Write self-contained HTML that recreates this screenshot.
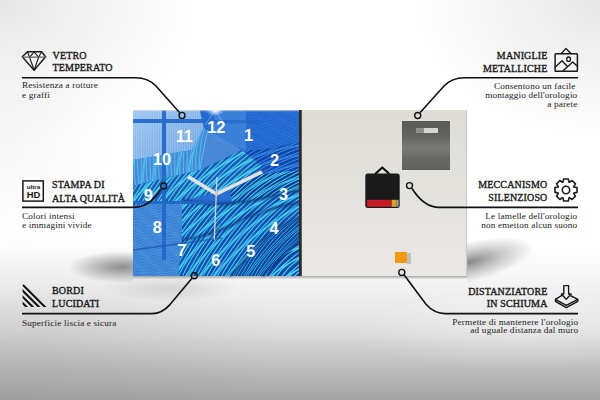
<!DOCTYPE html>
<html><head><meta charset="utf-8">
<style>
html,body{margin:0;padding:0;width:600px;height:400px;overflow:hidden;}
body{position:relative;background:#fff;font-family:"Liberation Serif",serif;}
#bg{position:absolute;left:0;top:0;width:600px;height:400px;
background:
 radial-gradient(ellipse 170px 45px at 520px 325px, rgba(255,255,255,0.35) 0%, rgba(255,255,255,0) 100%),
 radial-gradient(ellipse 260px 110px at 20px 340px, rgba(0,0,0,0.07) 0%, rgba(0,0,0,0) 100%),
 linear-gradient(180deg, rgba(0,0,0,0) 0px, rgba(0,0,0,0) 245px, rgba(0,0,0,0.04) 280px, rgba(0,0,0,0.13) 330px, rgba(0,0,0,0.27) 372px, rgba(0,0,0,0.36) 400px),
 radial-gradient(ellipse 200px 150px at 0px 0px, rgba(0,0,0,0.10) 0%, rgba(0,0,0,0.04) 55%, rgba(0,0,0,0) 100%),
 radial-gradient(ellipse 190px 140px at 600px 0px, rgba(0,0,0,0.10) 0%, rgba(0,0,0,0.04) 55%, rgba(0,0,0,0) 100%),
 radial-gradient(ellipse 120px 90px at 0px 150px, rgba(0,0,0,0.03) 0%, rgba(0,0,0,0) 100%),
 #ffffff;}
svg{position:absolute;left:0;top:0;}
</style></head><body>
<div id="bg"></div>
<svg width="600" height="400" viewBox="0 0 600 400">
<defs>
 <radialGradient id="shL" cx="0.5" cy="0.5" r="0.5">
  <stop offset="0" stop-color="#000" stop-opacity="0.42"/>
  <stop offset="0.5" stop-color="#000" stop-opacity="0.22"/>
  <stop offset="1" stop-color="#000" stop-opacity="0"/>
 </radialGradient>
 <radialGradient id="shR" cx="0.5" cy="0.5" r="0.5">
  <stop offset="0" stop-color="#000" stop-opacity="0.45"/>
  <stop offset="0.5" stop-color="#000" stop-opacity="0.2"/>
  <stop offset="1" stop-color="#000" stop-opacity="0"/>
 </radialGradient>
 <linearGradient id="shB" x1="0" y1="0" x2="0" y2="1">
  <stop offset="0" stop-color="#000" stop-opacity="0.32"/>
  <stop offset="1" stop-color="#000" stop-opacity="0"/>
 </linearGradient>
 <linearGradient id="panelG" x1="0" y1="0" x2="0" y2="1">
  <stop offset="0" stop-color="#dedcd5"/>
  <stop offset="0.5" stop-color="#e3e2dd"/>
  <stop offset="1" stop-color="#e9e8e4"/>
 </linearGradient>
 <linearGradient id="blueBase" x1="0" y1="0" x2="1" y2="1">
  <stop offset="0" stop-color="#7fb2e6"/>
  <stop offset="0.35" stop-color="#3f8ad8"/>
  <stop offset="0.7" stop-color="#1f6fd0"/>
  <stop offset="1" stop-color="#1555b8"/>
 </linearGradient>
 <linearGradient id="plate" x1="0" y1="0" x2="0" y2="1">
  <stop offset="0" stop-color="#5a5a58"/>
  <stop offset="0.3" stop-color="#626260"/>
  <stop offset="0.55" stop-color="#7a7a78"/>
  <stop offset="0.75" stop-color="#686866"/>
  <stop offset="1" stop-color="#60605e"/>
 </linearGradient>
</defs>
<!-- shadows -->
<clipPath id="clipSL"><rect x="0" y="200" width="133" height="120"/></clipPath>
<clipPath id="clipSR"><rect x="467" y="200" width="133" height="120"/></clipPath>
<g clip-path="url(#clipSL)"><ellipse cx="122" cy="267" rx="54" ry="16" fill="url(#shL)"/></g>
<g clip-path="url(#clipSR)"><ellipse cx="470" cy="262" rx="66" ry="20" fill="url(#shR)" transform="rotate(-14 470 262)"/></g>
<rect x="133" y="276" width="334" height="3.5" fill="url(#shB)"/>
<ellipse cx="170" cy="288" rx="70" ry="14" fill="url(#shL)" opacity="0.25"/>
<!-- blue panel -->
<rect x="133" y="110" width="166" height="166" fill="#2468d0"/>
<clipPath id="q1"><polygon points="133,110 300,110 300,276 133,276"/></clipPath>
<path clip-path="url(#q1)" d="M47.0 163.2 51.5 159.2 57.3 157.0 61.0 151.8 67.3 150.3 71.0 145.2 76.7 142.8 81.4 139.1 85.9 135.1 91.8 132.9 95.4 127.7 101.7 126.2 105.4 121.1 111.1 118.7 115.8 115.0 120.4 111.0 126.2 108.8 129.8 103.6 136.1 102.1 139.8 97.0 145.5 94.7 150.2 90.9 154.8 86.9 160.6 84.7 164.2 79.5 170.5 78.0 174.2 72.9 179.9 70.6 184.6 66.8 189.2 62.8 195.0 60.7 198.6 55.5 204.9 53.9 208.6 48.8 214.3 46.5 219.0 42.7 223.6 38.7 229.4 36.6 233.0 31.4 239.3 29.8 243.0 24.7M47.9 164.5 53.4 161.8 58.3 158.4 62.6 154.1 68.6 152.2 72.2 146.9 78.4 145.3 82.3 140.4 87.8 137.8 92.7 134.3 97.1 130.0 103.0 128.1 106.6 122.8 112.8 121.2 116.7 116.3 122.2 113.7 127.1 110.2 131.5 106.0 137.4 104.0 141.0 98.7 147.3 97.1 151.1 92.2 156.6 89.6 161.5 86.1 165.9 81.9 171.8 79.9 175.4 74.6 181.7 73.0 185.5 68.1 191.0 65.5 195.9 62.0 200.3 57.8 206.2 55.8 209.8 50.5 216.1 48.9 219.9 44.0 225.4 41.4 230.3 38.0 234.7 33.7 240.6 31.7 244.2 26.4M49.0 166.1 55.2 164.4 59.2 159.7 64.5 156.8 69.6 153.7 73.8 149.1 79.9 147.3 83.4 142.0 89.6 140.3 93.6 135.6 98.9 132.7 104.0 129.6 108.2 125.0 114.3 123.2 117.8 117.9 124.0 116.2 128.0 111.5 133.3 108.6 138.4 105.5 142.6 100.9 148.7 99.2 152.2 93.8 158.4 92.1 162.4 87.4 167.7 84.5 172.9 81.4 177.0 76.8 183.1 75.1 186.7 69.7 192.8 68.0 196.8 63.3 202.1 60.4 207.3 57.3 211.4 52.7 217.5 51.0 221.1 45.6 227.2 43.9 231.2 39.2 236.5 36.3 241.7 33.2 245.8 28.6M50.5 168.2 56.7 166.5 60.3 161.2 66.3 159.4 70.5 154.9 75.6 151.7 81.0 148.9 84.9 144.1 91.1 142.5 94.7 137.1 100.7 135.3 104.9 130.8 110.0 127.6 115.4 124.8 119.3 120.0 125.5 118.4 129.1 113.0 135.1 111.2 139.3 106.8 144.4 103.5 149.8 100.7 153.7 95.9 159.9 94.3 163.5 88.9 169.5 87.1 173.7 82.7 178.8 79.4 184.2 76.6 188.1 71.8 194.3 70.2 197.9 64.8 203.9 63.0 208.2 58.6 213.2 55.3 218.6 52.5 222.5 47.7 228.7 46.1 232.3 40.7 238.3 38.9 242.6 34.5 247.6 31.2M52.3 170.7 57.9 168.2 61.7 163.2 67.9 161.6 71.5 156.4 77.4 154.3 81.9 150.2 86.7 146.6 92.3 144.1 96.1 139.1 102.3 137.5 105.9 132.3 111.8 130.2 116.3 126.1 121.1 122.5 126.7 120.0 130.5 115.0 136.7 113.4 140.3 108.2 146.2 106.1 150.7 102.0 155.5 98.4 161.1 95.9 164.9 90.9 171.1 89.4 174.7 84.1 180.6 82.0 185.1 77.9 189.9 74.3 195.5 71.8 199.3 66.8 205.5 65.3 209.1 60.0 215.0 57.9 219.5 53.8 224.3 50.2 229.9 47.8 233.7 42.7 239.9 41.2 243.6 35.9 249.4 33.9M54.1 173.3 58.8 169.5 63.3 165.6 69.1 163.4 72.8 158.2 79.1 156.7 82.8 151.5 88.5 149.2 93.2 145.4 97.8 141.5 103.5 139.3 107.2 134.1 113.5 132.6 117.2 127.5 122.9 125.1 127.6 121.4 132.2 117.4 137.9 115.2 141.6 110.0 147.9 108.5 151.6 103.4 157.3 101.1 162.0 97.3 166.6 93.3 172.4 91.1 176.0 85.9 182.3 84.4 186.0 79.3 191.7 77.0 196.4 73.2 201.0 69.2 206.8 67.0 210.4 61.8 216.7 60.3 220.4 55.2 226.1 52.9 230.8 49.1 235.4 45.1 241.2 43.0 244.8 37.8 251.1 36.2M55.8 175.8 59.7 170.8 65.2 168.2 70.1 164.8 74.5 160.5 80.4 158.6 84.0 153.3 90.2 151.7 94.1 146.7 99.6 144.2 104.5 140.7 108.9 136.4 114.8 134.5 118.4 129.2 124.6 127.6 128.5 122.7 134.0 120.1 138.9 116.6 143.3 112.3 149.2 110.4 152.8 105.1 159.1 103.5 162.9 98.6 168.4 96.0 173.3 92.5 177.7 88.3 183.6 86.3 187.2 81.0 193.5 79.4 197.3 74.5 202.8 71.9 207.7 68.4 212.1 64.2 218.0 62.2 221.6 56.9 227.9 55.3 231.7 50.4 237.2 47.8 242.1 44.3 246.5 40.1 252.4 38.1M57.3 177.8 60.8 172.5 67.0 170.8 71.0 166.1 76.3 163.2 81.4 160.0 85.6 155.5 91.7 153.7 95.2 148.4 101.4 146.7 105.4 142.0 110.7 139.1 115.8 135.9 120.0 131.4 126.1 129.6 129.6 124.3 135.8 122.6 139.8 117.9 145.1 115.0 150.2 111.9 154.4 107.3 160.5 105.5 164.0 100.2 170.2 98.5 174.2 93.8 179.5 90.9 184.6 87.8 188.8 83.2 194.9 81.5 198.4 76.1 204.6 74.4 208.6 69.7 213.9 66.8 219.0 63.7 223.2 59.1 229.3 57.4 232.9 52.0 239.0 50.3 243.0 45.6 248.3 42.7 253.5 39.6M58.3 179.4 62.3 174.6 68.5 172.9 72.1 167.6 78.1 165.8 82.3 161.3 87.4 158.1 92.7 155.3 96.7 150.5 102.9 148.8 106.5 143.5 112.5 141.7 116.7 137.2 121.8 134.0 127.2 131.2 131.1 126.4 137.3 124.7 140.9 119.4 146.9 117.6 151.1 113.1 156.2 109.9 161.6 107.1 165.5 102.3 171.7 100.7 175.3 95.3 181.3 93.5 185.5 89.0 190.6 85.8 196.0 83.0 199.9 78.2 206.1 76.6 209.7 71.2 215.7 69.4 219.9 64.9 225.0 61.7 230.4 58.9 234.3 54.1 240.5 52.5 244.1 47.1 250.1 45.3 254.3 40.9M59.2 180.7 64.1 177.1 69.6 174.6 73.5 169.6 79.7 168.0 83.3 162.7 89.2 160.7 93.6 156.6 98.5 153.0 104.0 150.5 107.9 145.5 114.1 143.9 117.7 138.7 123.6 136.6 128.1 132.5 132.9 128.9 138.5 126.4 142.3 121.4 148.5 119.8 152.1 114.6 158.0 112.5 162.5 108.4 167.3 104.8 172.9 102.3 176.7 97.3 182.9 95.7 186.5 90.5 192.4 88.4 196.9 84.3 201.7 80.7 207.3 78.2 211.1 73.2 217.3 71.7 220.9 66.4 226.8 64.3 231.3 60.2 236.1 56.6 241.7 54.1 245.5 49.1 251.7 47.6 255.3 42.3M60.2 182.0 65.9 179.7 70.6 175.9 75.2 172.0 80.9 169.8 84.6 164.6 90.9 163.1 94.6 157.9 100.3 155.6 105.0 151.8 109.6 147.9 115.3 145.7 119.0 140.5 125.3 139.0 129.0 133.8 134.7 131.5 139.4 127.7 144.0 123.8 149.7 121.6 153.4 116.4 159.7 114.9 163.4 109.7 169.1 107.5 173.8 103.6 178.4 99.7 184.1 97.5 187.8 92.3 194.1 90.8 197.8 85.7 203.5 83.4 208.2 79.5 212.8 75.6 218.6 73.4 222.2 68.2 228.5 66.7 232.2 61.6 237.9 59.3 242.6 55.5 247.2 51.5 253.0 49.3 256.6 44.1M61.4 183.7 67.6 182.2 71.5 177.2 77.0 174.6 81.9 171.2 86.3 166.9 92.2 165.0 95.8 159.7 102.0 158.1 105.9 153.1 111.4 150.6 116.3 147.1 120.7 142.8 126.6 140.9 130.2 135.6 136.4 134.0 140.3 129.0 145.8 126.5 150.7 123.0 155.1 118.7 161.0 116.8 164.6 111.5 170.9 109.9 174.7 105.0 180.2 102.4 185.1 98.9 189.5 94.7 195.4 92.7 199.0 87.4 205.3 85.8 209.1 80.9 214.6 78.3 219.5 74.8 223.9 70.6 229.8 68.6 233.4 63.3 239.7 61.7 243.5 56.8 249.0 54.2 253.9 50.7 258.3 46.5M63.0 186.0 69.1 184.2 72.6 178.8 78.8 177.2 82.8 172.4 88.1 169.6 93.2 166.4 97.4 161.9 103.5 160.1 107.0 154.8 113.2 153.1 117.2 148.4 122.5 145.5 127.6 142.3 131.8 137.8 137.9 136.0 141.4 130.7 147.6 129.0 151.6 124.3 156.9 121.4 162.0 118.2 166.2 113.7 172.3 111.9 175.8 106.6 182.0 104.9 186.0 100.2 191.3 97.3 196.4 94.1 200.6 89.6 206.7 87.8 210.2 82.5 216.4 80.8 220.4 76.1 225.7 73.2 230.8 70.1 235.0 65.5 241.1 63.7 244.6 58.4 250.8 56.7 254.8 52.0 260.1 49.1M64.8 188.6 70.1 185.7 74.1 180.9 80.3 179.3 83.9 174.0 89.9 172.2 94.1 167.7 99.2 164.5 104.5 161.7 108.5 156.9 114.7 155.2 118.3 149.9 124.3 148.1 128.5 143.6 133.6 140.4 138.9 137.6 142.9 132.8 149.1 131.1 152.7 125.8 158.7 124.0 162.9 119.5 168.0 116.3 173.3 113.5 177.3 108.7 183.5 107.0 187.1 101.7 193.1 99.9 197.3 95.4 202.4 92.2 207.8 89.4 211.7 84.6 217.9 83.0 221.5 77.6 227.5 75.8 231.7 71.3 236.8 68.1 242.2 65.3 246.1 60.5 252.3 58.9 255.9 53.5 261.9 51.7M66.6 191.2 71.0 187.0 75.9 183.5 81.4 181.0 85.3 176.0 91.5 174.4 95.1 169.1 101.0 167.1 105.4 162.9 110.3 159.4 115.8 156.9 119.7 151.9 125.9 150.3 129.5 145.0 135.4 143.0 139.8 138.9 144.7 135.3 150.2 132.8 154.1 127.8 160.3 126.2 163.9 120.9 169.8 118.9 174.2 114.8 179.1 111.2 184.7 108.7 188.5 103.7 194.7 102.1 198.3 96.9 204.2 94.8 208.7 90.7 213.5 87.1 219.1 84.6 222.9 79.6 229.1 78.0 232.7 72.8 238.6 70.7 243.1 66.6 247.9 63.0 253.5 60.5 257.3 55.5 263.5 54.0M68.3 193.5 72.0 188.4 77.7 186.1 82.4 182.3 87.0 178.4 92.7 176.2 96.4 171.0 102.7 169.5 106.4 164.3 112.1 162.0 116.8 158.2 121.4 154.3 127.1 152.1 130.8 146.9 137.1 145.4 140.8 140.2 146.5 137.9 151.2 134.1 155.8 130.2 161.5 128.0 165.2 122.8 171.5 121.3 175.2 116.1 180.9 113.9 185.6 110.0 190.2 106.1 195.9 103.9 199.6 98.7 205.9 97.2 209.6 92.0 215.3 89.8 220.0 85.9 224.6 82.0 230.3 79.8 234.0 74.6 240.3 73.1 244.0 67.9 249.7 65.7 254.4 61.8 259.0 57.9 264.7 55.7M69.6 195.4 73.2 190.1 79.4 188.6 83.3 183.6 88.8 181.0 93.7 177.5 98.1 173.3 104.0 171.3 107.6 166.0 113.8 164.5 117.7 159.5 123.2 156.9 128.1 153.5 132.5 149.2 138.4 147.3 142.0 142.0 148.2 140.4 152.1 135.4 157.6 132.9 162.5 129.4 166.9 125.1 172.8 123.2 176.4 117.9 182.7 116.3 186.5 111.3 192.0 108.8 196.9 105.3 201.3 101.0 207.2 99.1 210.8 93.8 217.1 92.2 220.9 87.2 226.4 84.7 231.3 81.2 235.7 77.0 241.6 75.0 245.2 69.7 251.5 68.1 255.3 63.2 260.8 60.6 265.7 57.1M70.6 196.9 74.8 192.4 80.8 190.6 84.4 185.2 90.6 183.6 94.6 178.8 99.9 176.0 105.0 172.8 109.2 168.3 115.3 166.5 118.8 161.1 125.0 159.5 129.0 154.7 134.3 151.9 139.4 148.7 143.6 144.2 149.7 142.4 153.2 137.0 159.4 135.4 163.4 130.6 168.7 127.8 173.8 124.6 178.0 120.1 184.1 118.3 187.6 113.0 193.8 111.3 197.8 106.6 203.1 103.7 208.2 100.5 212.4 96.0 218.5 94.2 222.0 88.9 228.2 87.2 232.2 82.5 237.5 79.6 242.6 76.4 246.8 71.9 252.9 70.1 256.4 64.8 262.6 63.1 266.6 58.4M71.5 198.2 76.6 194.9 81.9 192.1 85.9 187.3 92.1 185.7 95.7 180.4 101.7 178.5 105.9 174.1 111.0 170.9 116.3 168.0 120.3 163.3 126.5 161.6 130.1 156.3 136.1 154.5 140.3 150.0 145.4 146.8 150.7 143.9 154.7 139.2 160.9 137.5 164.5 132.2 170.5 130.4 174.7 125.9 179.8 122.7 185.1 119.9 189.1 115.1 195.3 113.4 198.9 108.1 204.9 106.3 209.1 101.8 214.2 98.6 219.5 95.8 223.5 91.0 229.7 89.3 233.3 84.0 239.3 82.2 243.5 77.7 248.6 74.5 253.9 71.7 257.9 66.9 264.1 65.3 267.7 59.9M72.5 199.6 78.4 197.6 82.8 193.4 87.7 189.9 93.2 187.3 97.1 182.3 103.3 180.8 106.9 175.5 112.8 173.5 117.2 169.3 122.1 165.8 127.6 163.3 131.5 158.3 137.7 156.7 141.3 151.4 147.2 149.4 151.6 145.2 156.5 141.7 162.0 139.2 165.9 134.2 172.1 132.6 175.7 127.3 181.6 125.3 186.0 121.1 190.9 117.6 196.4 115.1 200.3 110.1 206.5 108.5 210.1 103.2 216.0 101.2 220.4 97.1 225.3 93.5 230.8 91.0 234.7 86.0 240.9 84.4 244.5 79.1 250.4 77.1 254.8 73.0 259.7 69.4 265.3 66.9 269.1 61.9M73.8 201.5 80.1 199.9 83.8 194.8 89.5 192.5 94.2 188.7 98.8 184.8 104.5 182.6 108.2 177.4 114.5 175.8 118.2 170.7 123.9 168.4 128.6 164.6 133.2 160.7 138.9 158.5 142.6 153.3 148.9 151.8 152.6 146.6 158.3 144.3 163.0 140.5 167.6 136.6 173.3 134.4 177.0 129.2 183.3 127.7 187.0 122.5 192.7 120.2 197.4 116.4 202.0 112.5 207.7 110.3 211.4 105.1 217.7 103.6 221.4 98.4 227.1 96.2 231.8 92.3 236.4 88.4 242.1 86.2 245.8 81.0 252.1 79.5 255.8 74.3 261.5 72.1 266.2 68.2 270.8 64.3M75.5 203.8 81.4 201.8 85.0 196.5 91.2 195.0 95.1 190.0 100.6 187.4 105.5 183.9 109.9 179.7 115.8 177.7 119.4 172.4 125.6 170.9 129.5 165.9 135.0 163.3 139.9 159.8 144.3 155.6 150.2 153.6 153.8 148.3 160.1 146.8 163.9 141.8 169.4 139.3 174.3 135.7 178.7 131.5 184.6 129.5 188.2 124.3 194.5 122.7 198.3 117.7 203.8 115.2 208.7 111.7 213.1 107.4 219.0 105.5 222.6 100.2 228.9 98.6 232.7 93.6 238.2 91.1 243.1 87.6 247.5 83.4 253.4 81.4 257.0 76.1 263.3 74.5 267.1 69.5 272.6 67.0M77.3 206.4 82.4 203.3 86.6 198.8 92.6 197.0 96.2 191.6 102.4 190.0 106.4 185.2 111.7 182.3 116.8 179.2 121.0 174.7 127.0 172.9 130.6 167.5 136.8 165.9 140.8 161.1 146.1 158.3 151.2 155.1 155.4 150.6 161.5 148.8 165.0 143.4 171.2 141.8 175.2 137.0 180.5 134.2 185.6 131.0 189.8 126.5 195.9 124.7 199.4 119.3 205.6 117.7 209.6 112.9 214.9 110.1 220.0 106.9 224.2 102.4 230.3 100.6 233.8 95.3 240.0 93.6 244.0 88.8 249.3 86.0 254.4 82.8 258.6 78.3 264.7 76.5 268.2 71.2 274.4 69.5M79.1 209.0 83.3 204.5 88.4 201.3 93.7 198.5 97.7 193.7 103.9 192.1 107.5 186.7 113.5 184.9 117.7 180.4 122.8 177.3 128.1 174.4 132.1 169.6 138.3 168.0 141.9 162.6 147.9 160.8 152.1 156.4 157.2 153.2 162.5 150.3 166.5 145.6 172.7 143.9 176.3 138.6 182.3 136.8 186.5 132.3 191.6 129.1 196.9 126.2 200.9 121.5 207.1 119.8 210.7 114.5 216.7 112.7 220.9 108.2 226.0 105.0 231.3 102.1 235.3 97.4 241.5 95.7 245.1 90.4 251.1 88.6 255.3 84.1 260.4 80.9 265.7 78.1 269.7 73.3 275.9 71.6M80.7 211.3 84.3 206.0 90.2 204.0 94.6 199.8 99.5 196.3 105.0 193.7 108.9 188.7 115.1 187.2 118.7 181.9 124.6 179.9 129.0 175.7 133.9 172.2 139.4 169.6 143.3 164.6 149.5 163.1 153.1 157.8 159.0 155.8 163.4 151.6 168.3 148.1 173.8 145.5 177.7 140.6 183.9 139.0 187.5 133.7 193.4 131.7 197.8 127.5 202.7 124.0 208.2 121.5 212.1 116.5 218.3 114.9 221.9 109.6 227.8 107.6 232.2 103.4 237.1 99.9 242.6 97.4 246.5 92.4 252.7 90.8 256.3 85.5 262.3 83.5 266.6 79.3 271.5 75.8 277.0 73.3M81.9 213.0 85.6 207.9 91.9 206.3 95.6 201.2 101.3 198.9 105.9 195.0 110.6 191.2 116.3 188.9 120.0 183.8 126.3 182.2 130.0 177.1 135.7 174.8 140.4 171.0 145.0 167.1 150.7 164.8 154.4 159.7 160.7 158.1 164.4 153.0 170.1 150.7 174.8 146.9 179.4 143.0 185.1 140.8 188.8 135.6 195.1 134.1 198.8 128.9 204.5 126.6 209.2 122.8 213.8 118.9 219.5 116.7 223.2 111.5 229.5 110.0 233.2 104.8 238.9 102.6 243.6 98.7 248.2 94.8 253.9 92.6 257.6 87.4 263.9 85.9 267.6 80.7 273.4 78.5 278.0 74.6M82.9 214.4 87.3 210.2 93.2 208.2 96.8 202.9 103.0 201.4 106.9 196.4 112.4 193.8 117.3 190.3 121.7 186.1 127.6 184.1 131.2 178.8 137.4 177.3 141.3 172.3 146.8 169.7 151.7 166.2 156.1 162.0 162.0 160.0 165.6 154.7 171.9 153.2 175.7 148.2 181.2 145.7 186.1 142.1 190.5 137.9 196.4 135.9 200.0 130.6 206.3 129.1 210.1 124.1 215.6 121.6 220.5 118.0 224.9 113.8 230.8 111.8 234.4 106.6 240.7 105.0 244.5 100.0 250.0 97.5 254.9 93.9 259.3 89.8 265.2 87.8 268.8 82.5 275.1 80.9 278.9 75.9M83.8 215.7 89.1 212.8 94.2 209.6 98.4 205.2 104.4 203.4 108.0 198.0 114.2 196.4 118.2 191.6 123.5 188.7 128.6 185.6 132.8 181.1 138.8 179.3 142.4 173.9 148.6 172.3 152.6 167.5 157.9 164.7 163.0 161.5 167.2 157.0 173.2 155.2 176.8 149.8 183.0 148.2 187.0 143.4 192.3 140.6 197.4 137.4 201.6 132.9 207.7 131.1 211.2 125.7 217.4 124.1 221.4 119.3 226.7 116.5 231.8 113.3 236.0 108.8 242.1 107.0 245.6 101.6 251.8 100.0 255.8 95.2 261.1 92.4 266.2 89.2 270.4 84.7 276.5 82.9 280.0 77.6M84.8 217.2 90.9 215.4 95.1 210.9 100.2 207.7 105.5 204.9 109.5 200.1 115.7 198.5 119.3 193.1 125.3 191.3 129.5 186.8 134.6 183.7 139.9 180.8 143.9 176.0 150.1 174.4 153.7 169.0 159.7 167.2 163.9 162.7 169.0 159.6 174.3 156.7 178.3 151.9 184.5 150.3 188.1 144.9 194.1 143.2 198.3 138.6 203.4 135.5 208.7 132.6 212.7 127.9 218.9 126.2 222.5 120.9 228.5 119.1 232.7 114.6 237.8 111.4 243.1 108.5 247.1 103.8 253.3 102.1 256.9 96.8 262.9 95.0 267.1 90.5 272.2 87.3 277.5 84.4 281.5 79.7M86.2 219.2 92.5 217.7 96.1 212.4 102.0 210.4 106.4 206.2 111.3 202.7 116.8 200.1 120.7 195.1 126.9 193.6 130.5 188.3 136.4 186.3 140.8 182.1 145.7 178.6 151.2 176.0 155.1 171.0 161.3 169.5 164.9 164.2 170.8 162.2 175.2 158.0 180.1 154.5 185.6 151.9 189.5 146.9 195.7 145.4 199.3 140.1 205.2 138.1 209.6 133.9 214.5 130.4 220.0 127.8 223.9 122.9 230.1 121.3 233.7 116.0 239.6 114.0 244.0 109.8 248.9 106.3 254.4 103.7 258.3 98.8 264.5 97.2 268.1 91.9 274.1 89.9 278.4 85.7 283.3 82.2M88.0 221.7 93.7 219.4 97.4 214.2 103.7 212.7 107.4 207.5 113.1 205.3 117.7 201.4 122.4 197.6 128.1 195.3 131.8 190.2 138.1 188.6 141.8 183.5 147.5 181.2 152.1 177.3 156.8 173.5 162.5 171.2 166.2 166.1 172.5 164.5 176.2 159.4 181.9 157.1 186.5 153.2 191.2 149.4 196.9 147.1 200.6 142.0 206.9 140.4 210.6 135.3 216.3 133.0 221.0 129.2 225.6 125.3 231.3 123.0 235.0 117.9 241.3 116.4 245.0 111.2 250.8 109.0 255.4 105.1 260.0 101.2 265.7 99.0 269.4 93.8 275.7 92.3 279.4 87.1 285.2 84.9M89.8 224.3 94.7 220.8 99.1 216.6 105.0 214.6 108.6 209.3 114.8 207.8 118.7 202.7 124.2 200.2 129.1 196.7 133.5 192.5 139.4 190.5 143.0 185.2 149.2 183.7 153.1 178.7 158.6 176.1 163.5 172.6 167.9 168.4 173.8 166.4 177.4 161.1 183.7 159.6 187.5 154.6 193.0 152.1 197.9 148.5 202.3 144.3 208.2 142.3 211.8 137.0 218.1 135.5 221.9 130.5 227.4 128.0 232.3 124.4 236.7 120.2 242.6 118.2 246.2 112.9 252.5 111.4 256.3 106.4 261.8 103.9 266.7 100.3 271.1 96.1 277.0 94.1 280.6 88.9 286.9 87.3M91.6 226.8 95.6 222.1 100.9 219.2 106.0 216.0 110.2 211.5 116.2 209.7 119.8 204.4 126.0 202.8 130.0 198.0 135.3 195.1 140.4 191.9 144.6 187.5 150.6 185.6 154.2 180.3 160.4 178.7 164.4 173.9 169.7 171.1 174.8 167.8 179.0 163.4 185.0 161.6 188.6 156.2 194.8 154.6 198.8 149.8 204.1 147.0 209.2 143.8 213.4 139.3 219.4 137.5 223.0 132.1 229.2 130.5 233.2 125.7 238.5 122.9 243.6 119.7 247.8 115.2 253.9 113.4 257.4 108.0 263.6 106.4 267.6 101.6 272.9 98.8 278.0 95.6 282.2 91.1 288.3 89.3M93.1 229.0 96.6 223.6 102.7 221.8 106.9 217.3 112.0 214.1 117.3 211.3 121.3 206.5 127.5 204.9 131.0 199.5 137.1 197.7 141.3 193.2 146.4 190.1 151.7 187.2 155.7 182.4 161.9 180.8 165.5 175.4 171.5 173.6 175.7 169.1 180.8 166.0 186.1 163.1 190.1 158.3 196.3 156.7 199.9 151.3 205.9 149.5 210.1 145.0 215.2 141.9 220.5 139.0 224.5 134.3 230.7 132.6 234.3 127.2 240.3 125.5 244.5 120.9 249.6 117.8 254.9 114.9 258.9 110.2 265.1 108.5 268.7 103.2 274.7 101.4 278.9 96.8 284.0 93.7 289.3 90.8M94.2 230.6 98.0 225.6 104.3 224.0 107.9 218.8 113.8 216.8 118.2 212.5 123.1 209.1 128.6 206.5 132.5 201.5 138.7 200.0 142.3 194.7 148.2 192.7 152.6 188.5 157.5 185.0 163.0 182.4 166.9 177.4 173.1 175.9 176.7 170.6 182.6 168.6 187.0 164.4 191.9 160.9 197.4 158.3 201.3 153.3 207.5 151.8 211.1 146.5 217.0 144.5 221.4 140.3 226.3 136.8 231.8 134.2 235.7 129.2 241.9 127.7 245.5 122.4 251.5 120.4 255.8 116.2 260.7 112.7 266.2 110.1 270.1 105.2 276.3 103.6 279.9 98.3 285.9 96.3 290.2 92.1M95.1 231.9 99.8 228.1 105.5 225.8 109.2 220.6 115.5 219.1 119.2 213.9 124.9 211.7 129.5 207.8 134.2 204.0 139.9 201.7 143.6 196.5 149.9 195.0 153.6 189.8 159.3 187.6 163.9 183.7 168.6 179.9 174.3 177.6 178.0 172.5 184.3 170.9 188.0 165.7 193.7 163.5 198.3 159.6 203.0 155.8 208.7 153.5 212.4 148.4 218.7 146.8 222.4 141.7 228.2 139.4 232.7 135.5 237.4 131.7 243.1 129.4 246.8 124.3 253.1 122.7 256.8 117.6 262.6 115.3 267.1 111.4 271.8 107.6 277.5 105.3 281.2 100.2 287.5 98.7 291.2 93.5M96.1 233.2 101.6 230.7 106.5 227.2 110.9 223.0 116.8 221.0 120.4 215.7 126.6 214.1 130.5 209.1 136.0 206.6 140.9 203.1 145.3 198.9 151.2 196.9 154.8 191.6 161.0 190.1 164.9 185.0 170.4 182.5 175.3 179.0 179.7 174.8 185.6 172.8 189.2 167.5 195.5 166.0 199.3 160.9 204.8 158.4 209.7 154.9 214.1 150.7 220.0 148.7 223.6 143.4 229.9 141.9 233.7 136.9 239.2 134.4 244.1 130.8 248.5 126.6 254.4 124.6 258.0 119.3 264.3 117.8 268.1 112.8 273.6 110.3 278.5 106.7 282.9 102.5 288.8 100.5 292.4 95.2M97.2 234.9 103.4 233.2 107.4 228.4 112.7 225.6 117.8 222.4 122.0 217.9 128.0 216.1 131.6 210.8 137.8 209.1 141.8 204.3 147.1 201.5 152.2 198.3 156.4 193.9 162.4 192.0 166.0 186.7 172.2 185.1 176.2 180.3 181.5 177.5 186.6 174.2 190.8 169.8 196.8 167.9 200.4 162.6 206.6 161.0 210.6 156.2 215.9 153.4 221.0 150.1 225.2 145.7 231.2 143.9 234.8 138.5 241.0 136.9 245.0 132.1 250.3 129.3 255.4 126.0 259.6 121.6 265.6 119.8 269.2 114.4 275.4 112.8 279.4 108.0 284.7 105.2 289.8 102.0 294.0 97.5M98.7 237.0 104.9 235.3 108.4 230.0 114.5 228.2 118.7 223.7 123.8 220.5 129.1 217.6 133.1 212.9 139.3 211.3 142.8 205.9 148.9 204.1 153.1 199.6 158.2 196.5 163.5 193.6 167.5 188.8 173.7 187.2 177.2 181.8 183.3 180.0 187.5 175.5 192.6 172.4 197.9 169.5 201.9 164.7 208.1 163.1 211.7 157.7 217.7 155.9 221.9 151.4 227.0 148.3 232.3 145.4 236.3 140.6 242.5 139.0 246.1 133.6 252.1 131.9 256.3 127.3 261.4 124.2 266.7 121.3 270.7 116.6 276.9 114.9 280.5 109.5 286.5 107.8 290.7 103.2 295.8 100.1M100.5 239.5 106.0 237.0 109.8 232.0 116.1 230.4 119.7 225.1 125.6 223.2 130.0 218.9 134.9 215.5 140.4 212.9 144.3 207.9 150.5 206.3 154.1 201.0 160.0 199.1 164.4 194.8 169.3 191.4 174.8 188.8 178.7 183.8 184.9 182.3 188.5 177.0 194.4 175.0 198.8 170.7 203.7 167.3 209.2 164.7 213.1 159.7 219.3 158.2 222.9 152.9 228.9 150.9 233.2 146.7 238.1 143.2 243.6 140.6 247.5 135.6 253.7 134.1 257.3 128.8 263.3 126.8 267.6 122.6 272.5 119.1 278.0 116.5 281.9 111.6 288.1 110.0 291.7 104.7 297.7 102.7M102.3 242.2 106.9 238.3 111.6 234.5 117.3 232.2 121.0 227.0 127.3 225.5 131.0 220.3 136.7 218.1 141.3 214.2 146.0 210.4 151.7 208.1 155.4 202.9 161.7 201.4 165.4 196.2 171.1 194.0 175.7 190.1 180.4 186.3 186.1 184.0 189.8 178.8 196.1 177.3 199.8 172.1 205.6 169.9 210.1 166.0 214.8 162.2 220.5 159.9 224.2 154.8 230.5 153.2 234.2 148.0 240.0 145.8 244.5 141.9 249.2 138.1 254.9 135.8 258.6 130.7 264.9 129.1 268.6 123.9 274.4 121.7 278.9 117.8 283.6 114.0 289.3 111.7 293.0 106.6 299.3 105.0M104.0 244.6 107.8 239.6 113.4 237.1 118.2 233.5 122.7 229.4 128.6 227.4 132.2 222.1 138.4 220.5 142.2 215.5 147.8 213.0 152.6 209.4 157.1 205.3 163.0 203.3 166.6 198.0 172.8 196.4 176.7 191.4 182.2 188.9 187.1 185.4 191.5 181.2 197.4 179.2 201.0 173.9 207.3 172.4 211.1 167.3 216.6 164.8 221.5 161.3 225.9 157.1 231.8 155.1 235.4 149.8 241.7 148.3 245.5 143.2 251.0 140.8 255.9 137.2 260.3 133.0 266.2 131.0 269.8 125.7 276.1 124.2 279.9 119.1 285.5 116.7 290.3 113.1 294.7 108.9 300.6 106.9M105.4 246.6 109.0 241.3 115.2 239.6 119.1 234.8 124.5 232.0 129.6 228.8 133.8 224.3 139.8 222.5 143.4 217.2 149.6 215.5 153.6 210.7 158.9 207.9 164.0 204.7 168.2 200.2 174.2 198.4 177.8 193.1 184.0 191.4 188.0 186.6 193.3 183.8 198.4 180.6 202.6 176.2 208.6 174.3 212.2 169.0 218.4 167.4 222.4 162.5 227.7 159.8 232.8 156.5 237.0 152.1 243.0 150.2 246.6 144.9 252.8 143.3 256.8 138.5 262.1 135.7 267.2 132.4 271.4 128.0 277.4 126.1 281.0 120.8 287.2 119.2 291.2 114.4 296.5 111.6 301.6 108.3M106.5 248.1 110.5 243.4 116.7 241.7 120.2 236.4 126.3 234.6 130.5 230.1 135.6 226.9 140.9 224.0 144.9 219.3 151.1 217.6 154.6 212.3 160.7 210.5 164.9 206.0 170.0 202.8 175.3 199.9 179.3 195.2 185.5 193.5 189.0 188.2 195.1 186.4 199.3 181.9 204.4 178.8 209.7 175.8 213.7 171.1 219.9 169.5 223.4 164.1 229.5 162.3 233.7 157.8 238.8 154.7 244.1 151.8 248.1 147.0 254.3 145.4 257.9 140.0 263.9 138.2 268.1 133.7 273.2 130.6 278.5 127.7 282.5 122.9 288.7 121.3 292.3 115.9 298.3 114.2 302.5 109.6M107.4 249.4 112.3 245.9 117.8 243.3 121.6 238.4 127.9 236.8 131.5 231.5 137.4 229.6 141.8 225.3 146.7 221.8 152.2 219.3 156.1 214.3 162.3 212.7 165.9 207.4 171.8 205.5 176.2 201.2 181.1 197.8 186.6 195.2 190.5 190.2 196.7 188.6 200.3 183.3 206.3 181.4 210.6 177.1 215.5 173.7 221.0 171.1 224.9 166.1 231.1 164.6 234.7 159.2 240.7 157.3 245.0 153.0 249.9 149.6 255.4 147.0 259.3 142.0 265.5 140.5 269.1 135.2 275.1 133.2 279.4 128.9 284.3 125.5 289.8 122.9 293.7 117.9 299.9 116.4 303.5 111.1M108.3 250.8 114.1 248.6 118.7 244.7 123.4 240.9 129.1 238.6 132.8 233.4 139.1 231.9 142.8 226.7 148.5 224.5 153.1 220.6 157.8 216.8 163.5 214.5 167.2 209.3 173.5 207.8 177.2 202.6 183.0 200.4 187.5 196.5 192.2 192.7 197.9 190.4 201.6 185.2 207.9 183.7 211.6 178.5 217.4 176.3 221.9 172.4 226.6 168.6 232.3 166.3 236.0 161.1 242.3 159.6 246.0 154.4 251.8 152.2 256.3 148.3 261.0 144.5 266.7 142.2 270.4 137.1 276.7 135.5 280.4 130.3 286.2 128.1 290.7 124.2 295.4 120.4 301.1 118.1 304.8 113.0M109.6 252.6 115.8 251.0 119.6 246.0 125.2 243.5 130.0 239.9 134.5 235.8 140.4 233.7 144.0 228.5 150.2 226.9 154.0 221.9 159.6 219.4 164.4 215.8 168.9 211.7 174.8 209.6 178.4 204.4 184.6 202.8 188.4 197.8 194.0 195.3 198.8 191.7 203.3 187.6 209.2 185.6 212.8 180.3 219.1 178.7 222.9 173.7 228.4 171.2 233.2 167.6 237.7 163.5 243.6 161.5 247.2 156.2 253.5 154.7 257.3 149.6 262.9 147.2 267.7 143.5 272.1 139.4 278.0 137.4 281.6 132.1 287.9 130.6 291.7 125.5 297.3 123.1 302.1 119.5 306.5 115.3M111.2 254.8 117.2 253.0 120.8 247.6 127.0 246.0 130.9 241.2 136.3 238.4 141.4 235.2 145.6 230.7 151.6 228.9 155.2 223.6 161.4 221.9 165.3 217.1 170.7 214.3 175.8 211.1 180.0 206.6 186.0 204.8 189.6 199.5 195.8 197.8 199.7 193.0 205.1 190.2 210.2 187.0 214.4 182.6 220.4 180.7 224.0 175.4 230.2 173.8 234.2 168.9 239.5 166.2 244.6 162.9 248.8 158.5 254.8 156.6 258.4 151.3 264.6 149.7 268.6 144.8 273.9 142.1 279.0 138.8 283.2 134.4 289.2 132.5 292.8 127.2 299.0 125.6 303.0 120.7 308.3 118.0M113.0 257.4 118.3 254.5 122.3 249.8 128.5 248.1 132.0 242.8 138.1 241.0 142.3 236.4 147.4 233.3 152.7 230.4 156.7 225.7 162.9 224.0 166.4 218.7 172.5 216.9 176.7 212.3 181.8 209.2 187.1 206.3 191.1 201.6 197.3 199.9 200.8 194.6 206.9 192.8 211.1 188.3 216.2 185.2 221.5 182.2 225.5 177.5 231.7 175.8 235.2 170.5 241.3 168.7 245.5 164.2 250.6 161.1 255.9 158.1 259.9 153.4 266.1 151.8 269.6 146.4 275.7 144.6 279.9 140.1 285.0 137.0 290.3 134.0 294.3 129.3 300.5 127.7 304.1 122.3 310.1 120.6M114.8 260.1 119.2 255.8 124.1 252.3 129.6 249.7 133.5 244.8 139.7 243.2 143.3 237.9 149.2 236.0 153.6 231.7 158.5 228.2 164.0 225.6 167.9 220.7 174.1 219.1 177.7 213.8 183.6 211.9 188.0 207.6 192.9 204.2 198.4 201.5 202.3 196.6 208.5 195.0 212.1 189.7 218.1 187.8 222.4 183.5 227.3 180.1 232.8 177.5 236.7 172.5 242.9 170.9 246.5 165.6 252.5 163.7 256.8 159.4 261.7 156.0 267.2 153.4 271.1 148.4 277.3 146.9 280.9 141.5 286.9 139.6 291.2 135.3 296.1 131.9 301.6 129.3 305.5 124.3 311.7 122.8M116.5 262.4 120.1 257.2 125.9 255.0 130.5 251.0 135.2 247.3 140.9 244.9 144.6 239.8 150.9 238.3 154.5 233.1 160.3 230.9 164.9 226.9 169.6 223.2 175.3 220.8 179.0 215.7 185.3 214.2 189.0 209.0 194.8 206.8 199.3 202.9 204.0 199.1 209.7 196.8 213.4 191.6 219.7 190.1 223.4 184.9 229.2 182.7 233.7 178.8 238.4 175.0 244.1 172.7 247.8 167.5 254.1 166.0 257.8 160.8 263.6 158.6 268.1 154.7 272.8 150.9 278.5 148.6 282.2 143.4 288.5 141.9 292.2 136.7 298.0 134.5 302.5 130.6 307.2 126.8 312.9 124.5M117.8 264.2 121.4 258.9 127.6 257.4 131.4 252.4 137.0 249.9 141.8 246.3 146.3 242.2 152.2 240.1 155.8 234.9 162.0 233.3 165.8 228.3 171.4 225.8 176.2 222.2 180.7 218.1 186.6 216.0 190.2 210.8 196.4 209.2 200.2 204.2 205.8 201.7 210.6 198.1 215.1 194.0 221.0 191.9 224.6 186.7 230.9 185.1 234.6 180.1 240.3 177.6 245.0 174.0 249.5 169.9 255.4 167.8 259.0 162.6 265.3 161.0 269.0 156.0 274.7 153.6 279.4 149.9 283.9 145.8 289.8 143.8 293.4 138.5 299.7 137.0 303.5 131.9 309.1 129.5 313.8 125.8M118.7 265.6 123.0 261.2 129.0 259.4 132.6 254.0 138.8 252.4 142.7 247.6 148.1 244.8 153.2 241.5 157.4 237.1 163.4 235.3 167.0 229.9 173.2 228.3 177.1 223.5 182.5 220.7 187.6 217.5 191.8 213.0 197.8 211.2 201.4 205.9 207.6 204.2 211.5 199.4 216.9 196.6 222.0 193.4 226.2 188.9 232.2 187.1 235.8 181.8 242.0 180.1 245.9 175.3 251.3 172.6 256.4 169.3 260.6 164.9 266.6 163.0 270.2 157.7 276.4 156.1 280.3 151.2 285.7 148.5 290.8 145.2 295.0 140.8 301.0 138.9 304.6 133.6 310.8 132.0 314.8 127.1M119.6 266.9 124.8 263.8 130.1 260.9 134.1 256.2 140.3 254.5 143.8 249.1 149.9 247.4 154.0 242.8 159.2 239.7 164.5 236.8 168.5 232.1 174.7 230.4 178.2 225.1 184.3 223.3 188.4 218.7 193.6 215.6 198.9 212.7 202.9 208.0 209.1 206.3 212.6 201.0 218.7 199.2 222.9 194.6 228.0 191.6 233.3 188.6 237.3 183.9 243.5 182.2 247.0 176.9 253.1 175.1 257.3 170.5 262.4 167.5 267.7 164.5 271.7 159.8 277.9 158.1 281.4 152.8 287.5 151.0 291.7 146.5 296.8 143.4 302.1 140.4 306.1 135.7 312.3 134.0 315.8 128.7M120.7 268.4 126.6 266.4 131.0 262.2 135.9 258.7 141.4 256.1 145.3 251.2 151.5 249.6 155.1 244.3 161.0 242.4 165.4 238.1 170.3 234.6 175.8 232.0 179.7 227.1 185.9 225.5 189.5 220.2 195.5 218.3 199.8 214.0 204.7 210.6 210.2 207.9 214.1 203.0 220.3 201.4 223.9 196.1 229.9 194.2 234.2 189.9 239.1 186.5 244.6 183.8 248.5 178.9 254.7 177.3 258.3 172.0 264.3 170.1 268.6 165.8 273.5 162.4 279.0 159.7 282.9 154.8 289.1 153.2 292.7 147.9 298.7 146.0 303.0 141.7 307.9 138.3 313.4 135.7 317.3 130.7M122.0 270.3 128.3 268.8 131.9 263.5 137.7 261.4 142.3 257.4 147.0 253.7 152.7 251.3 156.4 246.2 162.7 244.7 166.3 239.5 172.2 237.3 176.7 233.3 181.4 229.6 187.1 227.2 190.8 222.1 197.1 220.6 200.7 215.4 206.6 213.2 211.1 209.2 215.8 205.5 221.5 203.1 225.2 198.0 231.5 196.5 235.2 191.3 241.0 189.1 245.5 185.1 250.2 181.4 255.9 179.0 259.6 173.9 265.9 172.4 269.6 167.2 275.4 165.0 279.9 161.0 284.6 157.3 290.3 155.0 294.0 149.8 300.3 148.3 304.0 143.1 309.8 140.9 314.3 137.0 319.0 133.2M123.7 272.7 129.5 270.6 133.2 265.3 139.4 263.8 143.2 258.7 148.8 256.3 153.6 252.7 158.1 248.6 164.0 246.5 167.6 241.2 173.8 239.7 177.6 234.7 183.2 232.2 188.0 228.6 192.5 224.5 198.4 222.4 202.0 217.2 208.2 215.6 212.0 210.6 217.7 208.1 222.4 204.5 226.9 200.4 232.8 198.3 236.4 193.1 242.7 191.5 246.4 186.5 252.1 184.0 256.8 180.4 261.3 176.3 267.2 174.2 270.8 169.0 277.1 167.4 280.8 162.4 286.5 159.9 291.2 156.3 295.7 152.2 301.6 150.1 305.2 144.9 311.5 143.3 315.2 138.3 320.9 135.9M125.5 275.3 130.5 272.0 134.8 267.6 140.8 265.8 144.4 260.4 150.6 258.8 154.5 254.0 159.9 251.2 164.9 247.9 169.2 243.5 175.2 241.7 178.8 236.3 185.0 234.7 188.9 229.9 194.3 227.1 199.3 223.8 203.6 219.4 209.6 217.6 213.2 212.2 219.4 210.6 223.3 205.8 228.7 203.0 233.8 199.7 238.0 195.3 244.0 193.5 247.6 188.1 253.8 186.5 257.7 181.7 263.1 179.0 268.2 175.7 272.4 171.3 278.4 169.4 282.0 164.1 288.2 162.4 292.1 157.6 297.5 154.9 302.6 151.6 306.8 147.2 312.8 145.3 316.4 140.0 322.6 138.4M127.3 277.9 131.4 273.3 136.6 270.2 141.9 267.3 145.9 262.6 152.0 260.9 155.6 255.5 161.7 253.8 165.8 249.2 171.0 246.1 176.3 243.2 180.3 238.5 186.5 236.8 190.0 231.4 196.1 229.7 200.2 225.1 205.4 222.0 210.7 219.1 214.7 214.4 220.9 212.7 224.4 207.3 230.5 205.6 234.6 201.0 239.8 198.0 245.1 195.0 249.1 190.3 255.3 188.6 258.8 183.3 264.9 181.5 269.0 176.9 274.2 173.9 279.5 170.9 283.5 166.2 289.7 164.5 293.2 159.2 299.3 157.4 303.5 152.8 308.6 149.8 313.9 146.8 317.9 142.1 324.1 140.4M128.9 280.1 132.5 274.8 138.4 272.8 142.8 268.5 147.7 265.1 153.2 262.5 157.1 257.6 163.3 256.0 166.9 250.7 172.9 248.8 177.2 244.4 182.1 241.0 187.6 238.4 191.5 233.5 197.7 231.9 201.3 226.6 207.3 224.7 211.6 220.4 216.5 217.0 222.0 214.3 225.9 209.4 232.1 207.8 235.7 202.5 241.7 200.6 246.0 196.3 250.9 192.9 256.4 190.2 260.3 185.3 266.5 183.7 270.1 178.4 276.1 176.5 280.4 172.2 285.3 168.8 290.8 166.1 294.7 161.2 300.9 159.6 304.5 154.3 310.5 152.4 314.8 148.1 319.7 144.7 325.2 142.0M130.1 281.8 133.8 276.7 140.1 275.2 143.7 269.9 149.6 267.8 154.1 263.8 158.8 260.0 164.5 257.7 168.2 252.6 174.5 251.1 178.1 245.8 184.0 243.7 188.5 239.7 193.2 236.0 198.9 233.6 202.6 228.5 208.9 227.0 212.5 221.8 218.4 219.6 222.9 215.6 227.6 211.9 233.3 209.5 237.0 204.4 243.3 202.9 246.9 197.7 252.8 195.5 257.3 191.5 262.0 187.8 267.7 185.4 271.4 180.3 277.7 178.8 281.3 173.6 287.2 171.4 291.7 167.4 296.4 163.7 302.1 161.3 305.8 156.2 312.1 154.7 315.8 149.5 321.6 147.3 326.1 143.3M131.0 283.1 135.5 279.1 141.3 277.0 145.0 271.7 151.2 270.2 155.0 265.1 160.6 262.7 165.4 259.0 169.9 255.0 175.7 252.9 179.4 247.6 185.6 246.1 189.4 241.0 195.1 238.6 199.8 235.0 204.3 230.9 210.2 228.8 213.8 223.5 220.0 222.0 223.8 216.9 229.5 214.5 234.2 210.9 238.7 206.8 244.6 204.7 248.2 199.5 254.5 197.9 258.2 192.9 263.9 190.4 268.6 186.8 273.1 182.7 279.0 180.6 282.6 175.4 288.9 173.8 292.6 168.8 298.3 166.3 303.0 162.7 307.5 158.6 313.4 156.5 317.0 151.3 323.3 149.7 327.0 144.7M131.9 284.4 137.3 281.7 142.3 278.4 146.6 274.0 152.6 272.1 156.2 266.8 162.4 265.2 166.3 260.3 171.7 257.6 176.7 254.3 181.0 249.9 187.0 248.0 190.6 242.7 196.8 241.1 200.7 236.3 206.1 233.5 211.1 230.2 215.4 225.8 221.4 224.0 225.0 218.6 231.2 217.0 235.1 212.2 240.5 209.4 245.5 206.1 249.8 201.7 255.8 199.9 259.4 194.5 265.6 192.9 269.5 188.1 274.9 185.4 279.9 182.0 284.2 177.6 290.2 175.8 293.8 170.4 300.0 168.8 303.9 164.0 309.4 161.3 314.4 157.9 318.6 153.6 324.6 151.7 328.2 146.4M133.0 286.0 139.1 284.3 143.2 279.7 148.4 276.6 153.7 273.6 157.7 269.0 163.8 267.3 167.4 261.9 173.5 260.2 177.6 255.6 182.8 252.5 188.1 249.5 192.1 244.9 198.2 243.2 201.8 237.8 207.9 236.1 212.0 231.5 217.2 228.4 222.5 225.5 226.5 220.8 232.7 219.1 236.2 213.7 242.3 212.0 246.4 207.4 251.6 204.3 256.9 201.4 260.9 196.7 267.1 195.0 270.6 189.6 276.7 187.9 280.8 183.3 286.0 180.3 291.3 177.3 295.3 172.6 301.5 170.9 305.0 165.6 311.2 163.8 315.2 159.2 320.4 156.2 325.7 153.2 329.7 148.5M134.4 288.1 140.7 286.5 144.3 281.1 150.2 279.2 154.5 274.9 159.5 271.5 165.0 268.9 168.9 264.0 175.1 262.4 178.7 257.1 184.7 255.1 188.9 250.8 193.9 247.4 199.4 244.8 203.3 239.9 209.5 238.3 213.1 233.0 219.1 231.1 223.4 226.7 228.3 223.3 233.8 220.7 237.7 215.8 243.9 214.2 247.5 208.9 253.5 207.0 257.8 202.6 262.7 199.3 268.2 196.6 272.1 191.7 278.3 190.1 281.9 184.8 287.9 182.9 292.2 178.6 297.1 175.2 302.6 172.5 306.5 167.6 312.7 166.0 316.3 160.7 322.3 158.8 326.6 154.5 331.5 151.1M136.2 290.5 141.9 288.2 145.6 283.1 151.9 281.5 155.5 276.3 161.4 274.2 165.9 270.2 170.6 266.4 176.3 264.1 180.0 259.0 186.3 257.5 189.9 252.2 195.8 250.1 200.3 246.1 205.0 242.4 210.7 240.0 214.4 234.9 220.7 233.4 224.3 228.1 230.2 226.0 234.7 222.0 239.4 218.3 245.1 215.9 248.8 210.8 255.1 209.3 258.7 204.0 264.6 201.9 269.1 197.9 273.8 194.2 279.5 191.8 283.2 186.7 289.5 185.2 293.1 180.0 299.0 177.8 303.5 173.8 308.2 170.1 313.9 167.7 317.6 162.6 323.9 161.1 327.5 155.9 333.4 153.7M138.0 293.2 142.8 289.5 147.3 285.5 153.1 283.4 156.8 278.1 163.0 276.6 166.8 271.5 172.5 269.1 177.2 265.4 181.7 261.4 187.5 259.3 191.2 254.0 197.4 252.5 201.2 247.4 206.9 245.0 211.6 241.3 216.1 237.3 221.9 235.2 225.6 229.9 231.8 228.4 235.6 223.3 241.3 220.9 246.0 217.2 250.5 213.2 256.3 211.1 260.0 205.8 266.3 204.3 270.0 199.2 275.7 196.8 280.4 193.2 284.9 189.1 290.8 187.0 294.4 181.8 300.7 180.2 304.4 175.1 310.1 172.7 314.8 169.1 319.3 165.0 325.2 162.9 328.8 157.7 335.1 156.1M139.8 295.7 143.7 290.8 149.1 288.1 154.1 284.8 158.4 280.4 164.4 278.5 168.0 273.2 174.2 271.6 178.1 266.7 183.5 264.0 188.5 260.7 192.8 256.3 198.8 254.4 202.4 249.1 208.6 247.5 212.5 242.6 217.9 239.9 222.9 236.6 227.2 232.2 233.2 230.3 236.8 225.0 243.0 223.4 246.9 218.5 252.3 215.8 257.3 212.5 261.6 208.1 267.6 206.3 271.2 200.9 277.4 199.3 281.3 194.5 286.8 191.7 291.7 188.4 296.0 184.0 302.0 182.2 305.6 176.8 311.8 175.2 315.7 170.4 321.2 167.7 326.1 164.3 330.4 160.0 336.4 158.1M141.2 297.8 144.8 292.4 150.9 290.7 155.0 286.0 160.2 283.0 165.4 280.0 169.5 275.4 175.6 273.7 179.2 268.3 185.3 266.6 189.4 262.0 194.6 258.9 199.8 255.9 203.9 251.3 210.0 249.6 213.6 244.2 219.7 242.5 223.8 237.9 229.0 234.8 234.3 231.8 238.3 227.2 244.5 225.5 248.0 220.1 254.1 218.4 258.2 213.8 263.4 210.7 268.7 207.7 272.7 203.1 278.9 201.4 282.4 196.0 288.5 194.3 292.6 189.7 297.8 186.7 303.1 183.7 307.1 179.0 313.3 177.3 316.8 171.9 323.0 170.2 327.0 165.6 332.2 162.6 337.5 159.6M142.3 299.3 146.2 294.4 152.5 292.9 156.1 287.5 162.1 285.6 166.3 281.3 171.3 277.9 176.8 275.2 180.7 270.4 186.9 268.8 190.5 263.4 196.5 261.5 200.7 257.2 205.7 253.8 211.2 251.2 215.1 246.3 221.3 244.7 224.9 239.4 230.9 237.5 235.1 233.1 240.1 229.7 245.6 227.1 249.5 222.2 255.7 220.6 259.3 215.3 265.3 213.4 269.6 209.0 274.5 205.7 280.0 203.0 283.9 198.1 290.1 196.5 293.7 191.2 299.7 189.3 304.0 184.9 308.9 181.6 314.4 178.9 318.3 174.0 324.5 172.4 328.1 167.1 334.1 165.2 338.4 160.8M143.3 300.6 148.0 296.9 153.6 294.6 157.4 289.5 163.7 287.9 167.3 282.7 173.2 280.6 177.7 276.5 182.4 272.8 188.1 270.5 191.8 265.4 198.1 263.8 201.7 258.6 207.6 256.5 212.1 252.5 216.8 248.8 222.5 246.4 226.2 241.3 232.5 239.8 236.1 234.5 242.0 232.4 246.5 228.4 251.2 224.7 256.9 222.3 260.6 217.2 266.9 215.7 270.5 210.4 276.4 208.3 280.9 204.3 285.6 200.6 291.3 198.2 295.0 193.1 301.3 191.6 304.9 186.3 310.8 184.2 315.3 180.2 320.0 176.5 325.7 174.1 329.4 169.0 335.7 167.5 339.3 162.2M144.2 302.0 149.9 299.6 154.6 295.9 159.1 291.9 164.9 289.7 168.6 284.5 174.8 283.0 178.6 277.9 184.3 275.5 189.0 271.8 193.5 267.8 199.3 265.7 203.0 260.4 209.2 258.9 213.0 253.8 218.7 251.4 223.4 247.7 227.9 243.7 233.7 241.6 237.4 236.3 243.6 234.8 247.4 229.7 253.1 227.3 257.8 223.6 262.3 219.6 268.1 217.5 271.8 212.2 278.1 210.7 281.8 205.6 287.5 203.2 292.2 199.5 296.7 195.5 302.5 193.4 306.2 188.1 312.5 186.6 316.2 181.5 321.9 179.1 326.6 175.4 331.1 171.4 337.0 169.3 340.6 164.1M145.4 303.7 151.6 302.1 155.5 297.2 160.9 294.5 165.9 291.1 170.2 286.8 176.2 284.9 179.8 279.6 186.0 278.0 189.9 273.1 195.3 270.4 200.3 267.1 204.6 262.7 210.6 260.8 214.2 255.5 220.4 253.9 224.3 249.0 229.7 246.3 234.7 243.0 239.0 238.6 245.0 236.7 248.6 231.4 254.8 229.8 258.7 224.9 264.2 222.2 269.1 218.9 273.4 214.5 279.4 212.6 283.0 207.3 289.2 205.7 293.1 200.8 298.6 198.1 303.5 194.8 307.8 190.4 313.8 188.5 317.4 183.2 323.6 181.6 327.5 176.7 333.0 174.1 337.9 170.7 342.2 166.4M146.9 305.9 153.0 304.1 156.6 298.8 162.7 297.1 166.8 292.4 172.0 289.4 177.2 286.4 181.3 281.8 187.4 280.0 191.0 274.7 197.1 273.0 201.2 268.3 206.4 265.3 211.6 262.3 215.7 257.7 221.8 256.0 225.4 250.6 231.5 248.9 235.6 244.2 240.8 241.2 246.0 238.2 250.1 233.6 256.2 231.9 259.8 226.5 265.9 224.8 270.0 220.2 275.2 217.1 280.4 214.1 284.5 209.5 290.7 207.8 294.2 202.4 300.3 200.7 304.4 196.1 309.6 193.1 314.9 190.0 318.9 185.4 325.1 183.7 328.6 178.3 334.8 176.6 338.8 172.0 344.0 169.0M148.7 308.4 154.1 305.7 158.1 300.8 164.3 299.2 167.9 293.9 173.9 292.0 178.1 287.7 183.1 284.3 188.5 281.6 192.5 276.7 198.7 275.2 202.3 269.8 208.3 267.9 212.5 263.6 217.5 260.2 223.0 257.5 226.9 252.7 233.1 251.1 236.7 245.7 242.7 243.8 246.9 239.5 251.9 236.1 257.4 233.4 261.3 228.6 267.5 227.0 271.1 221.6 277.1 219.8 281.3 215.4 286.3 212.1 291.8 209.4 295.7 204.5 301.9 202.9 305.5 197.6 311.5 195.7 315.7 191.3 320.7 188.0 326.2 185.3 330.1 180.4 336.3 178.8 339.9 173.5 345.9 171.6M150.6 311.1 155.1 307.0 159.8 303.3 165.4 300.9 169.2 295.9 175.5 294.3 179.1 289.1 185.0 287.0 189.5 282.9 194.2 279.2 199.8 276.8 203.6 271.8 209.9 270.2 213.5 265.0 219.4 262.9 223.9 258.8 228.6 255.1 234.2 252.8 238.0 247.7 244.3 246.1 247.9 240.9 253.8 238.8 258.3 234.7 263.0 231.1 268.7 228.7 272.4 223.6 278.7 222.0 282.3 216.8 288.2 214.7 292.7 210.7 297.4 207.0 303.1 204.6 306.8 199.5 313.1 198.0 316.7 192.7 322.6 190.6 327.1 186.6 331.8 182.9 337.5 180.5 341.2 175.4 347.5 173.9M152.2 313.5 156.0 308.4 161.7 306.0 166.4 302.3 170.9 298.3 176.7 296.1 180.4 290.9 186.6 289.4 190.4 284.3 196.1 281.9 200.8 278.2 205.3 274.2 211.1 272.0 214.8 266.8 221.0 265.3 224.8 260.2 230.5 257.8 235.2 254.1 239.7 250.1 245.5 247.9 249.2 242.7 255.4 241.2 259.2 236.1 264.9 233.7 269.6 230.0 274.1 226.0 279.9 223.9 283.6 218.6 289.9 217.1 293.6 212.0 299.3 209.6 304.0 205.9 308.5 201.9 314.3 199.8 318.0 194.5 324.3 193.0 328.0 187.9 333.7 185.5 338.4 181.8 342.9 177.8 348.7 175.7M153.6 315.4 157.2 310.1 163.4 308.5 167.3 303.6 172.7 300.9 177.7 297.5 182.0 293.2 188.0 291.3 191.6 286.0 197.8 284.4 201.7 279.5 207.1 276.8 212.1 273.4 216.4 269.1 222.4 267.2 226.0 261.9 232.2 260.3 236.1 255.4 241.6 252.7 246.5 249.3 250.8 245.0 256.8 243.1 260.4 237.8 266.6 236.2 270.5 231.3 276.0 228.6 280.9 225.3 285.2 220.9 291.2 219.0 294.8 213.7 301.0 212.1 304.9 207.2 310.4 204.5 315.3 201.2 319.6 196.8 325.6 194.9 329.2 189.6 335.4 188.0 339.3 183.1 344.8 180.5 349.7 177.1M154.6 316.9 158.7 312.2 164.8 310.5 168.4 305.2 174.5 303.5 178.6 298.8 183.8 295.8 189.0 292.8 193.1 288.2 199.2 286.4 202.8 281.1 208.9 279.4 213.0 274.7 218.2 271.7 223.4 268.7 227.5 264.1 233.6 262.3 237.2 257.0 243.3 255.3 247.4 250.6 252.6 247.6 257.8 244.6 261.9 240.0 268.0 238.3 271.6 232.9 277.7 231.2 281.8 226.5 287.0 223.5 292.2 220.5 296.3 215.9 302.4 214.2 306.0 208.8 312.2 207.1 316.2 202.4 321.4 199.5 326.6 196.4 330.7 191.8 336.9 190.1 340.4 184.7 346.6 183.0 350.6 178.4M155.5 318.1 160.5 314.8 165.9 312.1 169.9 307.2 176.1 305.6 179.6 300.3 185.7 298.4 189.9 294.1 194.9 290.7 200.3 288.0 204.3 283.1 210.5 281.5 214.1 276.2 220.1 274.3 224.3 270.0 229.3 266.6 234.7 263.9 238.7 259.1 244.9 257.5 248.5 252.1 254.5 250.2 258.7 245.9 263.7 242.5 269.1 239.8 273.1 235.0 279.3 233.4 282.9 228.0 288.9 226.2 293.1 221.8 298.1 218.5 303.6 215.7 307.5 210.9 313.7 209.3 317.3 203.9 323.3 202.1 327.5 197.7 332.5 194.4 338.0 191.6 341.9 186.8 348.1 185.2 351.7 179.8M156.5 319.6 162.4 317.5 166.8 313.4 171.6 309.7 177.2 307.3 181.0 302.2 187.3 300.7 190.9 295.5 196.8 293.4 201.2 289.3 206.0 285.6 211.6 283.2 215.4 278.2 221.7 276.6 225.3 271.4 231.2 269.3 235.7 265.2 240.4 261.5 246.0 259.1 249.8 254.1 256.1 252.5 259.7 247.3 265.6 245.2 270.1 241.1 274.8 237.5 280.4 235.0 284.2 230.0 290.5 228.4 294.1 223.2 300.0 221.1 304.5 217.0 309.2 213.4 314.9 211.0 318.6 205.9 324.9 204.3 328.5 199.1 334.4 197.0 338.9 192.9 343.6 189.3 349.3 186.9 353.0 181.8M157.8 321.4 164.0 319.8 167.8 314.7 173.5 312.4 178.2 308.7 182.7 304.7 188.5 302.5 192.2 297.3 198.4 295.8 202.2 290.7 207.9 288.3 212.6 284.6 217.1 280.6 222.9 278.4 226.6 273.2 232.8 271.7 236.6 266.6 242.3 264.2 247.0 260.5 251.5 256.5 257.3 254.3 261.0 249.1 267.2 247.6 271.0 242.5 276.7 240.1 281.4 236.4 285.9 232.4 291.7 230.2 295.4 225.0 301.7 223.5 305.4 218.4 311.1 216.0 315.8 212.3 320.3 208.3 326.1 206.1 329.8 200.9 336.1 199.4 339.8 194.3 345.5 191.9 350.2 188.2 354.7 184.2M159.4 323.7 165.4 321.8 169.0 316.4 175.2 314.9 179.1 310.0 184.5 307.3 189.5 303.9 193.8 299.6 199.8 297.7 203.4 292.4 209.6 290.8 213.5 285.9 219.0 283.2 223.9 279.8 228.2 275.5 234.2 273.6 237.8 268.3 244.0 266.7 247.9 261.8 253.4 259.1 258.3 255.7 262.6 251.4 268.6 249.5 272.2 244.2 278.4 242.6 282.3 237.7 287.8 235.0 292.7 231.6 297.0 227.3 303.0 225.4 306.6 220.1 312.8 218.5 316.7 213.6 322.2 210.9 327.1 207.5 331.4 203.2 337.4 201.3 341.0 196.0 347.2 194.4 351.1 189.5 356.6 186.9M161.2 326.3 166.4 323.2 170.5 318.6 176.6 316.9 180.2 311.6 186.3 309.9 190.4 305.2 195.6 302.2 200.8 299.2 204.9 294.6 211.0 292.8 214.6 287.5 220.7 285.8 224.8 281.1 230.0 278.1 235.2 275.1 239.3 270.5 245.4 268.7 249.0 263.4 255.1 261.7 259.2 257.0 264.4 254.0 269.6 251.0 273.7 246.4 279.8 244.6 283.4 239.3 289.5 237.6 293.6 232.9 298.8 229.9 304.0 226.9 308.1 222.3 314.2 220.5 317.8 215.2 324.0 213.5 328.0 208.8 333.3 205.9 338.4 202.8 342.5 198.2 348.6 196.5 352.2 191.1 358.4 189.4M163.1 328.9 167.3 324.5 172.3 321.2 177.7 318.5 181.7 313.6 187.9 312.0 191.4 306.7 197.5 304.8 201.7 300.4 206.7 297.1 212.1 294.4 216.1 289.5 222.3 287.9 225.8 282.6 231.9 280.7 236.1 276.3 241.1 273.0 246.5 270.3 250.5 265.4 256.7 263.8 260.2 258.5 266.3 256.6 270.5 252.3 275.5 248.9 280.9 246.2 284.9 241.4 291.1 239.7 294.7 234.4 300.7 232.5 304.9 228.2 309.9 224.8 315.3 222.1 319.3 217.3 325.5 215.7 329.1 210.3 335.1 208.5 339.3 204.1 344.3 200.8 349.7 198.0 353.7 193.2 359.9 191.6M164.7 331.2 168.3 325.9 174.2 323.9 178.6 319.8 183.4 316.1 189.0 313.7 192.8 308.6 199.1 307.1 202.7 301.8 208.6 299.8 213.0 295.7 217.8 292.0 223.4 289.6 227.2 284.5 233.5 283.0 237.1 277.8 243.0 275.7 247.4 271.6 252.2 267.9 257.8 265.5 261.6 260.5 267.9 258.9 271.5 253.7 277.4 251.6 281.8 247.5 286.6 243.9 292.2 241.4 296.0 236.4 302.3 234.8 305.9 229.6 311.8 227.5 316.3 223.4 321.0 219.8 326.6 217.3 330.4 212.3 336.7 210.7 340.3 205.5 346.2 203.4 350.7 199.3 355.4 195.7 361.0 193.2M165.9 333.0 169.6 327.8 175.8 326.2 179.6 321.1 185.3 318.8 190.0 315.0 194.5 311.0 200.3 308.9 204.0 303.7 210.2 302.1 214.0 297.0 219.7 294.7 224.4 290.9 228.9 287.0 234.7 284.8 238.4 279.6 244.6 278.1 248.4 272.9 254.1 270.6 258.8 266.9 263.3 262.9 269.1 260.7 272.8 255.5 279.0 254.0 282.8 248.9 288.5 246.5 293.2 242.8 297.7 238.8 303.5 236.6 307.2 231.4 313.5 229.9 317.2 224.8 322.9 222.4 327.6 218.7 332.1 214.7 337.9 212.5 341.6 207.3 347.9 205.8 351.6 200.7 357.3 198.3 362.0 194.6M166.9 334.4 171.2 330.1 177.2 328.2 180.8 322.8 187.0 321.3 190.9 316.3 196.4 313.7 201.3 310.3 205.6 306.0 211.6 304.1 215.2 298.7 221.4 297.2 225.3 292.2 230.8 289.6 235.7 286.2 240.0 281.9 246.0 280.0 249.6 274.7 255.8 273.1 259.7 268.2 265.2 265.5 270.1 262.1 274.4 257.8 280.4 255.9 284.0 250.6 290.2 249.0 294.1 244.1 299.6 241.4 304.5 238.0 308.8 233.7 314.8 231.8 318.4 226.5 324.6 224.9 328.5 220.0 334.0 217.3 338.9 213.9 343.2 209.6 349.2 207.7 352.8 202.4 359.0 200.8 362.9 195.9M167.8 335.7 173.0 332.7 178.2 329.6 182.3 325.0 188.4 323.3 192.0 317.9 198.1 316.2 202.2 311.6 207.4 308.6 212.6 305.5 216.7 300.9 222.8 299.2 226.4 293.8 232.5 292.2 236.6 287.5 241.8 284.5 247.0 281.4 251.1 276.9 257.2 275.1 260.8 269.8 266.9 268.1 271.0 263.4 276.2 260.4 281.4 257.4 285.5 252.8 291.6 251.0 295.2 245.7 301.4 244.0 305.4 239.3 310.7 236.3 315.8 233.3 319.9 228.7 326.0 226.9 329.6 221.6 335.8 219.9 339.8 215.2 345.1 212.2 350.2 209.2 354.3 204.6 360.4 202.8 364.0 197.5M168.8 337.2 174.9 335.3 179.1 330.9 184.1 327.6 189.5 324.9 193.5 320.0 199.6 318.4 203.2 313.1 209.3 311.2 213.5 306.8 218.5 303.5 223.9 300.8 227.9 295.9 234.1 294.3 237.6 289.0 243.7 287.1 247.9 282.7 252.9 279.4 258.3 276.7 262.3 271.8 268.5 270.2 272.0 264.9 278.1 263.0 282.3 258.6 287.3 255.3 292.7 252.6 296.7 247.7 302.9 246.1 306.4 240.8 312.5 238.9 316.7 234.5 321.7 231.2 327.1 228.5 331.1 223.7 337.3 222.0 340.9 216.7 346.9 214.9 351.1 210.4 356.1 207.2 361.5 204.4 365.5 199.6M170.2 339.1 176.5 337.6 180.1 332.3 186.0 330.3 190.4 326.2 195.2 322.5 200.8 320.1 204.6 315.0 210.9 313.5 214.5 308.2 220.4 306.2 224.8 302.1 229.6 298.4 235.2 296.0 239.0 290.9 245.3 289.4 248.9 284.1 254.8 282.1 259.2 278.0 264.0 274.3 269.6 271.9 273.4 266.8 279.7 265.3 283.3 260.0 289.2 258.0 293.6 253.9 298.4 250.3 304.0 247.8 307.8 242.8 314.1 241.2 317.7 236.0 323.6 233.9 328.0 229.8 332.8 226.2 338.4 223.7 342.2 218.7 348.5 217.1 352.1 211.9 358.0 209.8 362.4 205.7 367.2 202.1M171.9 341.5 177.7 339.4 181.4 334.2 187.6 332.6 191.4 327.5 197.1 325.2 201.8 321.4 206.3 317.4 212.1 315.3 215.8 310.1 222.0 308.5 225.8 303.4 231.5 301.1 236.2 297.3 240.7 293.4 246.5 291.2 250.2 286.0 256.4 284.4 260.2 279.3 265.9 277.0 270.6 273.2 275.1 269.3 280.9 267.1 284.6 261.9 290.8 260.4 294.6 255.2 300.3 252.9 305.0 249.1 309.5 245.2 315.3 243.0 319.0 237.8 325.3 236.3 329.0 231.1 334.7 228.8 339.4 225.1 343.9 221.1 349.7 218.9 353.4 213.7 359.7 212.2 363.4 207.1 369.1 204.7M173.8 344.2 178.7 340.8 183.0 336.5 189.0 334.5 192.6 329.2 198.8 327.6 202.7 322.7 208.2 320.1 213.1 316.7 217.4 312.4 223.4 310.4 227.0 305.1 233.2 303.6 237.1 298.6 242.6 296.0 247.5 292.6 251.8 288.3 257.8 286.4 261.4 281.0 267.6 279.5 271.5 274.5 277.0 271.9 281.9 268.5 286.2 264.2 292.2 262.3 295.8 257.0 302.0 255.4 305.9 250.4 311.4 247.8 316.3 244.4 320.6 240.1 326.6 238.2 330.2 232.9 336.4 231.3 340.3 226.4 345.8 223.7 350.7 220.3 355.0 216.0 361.0 214.1 364.6 208.8 370.8 207.2M175.5 346.7 179.6 342.0 184.8 339.1 190.0 336.0 194.1 331.4 200.2 329.7 203.8 324.3 209.9 322.6 214.0 317.9 219.2 315.0 224.4 311.9 228.5 307.3 234.6 305.6 238.2 300.2 244.3 298.6 248.4 293.9 253.6 290.9 258.8 287.8 262.9 283.3 269.0 281.5 272.6 276.1 278.7 274.5 282.8 269.8 288.1 266.8 293.2 263.7 297.3 259.2 303.4 257.4 307.0 252.1 313.2 250.4 317.2 245.7 322.5 242.7 327.6 239.6 331.7 235.1 337.8 233.3 341.4 228.0 347.6 226.3 351.6 221.6 356.9 218.6 362.0 215.6 366.1 211.0 372.2 209.2M177.0 348.9 180.6 343.5 186.7 341.7 190.9 337.3 195.9 334.0 201.3 331.2 205.3 326.4 211.4 324.8 215.0 319.5 221.1 317.6 225.3 313.2 230.3 309.9 235.7 307.2 239.7 302.3 245.9 300.7 249.4 295.4 255.5 293.5 259.7 289.1 264.7 285.8 270.1 283.1 274.1 278.2 280.3 276.6 283.8 271.3 289.9 269.4 294.1 265.0 299.1 261.7 304.5 259.0 308.5 254.1 314.7 252.5 318.2 247.2 324.3 245.3 328.5 240.9 333.5 237.6 338.9 234.9 342.9 230.1 349.1 228.4 352.6 223.1 358.7 221.2 362.9 216.8 367.9 213.6 373.3 210.8M178.2 350.6 182.0 345.5 188.2 344.0 191.9 338.7 197.8 336.6 202.2 332.5 207.0 328.9 212.6 326.5 216.4 321.4 222.7 319.9 226.3 314.6 232.2 312.6 236.6 308.4 241.4 304.8 247.0 302.4 250.8 297.3 257.1 295.8 260.7 290.5 266.6 288.5 271.0 284.4 275.8 280.7 281.4 278.3 285.2 273.2 291.5 271.7 295.1 266.4 301.0 264.4 305.4 260.3 310.2 256.6 315.8 254.2 319.6 249.1 325.9 247.6 329.5 242.3 335.4 240.3 339.8 236.2 344.6 232.6 350.2 230.1 354.0 225.1 360.3 223.5 363.9 218.3 369.8 216.2 374.2 212.1M179.1 351.9 183.7 347.9 189.5 345.7 193.2 340.5 199.4 339.0 203.2 333.9 208.9 331.6 213.5 327.8 218.1 323.8 223.9 321.7 227.6 316.5 233.8 314.9 237.6 309.8 243.3 307.5 247.9 303.7 252.5 299.8 258.3 297.6 262.0 292.4 268.2 290.8 272.0 285.7 277.7 283.4 282.4 279.6 286.9 275.7 292.7 273.5 296.4 268.3 302.6 266.7 306.4 261.6 312.1 259.3 316.8 255.5 321.3 251.6 327.1 249.4 330.8 244.2 337.1 242.7 340.8 237.5 346.5 235.2 351.2 231.4 355.7 227.5 361.5 225.3 365.2 220.1 371.5 218.6 375.2 213.4M180.1 353.2 185.6 350.6 190.5 347.1 194.8 342.9 200.8 340.9 204.4 335.6 210.6 334.0 214.5 329.1 220.0 326.5 224.9 323.0 229.2 318.8 235.2 316.8 238.8 311.5 245.0 310.0 248.9 305.0 254.4 302.4 259.3 299.0 263.6 294.7 269.6 292.7 273.2 287.4 279.4 285.9 283.3 280.9 288.8 278.3 293.7 274.9 298.0 270.6 304.0 268.7 307.6 263.3 313.8 261.8 317.7 256.8 323.2 254.2 328.1 250.8 332.4 246.5 338.4 244.6 342.0 239.3 348.2 237.7 352.1 232.7 357.6 230.1 362.5 226.7 366.8 222.4 372.8 220.5 376.4 215.2M181.2 354.8 187.3 353.1 191.4 348.4 196.6 345.5 201.8 342.4 205.9 337.8 212.0 336.1 215.6 330.7 221.7 329.0 225.8 324.3 231.0 321.4 236.2 318.3 240.3 313.7 246.4 312.0 250.0 306.6 256.1 304.9 260.2 300.2 265.5 297.3 270.6 294.2 274.7 289.6 280.8 287.9 284.4 282.5 290.6 280.9 294.6 276.1 299.9 273.2 305.0 270.1 309.1 265.6 315.2 263.8 318.8 258.4 325.0 256.8 329.0 252.1 334.3 249.1 339.4 246.0 343.5 241.5 349.6 239.7 353.2 234.4 359.4 232.7 363.4 228.0 368.7 225.0 373.8 221.9 377.9 217.4M182.7 356.9 188.8 355.3 192.4 349.9 198.5 348.1 202.7 343.7 207.7 340.4 213.1 337.6 217.1 332.8 223.2 331.2 226.8 325.8 232.9 324.0 237.1 319.6 242.1 316.3 247.5 313.5 251.5 308.7 257.6 307.1 261.2 301.7 267.3 299.9 271.5 295.5 276.5 292.2 281.9 289.4 285.9 284.6 292.1 283.0 295.6 277.7 301.7 275.8 305.9 271.4 310.9 268.1 316.3 265.4 320.3 260.5 326.5 258.9 330.0 253.6 336.1 251.7 340.3 247.3 345.3 244.0 350.7 241.3 354.7 236.4 360.9 234.8 364.4 229.5 370.5 227.6 374.7 223.2 379.7 220.0M184.4 359.4 190.0 356.9 193.8 351.9 200.0 350.4 203.7 345.1 209.6 343.0 214.0 338.9 218.8 335.3 224.4 332.8 228.2 327.8 234.5 326.3 238.1 321.0 244.0 319.0 248.4 314.8 253.2 311.2 258.8 308.8 262.6 303.7 268.9 302.2 272.5 296.9 278.4 294.9 282.8 290.7 287.6 287.1 293.2 284.7 297.0 279.6 303.3 278.1 306.9 272.8 312.8 270.8 317.2 266.6 322.0 263.0 327.6 260.6 331.4 255.5 337.7 254.0 341.3 248.7 347.2 246.7 351.6 242.6 356.4 239.0 362.0 236.5 365.8 231.5 372.1 229.9 375.7 224.6 381.6 222.6M186.3 362.1 190.9 358.3 195.5 354.3 201.3 352.1 205.0 346.9 211.2 345.4 215.0 340.3 220.7 338.0 225.3 334.2 229.9 330.2 235.7 328.0 239.4 322.8 245.6 321.3 249.4 316.2 255.1 313.9 259.7 310.1 264.3 306.1 270.1 304.0 273.8 298.8 280.0 297.2 283.8 292.1 289.5 289.8 294.1 286.0 298.7 282.1 304.5 279.9 308.2 274.7 314.4 273.1 318.2 268.0 323.9 265.7 328.5 261.9 333.1 258.0 338.9 255.8 342.6 250.6 348.9 249.0 352.6 243.9 358.3 241.6 363.0 237.8 367.5 233.9 373.3 231.7 377.0 226.5 383.3 225.0" fill="none" stroke="#4a9ae6" stroke-width="0.9" opacity="0.4"/>
<linearGradient id="gTL" x1="0" y1="0" x2="1" y2="1"><stop offset="0" stop-color="#9cc6f0"/><stop offset="1" stop-color="#6aa2e2"/></linearGradient>
<polygon points="133,110 200,110 204,128 192,150 133,160" fill="url(#gTL)"/>
<clipPath id="q2"><polygon points="133,110 200,110 204,128 192,150 133,160"/></clipPath>
<path clip-path="url(#q2)" d="M215.9 87.6 215.9 182.4M213.5 87.6 213.5 182.4M211.1 87.6 211.1 182.4M208.7 87.6 208.7 182.4M206.3 87.6 206.3 182.4M203.9 87.6 203.9 182.4M201.5 87.6 201.5 182.4M199.1 87.6 199.1 182.4M196.7 87.6 196.7 182.4M194.3 87.6 194.3 182.4M191.9 87.6 191.9 182.4M189.5 87.6 189.5 182.4M187.1 87.6 187.1 182.4M184.7 87.6 184.7 182.4M182.3 87.6 182.3 182.4M179.9 87.6 179.9 182.4M177.5 87.6 177.5 182.4M175.1 87.6 175.1 182.4M172.7 87.6 172.7 182.4M170.3 87.6 170.3 182.4M167.9 87.6 167.9 182.4M165.5 87.6 165.5 182.4M163.1 87.6 163.1 182.4M160.7 87.6 160.7 182.4M158.3 87.6 158.3 182.4M155.9 87.6 155.9 182.4M153.5 87.6 153.5 182.4M151.1 87.6 151.1 182.4M148.7 87.6 148.7 182.4M146.3 87.6 146.3 182.4M143.9 87.6 143.9 182.4M141.5 87.6 141.5 182.4M139.1 87.6 139.1 182.4M136.7 87.6 136.7 182.4M134.3 87.6 134.3 182.4M131.9 87.6 131.9 182.4M129.5 87.6 129.5 182.4M127.1 87.6 127.1 182.4M124.7 87.6 124.7 182.4M122.3 87.6 122.3 182.4" fill="none" stroke="#d0e4f8" stroke-width="0.8" opacity="0.4"/>
<clipPath id="q3"><polygon points="133,160 192,150 204,128 242,150 200,170 133,186"/></clipPath>
<polygon points="133,160 192,150 204,128 242,150 200,170 133,186" fill="#4888d6"/>
<path clip-path="url(#q3)" d="M199.2 185.0 199.1 180.0 199.4 175.0 200.0 170.0 200.7 165.1 201.6 160.2 202.6 155.3 203.6 150.5 204.5 145.6 205.4 140.8 206.4 135.9 207.6 131.0 208.9 126.2M197.9 187.5 198.0 182.5 198.3 177.5 198.6 172.5 199.0 167.6 199.3 162.7 199.7 157.7 200.0 152.8 200.5 147.8 201.1 142.8 202.0 137.9 203.3 133.0 204.8 128.3M197.0 189.8 196.7 184.9 196.5 179.9 196.2 175.0 196.0 170.0 195.8 165.1 195.7 160.1 196.0 155.0 196.5 150.0 197.3 145.1 198.6 140.2 200.2 135.5 202.1 130.8 204.3 126.3M194.2 187.4 193.4 182.5 192.7 177.5 192.2 172.5 192.0 167.5 192.2 162.5 192.7 157.5 193.7 152.5 194.9 147.7 196.5 142.9 198.2 138.2 200.0 133.6 201.9 129.0 203.8 124.4M190.7 190.0 189.9 185.0 189.4 180.0 189.2 175.0 189.4 170.0 190.0 165.0 190.9 160.0 192.0 155.2 193.3 150.3 194.6 145.5 195.9 140.8 197.2 136.0 198.4 131.2 199.7 126.4M187.4 187.5 187.3 182.5 187.6 177.5 188.1 172.5 188.7 167.6 189.5 162.6 190.2 157.7 190.9 152.9 191.6 148.0 192.3 143.0 193.1 138.1 194.0 133.2 195.1 128.3M186.3 189.9 186.3 184.9 186.5 180.0 186.7 175.0 186.9 170.1 187.0 165.1 187.2 160.2 187.3 155.2 187.6 150.2 188.1 145.2 188.9 140.2 189.9 135.3 191.4 130.5 193.2 125.8M184.9 187.3 184.5 182.4 184.1 177.5 183.7 172.5 183.4 167.5 183.3 162.5 183.4 157.5 183.8 152.5 184.6 147.5 185.7 142.6 187.2 137.8 189.0 133.1 191.0 128.5M182.2 189.9 181.3 185.0 180.6 180.0 180.0 175.0 179.8 170.0 179.9 165.0 180.4 160.0 181.3 155.0 182.4 150.1 183.8 145.3 185.4 140.5 187.0 135.8 188.6 131.1 190.2 126.4M177.9 187.5 177.4 182.5 177.3 177.5 177.5 172.5 178.0 167.5 178.8 162.5 179.8 157.6 180.9 152.8 182.0 147.9 183.0 143.1 184.1 138.2 185.1 133.4 186.1 128.5M175.6 185.0 175.8 180.0 176.2 175.0 176.8 170.0 177.3 165.1 177.9 160.2 178.4 155.3 178.9 150.3 179.4 145.4 180.0 140.4 180.7 135.4 181.7 130.5 182.9 125.6M174.7 187.4 174.7 182.4 174.8 177.5 174.8 172.5 174.8 167.6 174.8 162.6 174.8 157.6 174.9 152.6 175.3 147.6 175.9 142.6 176.9 137.7 178.2 132.8 179.9 128.1M173.1 189.8 172.6 184.9 172.1 180.0 171.5 175.0 171.1 170.0 170.9 165.0 170.9 160.0 171.3 154.9 172.0 150.0 173.1 145.1 174.4 140.2 176.1 135.5 177.9 130.8 179.7 126.2M169.3 187.5 168.5 182.5 167.9 177.5 167.7 172.5 167.8 167.5 168.2 162.5 169.0 157.5 170.1 152.6 171.3 147.7 172.7 142.9 174.1 138.1 175.5 133.4 176.8 128.6M165.5 185.0 165.4 180.0 165.6 175.0 166.1 170.0 166.8 165.0 167.6 160.1 168.5 155.2 169.4 150.3 170.3 145.4 171.1 140.6 171.9 135.6 172.7 130.7 173.7 125.8M163.9 187.5 164.1 182.5 164.4 177.5 164.8 172.5 165.3 167.6 165.7 162.6 166.0 157.7 166.3 152.7 166.6 147.7 167.0 142.7 167.6 137.8 168.4 132.8 169.6 127.9M163.0 189.9 162.9 184.9 162.9 180.0 162.7 175.0 162.6 170.0 162.4 165.1 162.3 160.0 162.3 155.0 162.6 150.0 163.1 145.0 164.0 140.1 165.3 135.2 166.8 130.4 168.7 125.7M160.6 187.4 160.0 182.5 159.4 177.5 158.9 172.5 158.6 167.5 158.6 162.5 158.9 157.4 159.6 152.5 160.6 147.5 161.8 142.7 163.3 137.9 165.0 133.1 166.6 128.4M157.3 190.0 156.4 185.0 155.9 180.0 155.6 175.0 155.7 170.0 156.1 165.0 156.9 160.0 157.9 155.1 159.0 150.2 160.2 145.3 161.4 140.5 162.6 135.7 163.7 130.9 164.7 126.0M153.7 187.6 153.5 182.5 153.7 177.5 154.2 172.5 154.8 167.5 155.5 162.6 156.3 157.7 157.0 152.7 157.7 147.8 158.3 142.9 158.9 137.9 159.5 133.0 160.3 128.0M152.2 190.0 152.4 185.0 152.6 180.0 152.9 175.0 153.2 170.0 153.5 165.1 153.6 160.1 153.8 155.1 153.9 150.1 154.2 145.1 154.7 140.1 155.4 135.2 156.5 130.2 157.9 125.4M151.1 187.4 151.0 182.4 150.7 177.5 150.4 172.5 150.1 167.5 149.9 162.5 149.8 157.5 150.0 152.5 150.5 147.5 151.4 142.5 152.5 137.6 154.0 132.8 155.7 128.1M148.7 189.9 147.9 185.0 147.3 180.0 146.7 175.0 146.4 170.0 146.3 165.0 146.6 159.9 147.3 155.0 148.2 150.0 149.4 145.1 150.8 140.3 152.2 135.5 153.7 130.8 155.1 126.0M144.4 187.5 143.9 182.5 143.6 177.5 143.7 172.5 144.1 167.5 144.8 162.5 145.7 157.6 146.7 152.6 147.8 147.8 148.8 142.9 149.7 138.0 150.6 133.1 151.5 128.2M141.7 185.0 141.9 180.0 142.3 175.0 142.9 170.0 143.5 165.1 144.1 160.1 144.7 155.2 145.1 150.2 145.6 145.3 146.0 140.3 146.5 135.3 147.2 130.3 148.1 125.4M140.7 187.5 140.9 182.5 141.1 177.5 141.2 172.5 141.3 167.6 141.3 162.6 141.3 157.6 141.3 152.6 141.5 147.6 141.9 142.5 142.6 137.6 143.6 132.6 144.9 127.8M139.4 189.9 139.0 184.9 138.6 180.0 138.2 175.0 137.8 170.0 137.5 165.0 137.4 160.0 137.6 154.9 138.0 149.9 138.8 145.0 139.9 140.1 141.3 135.2 142.9 130.5 144.6 125.7M135.9 187.5 135.2 182.5 134.6 177.5 134.2 172.5 134.2 167.5 134.4 162.4 135.0 157.5 135.9 152.5 137.1 147.6 138.3 142.7 139.6 137.9 140.9 133.1 142.1 128.3M131.9 185.0 131.7 180.0 131.8 175.0 132.2 170.0 132.8 165.0 133.6 160.0 134.5 155.1 135.4 150.2 136.3 145.3 137.0 140.4 137.7 135.5 138.4 130.5 139.1 125.6M130.0 187.5 130.2 182.5 130.5 177.5 131.0 172.5 131.5 167.5 132.0 162.6 132.3 157.6 132.6 152.7 132.9 147.7 133.2 142.7 133.6 137.7 134.1 132.7 135.0 127.7M129.1 184.9 129.2 180.0 129.2 175.0 129.1 170.0 129.0 165.0M129.2 145.0 129.9 140.0 130.8 135.1 132.1 130.2 133.6 125.4M130.2 132.9 131.8 128.1M129.2 130.6 130.2 125.7" fill="none" stroke="#50cef0" stroke-width="1.0" opacity="0.85"/>
<clipPath id="q4"><polygon points="200,110 300,110 300,142 262,150 242,150 204,128"/></clipPath>
<polygon points="200,110 300,110 300,142 262,150 242,150 204,128" fill="#2a72da"/>
<path clip-path="url(#q4)" d="M171.3 109.3 175.9 105.3 181.7 103.3 186.3 99.3 192.1 97.3 196.7 93.3 202.4 91.3 207.0 87.3 212.8 85.3 217.4 81.3 223.2 79.3 227.8 75.3 233.6 73.3 238.2 69.3 244.0 67.3 248.6 63.3 254.4 61.3 259.0 57.3 264.8 55.3 269.4 51.3M172.1 110.8 177.6 108.2 182.5 104.8 187.9 102.2 192.9 98.8 198.3 96.2 203.3 92.8 208.7 90.2 213.7 86.8 219.1 84.2 224.0 80.8 229.5 78.2 234.4 74.8 239.9 72.2 244.8 68.8 250.3 66.2 255.2 62.8 260.7 60.2 265.6 56.8 271.1 54.2M173.0 112.3 179.2 111.0 183.4 106.3 189.6 105.0 193.8 100.3 200.0 99.0 204.2 94.3 210.3 93.0 214.5 88.3 220.7 87.0 224.9 82.3 231.1 81.0 235.3 76.3 241.5 75.0 245.7 70.3 251.9 69.0 256.1 64.3 262.3 63.0 266.5 58.3 272.7 57.0M174.1 114.3 180.5 113.3 184.5 108.3 190.9 107.3 194.9 102.3 201.3 101.3 205.3 96.3 211.7 95.3 215.7 90.3 222.1 89.3 226.1 84.3 232.5 83.3 236.5 78.3 242.9 77.3 246.9 72.3 253.3 71.3 257.3 66.3 263.7 65.3 267.7 60.3 274.0 59.3M175.6 116.8 181.5 115.1 186.0 110.8 191.9 109.1 196.4 104.8 202.3 103.1 206.8 98.8 212.7 97.1 217.2 92.8 223.1 91.1 227.6 86.8 233.5 85.1 238.0 80.8 243.9 79.1 248.3 74.8 254.3 73.1 258.7 68.8 264.7 67.1 269.1 62.8 275.1 61.1M177.3 119.7 182.4 116.6 187.7 113.7 192.8 110.6 198.1 107.7 203.2 104.6 208.5 101.7 213.5 98.6 218.8 95.7 223.9 92.6 229.2 89.7 234.3 86.6 239.6 83.7 244.7 80.6 250.0 77.7 255.1 74.6 260.4 71.7 265.5 68.6 270.8 65.7 275.9 62.6M178.9 122.6 183.2 118.0 189.3 116.6 193.6 112.0 199.7 110.6 204.0 106.0 210.1 104.6 214.4 100.0 220.5 98.6 224.8 94.0 230.9 92.6 235.2 88.0 241.3 86.6 245.6 82.0 251.7 80.6 256.0 76.0 262.1 74.6 266.4 70.0 272.4 68.6 276.8 64.0M180.3 125.0 184.3 119.9 190.7 119.0 194.7 113.9 201.1 113.0 205.1 107.9 211.5 107.0 215.5 101.9 221.9 101.0 225.9 95.9 232.3 95.0 236.3 89.9 242.7 89.0 246.7 83.9 253.1 83.0 257.1 77.9 263.5 77.0 267.5 71.9 273.9 71.0 277.9 65.9M181.4 126.9 185.7 122.4 191.8 120.9 196.1 116.4 202.2 114.9 206.5 110.4 212.6 108.9 216.9 104.4 223.0 102.9 227.3 98.4 233.4 96.9 237.7 92.4 243.8 90.9 248.1 86.4 254.2 84.9 258.5 80.4 264.5 78.9 268.9 74.4 274.9 72.9 279.3 68.4M182.3 128.4 187.4 125.3 192.6 122.4 197.8 119.3 203.0 116.4 208.2 113.3 213.4 110.4 218.6 107.3 223.8 104.4 229.0 101.3 234.2 98.4 239.3 95.3 244.6 92.4 249.7 89.3 255.0 86.4 260.1 83.3 265.4 80.4 270.5 77.3 275.8 74.4 280.9 71.3M183.1 129.8 189.1 128.1 193.5 123.8 199.4 122.1 203.9 117.8 209.8 116.1 214.3 111.8 220.2 110.1 224.7 105.8 230.6 104.1 235.1 99.8 241.0 98.1 245.4 93.8 251.4 92.1 255.8 87.8 261.8 86.1 266.2 81.8 272.2 80.1 276.6 75.8 282.6 74.1M184.1 131.6 190.5 130.7 194.5 125.6 200.9 124.7 204.9 119.6 211.3 118.7 215.3 113.6 221.7 112.7 225.7 107.6 232.1 106.7 236.1 101.6 242.5 100.7 246.5 95.6 252.9 94.7 256.9 89.6 263.3 88.7 267.3 83.6 273.7 82.7 277.7 77.6 284.0 76.7M185.5 134.0 191.7 132.6 195.9 128.0 202.0 126.6 206.3 122.0 212.4 120.6 216.7 116.0 222.8 114.6 227.1 110.0 233.2 108.6 237.4 104.0 243.6 102.6 247.8 98.0 254.0 96.6 258.2 92.0 264.4 90.6 268.6 86.0 274.8 84.6 279.0 80.0 285.2 78.6M187.1 136.8 192.5 134.2 197.5 130.8 202.9 128.2 207.9 124.8 213.3 122.2 218.3 118.8 223.7 116.2 228.7 112.8 234.1 110.2 239.1 106.8 244.5 104.2 249.5 100.8 254.9 98.2 259.9 94.8 265.3 92.2 270.2 88.8 275.7 86.2 280.6 82.8 286.1 80.2M188.8 139.7 193.4 135.6 199.2 133.7 203.7 129.6 209.6 127.7 214.1 123.6 220.0 121.7 224.5 117.6 230.4 115.7 234.9 111.6 240.7 109.7 245.3 105.6 251.1 103.7 255.7 99.6 261.5 97.7 266.1 93.6 271.9 91.7 276.5 87.6 282.3 85.7 286.9 81.6M190.3 142.3 194.3 137.3 200.7 136.3 204.7 131.3 211.1 130.3 215.1 125.3 221.5 124.3 225.5 119.3 231.9 118.3 235.9 113.3 242.3 112.3 246.3 107.3 252.7 106.3 256.7 101.3 263.0 100.3 267.1 95.3 273.4 94.3 277.5 89.3 283.8 88.3 287.9 83.3M191.5 144.4 195.6 139.5 201.9 138.4 206.0 133.5 212.3 132.4 216.4 127.5 222.7 126.4 226.8 121.5 233.1 120.4 237.2 115.5 243.5 114.4 247.6 109.5 253.9 108.4 258.0 103.5 264.3 102.4 268.4 97.5 274.6 96.4 278.8 91.5 285.0 90.4 289.2 85.5M192.4 146.0 197.2 142.3 202.8 140.0 207.6 136.3 213.2 134.0 218.0 130.3 223.6 128.0 228.4 124.3 234.0 122.0 238.8 118.3 244.4 116.0 249.2 112.3 254.8 110.0 259.6 106.3 265.2 104.0 270.0 100.3 275.6 98.0 280.4 94.3 286.0 92.0 290.8 88.3M193.2 147.4 198.9 145.2 203.6 141.4 209.3 139.2 214.0 135.4 219.7 133.2 224.4 129.4 230.1 127.2 234.8 123.4 240.5 121.2 245.2 117.4 250.9 115.2 255.6 111.4 261.3 109.2 266.0 105.4 271.7 103.2 276.4 99.4 282.0 97.2 286.8 93.4 292.4 91.2M194.2 149.0 200.5 147.9 204.6 143.0 210.9 141.9 215.0 137.0 221.3 135.9 225.3 131.0 231.6 129.9 235.7 125.0 242.0 123.9 246.1 119.0 252.4 117.9 256.5 113.0 262.8 111.9 266.9 107.0 273.2 105.9 277.3 101.0 283.6 99.9 287.7 95.0 294.0 93.9M195.4 151.1 201.7 150.1 205.8 145.1 212.1 144.1 216.2 139.1 222.5 138.1 226.6 133.1 232.9 132.1 237.0 127.1 243.3 126.1 247.4 121.1 253.7 120.1 257.8 115.1 264.1 114.1 268.2 109.1 274.5 108.1 278.5 103.1 284.9 102.1 288.9 97.1 295.3 96.1M196.9 153.8 202.7 151.8 207.3 147.8 213.1 145.8 217.7 141.8 223.5 139.8 228.1 135.8 233.9 133.8 238.5 129.8 244.3 127.8 248.9 123.8 254.7 121.8 259.3 117.8 265.1 115.8 269.7 111.8 275.4 109.8 280.1 105.8 285.8 103.8 290.5 99.8 296.2 97.8M198.6 156.7 203.5 153.2 209.0 150.7 213.9 147.2 219.4 144.7 224.3 141.2 229.8 138.7 234.7 135.2 240.2 132.7 245.1 129.2 250.6 126.7 255.5 123.2 261.0 120.7 265.9 117.2 271.4 114.7 276.3 111.2 281.8 108.7 286.6 105.2 292.2 102.7 297.0 99.2M200.2 159.5 204.4 154.7 210.6 153.5 214.8 148.7 221.0 147.5 225.2 142.7 231.4 141.5 235.6 136.7 241.8 135.5 246.0 130.7 252.2 129.5 256.4 124.7 262.6 123.5 266.8 118.7 273.0 117.5 277.2 112.7 283.4 111.5 287.5 106.7 293.8 105.5 297.9 100.7M201.6 161.8 205.6 156.8 212.0 155.8 216.0 150.8 222.3 149.8 226.4 144.8 232.7 143.8 236.8 138.8 243.1 137.8 247.2 132.8 253.5 131.8 257.5 126.8 263.9 125.8 267.9 120.8 274.3 119.8 278.3 114.8 284.7 113.8 288.7 108.8 295.1 107.8 299.1 102.8M202.6 163.6 207.1 159.3 213.0 157.6 217.5 153.3 223.4 151.6 227.9 147.3 233.7 145.6 238.2 141.3 244.1 139.6 248.6 135.3 254.5 133.6 259.0 129.3 264.9 127.6 269.4 123.3 275.3 121.6 279.8 117.3 285.7 115.6 290.2 111.3 296.1 109.6 300.6 105.3M203.4 165.0 208.7 162.2 213.8 159.0 219.1 156.2 224.2 153.0 229.5 150.2 234.6 147.0 239.9 144.2 245.0 141.0 250.3 138.2 255.4 135.0 260.7 132.2 265.8 129.0 271.1 126.2 276.1 123.0 281.5 120.2 286.5 117.0 291.9 114.2 296.9 111.0 302.3 108.2M204.3 166.5 210.4 165.1 214.7 160.5 220.8 159.1 225.0 154.5 231.2 153.1 235.4 148.5 241.6 147.1 245.8 142.5 252.0 141.1 256.2 136.5 262.3 135.1 266.6 130.5 272.7 129.1 277.0 124.5 283.1 123.1 287.4 118.5 293.5 117.1 297.8 112.5 303.9 111.1M205.4 168.4 211.8 167.5 215.8 162.4 222.2 161.5 226.2 156.4 232.6 155.5 236.6 150.4 242.9 149.5 246.9 144.4 253.3 143.5 257.3 138.4 263.7 137.5 267.7 132.4 274.1 131.5 278.1 126.4 284.5 125.5 288.5 120.4 294.9 119.5 298.9 114.4 305.3 113.5M206.8 170.9 212.8 169.3 217.2 164.9 223.2 163.3 227.6 158.9 233.6 157.3 238.0 152.9 244.0 151.3 248.4 146.9 254.4 145.3 258.8 140.9 264.8 139.3 269.2 134.9 275.2 133.3 279.6 128.9 285.6 127.3 289.9 122.9 296.0 121.3 300.3 116.9 306.4 115.3M208.5 173.8 213.7 170.8 218.9 167.8 224.1 164.8 229.2 161.8 234.5 158.8 239.6 155.8 244.9 152.8 250.0 149.8 255.2 146.8 260.4 143.8 265.6 140.8 270.8 137.8 276.0 134.8 281.2 131.8 286.4 128.8 291.6 125.8 296.8 122.8 302.0 119.8 307.2 116.8M210.1 176.6 214.5 172.2 220.5 170.6 224.9 166.2 230.9 164.6 235.3 160.2 241.3 158.6 245.7 154.2 251.7 152.6 256.1 148.2 262.1 146.6 266.5 142.2 272.5 140.6 276.9 136.2 282.9 134.6 287.3 130.2 293.3 128.6 297.7 124.2 303.7 122.6 308.0 118.2M211.6 179.1 215.6 174.1 222.0 173.1 226.0 168.1 232.4 167.1 236.4 162.1 242.7 161.1 246.7 156.1 253.1 155.1 257.1 150.1 263.5 149.1 267.5 144.1 273.9 143.1 277.9 138.1 284.3 137.1 288.3 132.1 294.7 131.1 298.7 126.1 305.1 125.1 309.1 120.1M212.7 181.1 216.9 176.5 223.1 175.1 227.3 170.5 233.5 169.1 237.7 164.5 243.9 163.1 248.1 158.5 254.3 157.1 258.5 152.5 264.7 151.1 268.9 146.5 275.0 145.1 279.3 140.5 285.4 139.1 289.7 134.5 295.8 133.1 300.1 128.5 306.2 127.1 310.5 122.5M213.6 182.6 218.6 179.3 224.0 176.6 229.0 173.3 234.4 170.6 239.4 167.3 244.7 164.6 249.8 161.3 255.1 158.6 260.1 155.3 265.5 152.6 270.5 149.3 275.9 146.6 280.9 143.3 286.3 140.6 291.3 137.3 296.7 134.6 301.7 131.3 307.1 128.6 312.1 125.3M214.4 184.0 220.3 182.2 224.8 178.0 230.6 176.2 235.2 172.0 241.0 170.2 245.6 166.0 251.4 164.2 256.0 160.0 261.8 158.2 266.3 154.0 272.2 152.2 276.7 148.0 282.6 146.2 287.1 142.0 293.0 140.2 297.5 136.0 303.4 134.2 307.9 130.0 313.8 128.2M215.4 185.8 221.8 184.8 225.8 179.8 232.1 178.8 236.2 173.8 242.5 172.8 246.6 167.8 252.9 166.8 257.0 161.8 263.3 160.8 267.3 155.8 273.7 154.8 277.7 149.8 284.1 148.8 288.1 143.8 294.5 142.8 298.5 137.8 304.9 136.8 308.9 131.8 315.3 130.8M216.7 188.0 222.9 186.8 227.1 182.0 233.3 180.8 237.5 176.0 243.7 174.8 247.9 170.0 254.1 168.8 258.3 164.0 264.5 162.8 268.7 158.0 274.9 156.8 279.1 152.0 285.3 150.8 289.4 146.0 295.7 144.8 299.8 140.0 306.1 138.8 310.2 134.0 316.5 132.8M218.3 190.8 223.8 188.4 228.7 184.8 234.2 182.4 239.1 178.8 244.6 176.4 249.5 172.8 255.0 170.4 259.9 166.8 265.4 164.4 270.3 160.8 275.8 158.4 280.7 154.8 286.2 152.4 291.0 148.8 296.6 146.4 301.4 142.8 307.0 140.4 311.8 136.8 317.4 134.4M220.0 193.7 224.7 189.8 230.4 187.7 235.0 183.8 240.8 181.7 245.4 177.8 251.2 175.7 255.8 171.8 261.6 169.7 266.2 165.8 271.9 163.7 276.6 159.8 282.3 157.7 287.0 153.8 292.7 151.7 297.4 147.8 303.1 145.7 307.8 141.8 313.5 139.7 318.2 135.8M221.5 196.4 225.6 191.5 231.9 190.4 236.0 185.5 242.3 184.4 246.4 179.5 252.7 178.4 256.8 173.5 263.1 172.4 267.2 167.5 273.5 166.4 277.6 161.5 283.9 160.4 288.0 155.5 294.3 154.4 298.4 149.5 304.7 148.4 308.7 143.5 315.1 142.4 319.1 137.5M222.8 198.6 226.9 193.6 233.2 192.6 237.3 187.6 243.6 186.6 247.6 181.6 254.0 180.6 258.0 175.6 264.3 174.6 268.4 169.6 274.7 168.6 278.8 163.6 285.1 162.6 289.2 157.6 295.5 156.6 299.6 151.6 305.9 150.6 310.0 145.6 316.3 144.6 320.4 139.6M223.7 200.2 228.4 196.3 234.1 194.2 238.8 190.3 244.5 188.2 249.2 184.3 254.9 182.2 259.6 178.3 265.3 176.2 270.0 172.3 275.7 170.2 280.4 166.3 286.1 164.2 290.8 160.3 296.5 158.2 301.2 154.3 306.9 152.2 311.6 148.3 317.3 146.2 321.9 142.3M224.5 201.6 230.1 199.2 234.9 195.6 240.5 193.2 245.3 189.6 250.9 187.2 255.7 183.6 261.3 181.2 266.1 177.6 271.7 175.2 276.5 171.6 282.1 169.2 286.9 165.6 292.5 163.2 297.3 159.6 302.8 157.2 307.7 153.6 313.2 151.2 318.1 147.6 323.6 145.2M225.4 203.2 231.7 202.0 235.8 197.2 242.1 196.0 246.2 191.2 252.5 190.0 256.6 185.2 262.9 184.0 267.0 179.2 273.3 178.0 277.4 173.2 283.7 172.0 287.8 167.2 294.0 166.0 298.2 161.2 304.4 160.0 308.6 155.2 314.8 154.0 319.0 149.2 325.2 148.0M226.6 205.2 233.0 204.3 237.0 199.2 243.4 198.3 247.4 193.2 253.8 192.3 257.8 187.2 264.2 186.3 268.2 181.2 274.6 180.3 278.6 175.2 285.0 174.3 289.0 169.2 295.4 168.3 299.4 163.2 305.7 162.3 309.8 157.2 316.1 156.3 320.2 151.2 326.5 150.3M228.1 207.8 234.0 206.0 238.5 201.8 244.4 200.0 248.9 195.8 254.8 194.0 259.3 189.8 265.2 188.0 269.7 183.8 275.6 182.0 280.1 177.8 286.0 176.0 290.5 171.8 296.4 170.0 300.9 165.8 306.7 164.0 311.3 159.8 317.1 158.0 321.7 153.8 327.5 152.0" fill="none" stroke="#1450b0" stroke-width="0.9" opacity="0.6"/>
<polygon points="214,111 246,111 246,150 214,140" fill="#4a92e0" opacity="0.55"/>
<clipPath id="q5"><polygon points="133,186 200,170 242,150 262,166 230,190 180,201 133,206"/></clipPath>
<polygon points="133,186 200,170 242,150 262,166 230,190 180,201 133,206" fill="#1e5cb8"/>
<path clip-path="url(#q5)" d="M258.7 208.0 262.3 204.5 266.0 201.0M252.8 208.1 256.5 204.6 260.3 201.4 264.3 198.3M247.5 208.9 251.4 205.7 255.5 202.8 259.7 200.1 264.0 197.4M247.2 207.8 251.2 204.9 255.3 202.0 259.3 199.0 263.3 196.0M242.9 209.7 246.6 206.5 250.3 203.1 253.9 199.7 257.5 196.2 261.2 192.8 265.0 189.5M241.2 207.1 244.6 203.4 248.0 199.8 251.7 196.3 255.4 193.0 259.4 189.9 263.6 187.2M235.4 207.5 238.9 203.8 242.6 200.4 246.5 197.3 250.5 194.3 254.7 191.5 259.0 188.9 263.3 186.4M230.4 208.6 234.2 205.3 238.1 202.2 242.2 199.2 246.3 196.3 250.4 193.5 254.4 190.6 258.4 187.7 262.4 184.7M230.2 207.5 234.1 204.4 237.9 201.2 241.7 198.0 245.4 194.7 249.1 191.4 252.8 188.0 256.5 184.6 260.2 181.3 264.2 178.1M226.0 209.5 229.5 206.0 232.9 202.4 236.3 198.7 239.7 195.1 243.2 191.4 246.8 188.0 250.6 184.7 254.6 181.6 258.7 178.7 263.0 176.2M224.0 206.7 227.2 202.8 230.5 199.0 234.0 195.4 237.7 192.0 241.5 188.8 245.6 185.8 249.8 183.1 254.1 180.4 258.4 177.9 262.8 175.5M218.5 207.3 221.8 203.6 225.4 200.0 229.1 196.7 233.1 193.6 237.1 190.7 241.3 187.8 245.4 185.0 249.5 182.2 253.6 179.3 257.6 176.4 261.5 173.3 265.5 170.3M213.7 208.8 217.3 205.3 221.2 202.0 225.1 198.9 229.0 195.8 232.9 192.7 236.8 189.6 240.6 186.3 244.3 183.1 248.0 179.7 251.7 176.3 255.5 173.0 259.4 169.9 263.4 166.9M213.6 207.7 217.3 204.3 220.9 200.9 224.5 197.5 228.0 193.9 231.5 190.4 234.9 186.7 238.4 183.1 242.1 179.7 245.8 176.3 249.8 173.2 253.9 170.4 258.2 167.7 262.6 165.3M209.4 209.6 212.7 205.9 215.9 202.1 219.1 198.2 222.4 194.4 225.7 190.6 229.1 187.0 232.8 183.6 236.6 180.3 240.7 177.3 244.9 174.6 249.2 172.0 253.5 169.5 257.9 167.0 262.2 164.6M207.3 206.7 210.3 202.7 213.5 198.8 216.8 195.0 220.4 191.5 224.1 188.2 228.1 185.0 232.1 182.1 236.3 179.3 240.5 176.5 244.6 173.8 248.7 171.0 252.8 168.1 256.8 165.1 260.7 162.1 264.7 159.0M201.9 207.6 205.1 203.7 208.5 200.1 212.2 196.6 216.0 193.4 220.0 190.2 223.9 187.2 227.9 184.2 231.8 181.1 235.7 178.0 239.5 174.7 243.2 171.4 247.0 168.1 250.8 164.8 254.7 161.6 258.7 158.6 262.9 155.8M197.4 209.3 200.9 205.7 204.6 202.3 208.4 199.0 212.1 195.7 215.9 192.3 219.5 189.0 223.1 185.5 226.6 182.0 230.1 178.4 233.7 174.9 237.3 171.4 241.0 168.0 245.0 164.9 249.0 162.0 253.3 159.3 257.7 156.9 262.2 154.6M197.3 208.1 200.9 204.6 204.3 201.0 207.7 197.3 211.0 193.6 214.2 189.8 217.5 186.0 220.8 182.3 224.3 178.6 227.9 175.2 231.8 171.9 235.8 168.9 239.9 166.1 244.2 163.5 248.6 161.0 253.0 158.6 257.4 156.2 261.7 153.7 265.9 151.1M196.3 206.2 199.3 202.2 202.3 198.2 205.4 194.2 208.5 190.3 211.9 186.5 215.4 183.0 219.1 179.6 223.1 176.5 227.1 173.6 231.3 170.8 235.5 168.0 239.7 165.3 243.9 162.6 248.0 159.8 252.0 156.8 256.0 153.8 260.0 150.8 264.0 147.8M190.9 207.1 193.8 202.9 196.8 198.9 200.0 195.1 203.5 191.4 207.1 188.0 210.9 184.7 214.9 181.6 218.9 178.6 222.9 175.6 226.9 172.6 230.8 169.6 234.7 166.4 238.5 163.2 242.2 159.9 246.0 156.6 249.9 153.4 253.9 150.4 258.1 147.5M185.7 208.1 188.8 204.2 192.1 200.5 195.7 196.9 199.4 193.5 203.2 190.3 207.0 187.0 210.8 183.8 214.5 180.5 218.2 177.1 221.8 173.6 225.3 170.1 228.9 166.6 232.5 163.1 236.3 159.7 240.2 156.6 244.2 153.6 248.4 150.9 252.8 148.5 257.3 146.2M184.9 206.4 188.4 202.8 192.0 199.4 195.6 195.9 199.2 192.4 202.6 188.8 206.0 185.1 209.3 181.4 212.6 177.6 216.0 173.9 219.5 170.3 223.1 166.8 226.9 163.5 230.9 160.5 235.0 157.6 239.3 155.0 243.7 152.5 248.1 150.2 252.5 147.8M181.4 208.9 184.8 205.2 188.0 201.4 191.2 197.5 194.3 193.6 197.3 189.7 200.4 185.7 203.6 181.8 206.9 178.1 210.5 174.5 214.2 171.1 218.1 168.0 222.2 165.0 226.3 162.2 230.6 159.5 234.8 156.9 239.0 154.2 243.2 151.4 247.2 148.6M180.2 206.7 183.0 202.6 185.8 198.5 188.7 194.4 191.7 190.3 195.0 186.5 198.4 182.8 202.0 179.4 205.9 176.1 209.8 173.0 213.9 170.0 217.9 167.1 222.0 164.2 225.9 161.2 229.8 158.1 233.7 154.9 237.5 151.7 241.3 148.4M174.8 207.7 177.5 203.5 180.5 199.4 183.6 195.5 186.9 191.8 190.5 188.2 194.2 184.8 198.0 181.6 201.9 178.4 205.8 175.2 209.6 172.0 213.3 168.7 216.9 165.3 220.5 161.8 224.1 158.3 227.8 154.8 231.5 151.5 235.4 148.3M169.8 209.0 172.8 205.0 176.1 201.2 179.5 197.5 183.1 194.0 186.8 190.6 190.4 187.2 194.0 183.7 197.6 180.2 201.0 176.6 204.4 173.0 207.8 169.3 211.2 165.6 214.7 161.9 218.3 158.4 222.0 155.1 226.0 152.0 230.1 149.2 234.4 146.6M169.2 207.3 172.6 203.7 176.0 200.0 179.5 196.4 182.8 192.7 186.1 188.9 189.2 185.1 192.3 181.2 195.5 177.3 198.7 173.4 202.0 169.6 205.5 166.0 209.2 162.6 213.1 159.5 217.2 156.5 221.4 153.7 225.6 151.0 229.9 148.4M165.8 209.9 169.0 206.0 172.0 202.0 175.0 198.0 177.9 194.0 180.7 189.9 183.7 185.8 186.7 181.8 189.9 177.9 193.4 174.3 197.0 170.8 200.8 167.5 204.8 164.4 208.8 161.5 212.9 158.6 217.0 155.7 221.1 152.8 225.0 149.7 228.9 146.6M164.3 207.5 167.0 203.3 169.6 199.0 172.4 194.8 175.3 190.7 178.4 186.8 181.8 183.0 185.3 179.5 189.0 176.1 192.9 172.9 196.8 169.7 200.7 166.6 204.6 163.4 208.4 160.2 212.1 156.9 215.7 153.5 219.3 150.0 223.0 146.6M159.0 208.6 161.6 204.3 164.5 200.2 167.5 196.2 170.8 192.4 174.2 188.7 177.8 185.2 181.5 181.8 185.2 178.5 188.9 175.1 192.5 171.7 196.1 168.1 199.5 164.6 202.9 160.9 206.4 157.2 209.8 153.6 213.5 150.1 217.2 146.8M157.2 206.1 160.3 202.2 163.7 198.4 167.2 194.8 170.7 191.2 174.2 187.6 177.6 184.0 180.9 180.3 184.2 176.5 187.4 172.7 190.6 168.8 193.8 165.0 197.2 161.2 200.7 157.6 204.3 154.2 208.2 151.0 212.2 148.0M153.8 208.5 157.1 204.7 160.3 200.9 163.6 197.1 166.7 193.3 169.8 189.3 172.7 185.3 175.7 181.3 178.7 177.2 181.7 173.3 185.0 169.4 188.4 165.7 192.0 162.2 195.8 158.9 199.7 155.8 203.8 152.9 207.9 150.0 212.1 147.2M151.7 209.4 154.6 205.4 157.4 201.3 160.1 197.1 162.8 192.9 165.5 188.7 168.4 184.6 171.4 180.5 174.6 176.7 178.0 173.0 181.6 169.5 185.3 166.2 189.2 163.1 193.2 160.0 197.1 156.9 201.0 153.8 204.8 150.6 208.5 147.3M149.7 206.8 152.2 202.4 154.8 198.1 157.5 193.9 160.4 189.8 163.5 185.9 166.8 182.1 170.3 178.6 174.0 175.2 177.7 171.8 181.5 168.5 185.2 165.2 188.9 161.8 192.4 158.4 195.9 154.8 199.4 151.2 202.8 147.6M144.5 208.0 147.1 203.7 149.9 199.5 153.0 195.6 156.2 191.8 159.6 188.1 163.2 184.5 166.7 181.0 170.3 177.5 173.7 173.9 177.1 170.3 180.4 166.6 183.7 162.8 186.9 159.0 190.2 155.2 193.6 151.5 197.1 147.9M140.1 209.7 143.0 205.7 146.2 201.8 149.5 198.0 152.9 194.3 156.2 190.6 159.5 186.8 162.7 183.0 165.8 179.1 168.8 175.2 171.8 171.2 174.9 167.2 178.0 163.3 181.3 159.5 184.7 155.9 188.4 152.4 192.2 149.2 196.2 146.2M139.9 208.3 143.0 204.4 146.1 200.5 149.1 196.5 152.0 192.5 154.9 188.4 157.6 184.2 160.4 180.1 163.3 175.9 166.3 171.9 169.5 168.1 172.9 164.4 176.5 160.9 180.2 157.6 184.1 154.4 188.1 151.4 192.1 148.3M139.2 206.5 141.8 202.3 144.4 198.0 146.9 193.7 149.5 189.4 152.2 185.2 155.1 181.1 158.2 177.1 161.6 173.4 165.1 169.8 168.8 166.4 172.5 163.1 176.3 159.9 180.1 156.6 183.8 153.3 187.5 149.9 191.0 146.4M134.3 207.9 136.7 203.5 139.1 199.1 141.7 194.8 144.5 190.7 147.6 186.7 150.8 182.9 154.3 179.2 157.8 175.7 161.4 172.2 165.0 168.8 168.6 165.3 172.1 161.7 175.4 158.1 178.7 154.3 182.0 150.6 185.3 146.8M129.2 209.2 131.7 204.9 134.5 200.7 137.5 196.7 140.6 192.8 144.0 189.1 147.4 185.4 150.8 181.7 154.2 178.1 157.5 174.3 160.7 170.5 163.8 166.6 166.8 162.7 169.9 158.7 173.0 154.8 176.3 151.0 179.8 147.4M131.0 203.1 134.2 199.2 137.4 195.4 140.6 191.5 143.7 187.7 146.7 183.7 149.6 179.7 152.5 175.6 155.3 171.5 158.2 167.4 161.2 163.3 164.4 159.5 167.8 155.8 171.4 152.3 175.1 148.9M130.9 201.7 133.7 197.6 136.4 193.4 139.0 189.2 141.7 184.9 144.3 180.6 147.0 176.4 149.9 172.4 153.0 168.4 156.4 164.7 159.9 161.1 163.6 157.7 167.4 154.4 171.2 151.2 175.0 148.0M131.3 194.6 133.7 190.3 136.4 186.0 139.2 181.8 142.2 177.9 145.5 174.1 148.9 170.4 152.5 166.9 156.2 163.5 159.8 160.1 163.4 156.6 167.0 153.1 170.4 149.6M131.9 187.7 135.1 183.9 138.5 180.1 141.9 176.5 145.4 172.9 148.9 169.3 152.3 165.6 155.5 161.9 158.7 158.1 161.8 154.2 165.0 150.3 168.1 146.4M131.9 186.4 135.1 182.6 138.3 178.8 141.4 174.9 144.4 171.0 147.4 166.9 150.3 162.9 153.2 158.8 156.2 154.8 159.4 150.9 162.8 147.2M131.0 184.6 133.7 180.4 136.4 176.2 139.1 172.0 141.9 167.8 144.8 163.7 147.9 159.8 151.2 156.0 154.7 152.4 158.4 149.0M131.1 177.2 133.9 173.0 136.9 169.1 140.2 165.2 143.6 161.6 147.2 158.1 150.9 154.7 154.6 151.4 158.3 148.0M129.7 174.9 133.0 171.2 136.5 167.6 140.1 164.1 143.6 160.5 147.0 156.9 150.4 153.3 153.7 149.5" fill="none" stroke="#46d0ee" stroke-width="1.15" opacity="1.0"/>
<clipPath id="q6"><polygon points="242,150 262,150 300,142 300,170 262,174 230,190 262,166"/></clipPath>
<polygon points="242,150 262,150 300,142 300,170 262,174 230,190 262,166" fill="#1048b0"/>
<path clip-path="url(#q6)" d="M298.0 193.2 302.7 191.7M292.1 192.9 296.6 190.8 301.2 188.7M285.9 191.8 290.4 189.5 295.0 187.4 299.6 185.6M275.4 193.5 279.9 191.1 284.4 189.0 289.1 187.1 293.8 185.5 298.7 184.2 303.5 183.0M269.7 193.6 274.3 191.5 278.9 189.6 283.6 187.9 288.4 186.3 293.1 184.7 297.8 183.2 302.6 181.6M269.1 192.6 273.7 190.6 278.3 188.6 282.8 186.6 287.3 184.5 291.8 182.5 296.4 180.4 301.0 178.4M263.9 193.5 268.2 191.1 272.5 188.6 276.8 186.0 281.2 183.6 285.6 181.2 290.1 179.1 294.8 177.1 299.5 175.5M258.2 193.6 262.3 190.7 266.4 187.9 270.7 185.2 275.1 182.8 279.6 180.6 284.2 178.7 289.0 177.0 293.8 175.6 298.6 174.4 303.5 173.2M252.2 193.3 256.3 190.4 260.5 187.7 264.9 185.2 269.4 183.1 274.1 181.1 278.8 179.4 283.5 177.8 288.3 176.2 293.0 174.7 297.7 173.1 302.4 171.5M246.6 193.6 250.8 191.0 255.2 188.5 259.7 186.3 264.3 184.2 268.9 182.2 273.4 180.2 278.0 178.2 282.5 176.2 287.1 174.1 291.6 172.0 296.2 170.0 300.8 168.1M246.0 192.4 250.3 190.0 254.7 187.6 259.1 185.2 263.4 182.8 267.7 180.3 272.1 177.8 276.4 175.3 280.8 173.0 285.3 170.7 289.9 168.7 294.6 167.0 299.4 165.5M241.2 193.9 245.3 191.1 249.3 188.2 253.4 185.4 257.5 182.5 261.7 179.7 265.9 177.0 270.3 174.5 274.8 172.3 279.4 170.3 284.1 168.5 288.9 167.0 293.7 165.7 298.6 164.6 303.5 163.5M239.6 191.3 243.5 188.1 247.4 185.0 251.5 182.1 255.7 179.4 260.1 176.9 264.6 174.7 269.2 172.7 273.9 170.9 278.6 169.3 283.4 167.7 288.1 166.2 292.9 164.6 297.6 163.0 302.3 161.4M233.7 191.3 237.7 188.2 241.7 185.3 246.0 182.6 250.4 180.1 254.9 177.9 259.4 175.8 264.0 173.8 268.6 171.8 273.2 169.9 277.7 167.9 282.3 165.8 286.8 163.7 291.4 161.7 296.0 159.7 300.7 157.9M228.4 192.1 232.5 189.2 236.7 186.5 241.1 184.0 245.5 181.6 249.9 179.2 254.3 176.9 258.6 174.5 263.0 172.0 267.3 169.6 271.7 167.1 276.1 164.7 280.5 162.4 285.1 160.3 289.8 158.5 294.5 156.9 299.4 155.6M227.9 190.9 232.1 188.2 236.3 185.5 240.4 182.8 244.6 180.0 248.7 177.1 252.8 174.3 256.9 171.5 261.2 168.8 265.5 166.2 270.0 163.9 274.5 161.9 279.2 160.1 284.0 158.5 288.8 157.1 293.7 155.9 298.6 154.8 303.4 153.7M227.1 189.4 231.0 186.2 234.8 183.1 238.7 179.9 242.7 176.8 246.7 173.9 250.9 171.1 255.3 168.6 259.8 166.3 264.3 164.3 269.0 162.4 273.8 160.8 278.5 159.2 283.3 157.7 288.0 156.1 292.7 154.5 297.4 152.9 302.1 151.2M229.0 183.1 232.9 179.9 236.9 176.9 241.1 174.2 245.5 171.7 250.0 169.5 254.5 167.4 259.1 165.4 263.8 163.4 268.3 161.5 272.9 159.5 277.5 157.5 282.0 155.4 286.5 153.3 291.1 151.3 295.8 149.4 300.5 147.7M227.6 180.8 231.8 178.1 236.2 175.6 240.6 173.2 245.0 170.8 249.4 168.5 253.8 166.2 258.2 163.8 262.5 161.3 266.9 158.9 271.3 156.4 275.7 154.1 280.3 152.0 284.9 150.1 289.7 148.4 294.5 147.0 299.4 145.9M227.2 179.8 231.4 177.1 235.6 174.4 239.8 171.7 243.9 168.9 248.0 166.1 252.2 163.3 256.4 160.6 260.7 158.0 265.2 155.6 269.7 153.5 274.4 151.6 279.1 150.0 283.9 148.6 288.8 147.3 293.7 146.2 298.5 145.0 303.4 143.9M227.6 176.9 231.4 173.7 235.3 170.6 239.3 167.6 243.4 164.7 247.6 162.0 251.9 159.5 256.4 157.2 261.0 155.2 265.7 153.4 270.4 151.8 275.1 150.2 279.9 148.7 284.6 147.1 289.3 145.5 294.0 143.9 298.6 142.2 303.3 140.5M229.5 170.5 233.5 167.6 237.8 165.0 242.2 162.5 246.6 160.3 251.2 158.3 255.8 156.3 260.4 154.4 265.0 152.5 269.5 150.5 274.1 148.5 278.6 146.4 283.1 144.3 287.7 142.3 292.3 140.4 297.0 138.7M228.5 168.7 232.8 166.3 237.2 163.9 241.7 161.7 246.1 159.4 250.5 157.1 254.8 154.7 259.2 152.3 263.5 149.8 267.9 147.4 272.4 145.1 276.9 143.0 281.5 141.1 286.2 139.4 291.0 138.0M228.0 167.8 232.2 165.1 236.4 162.5 240.5 159.7 244.7 156.9 248.8 154.2 253.1 151.5 257.4 148.9 261.8 146.6 266.3 144.5 271.0 142.6 275.7 141.0 280.5 139.6 285.4 138.3M226.7 165.5 230.6 162.4 234.6 159.4 238.6 156.4 242.8 153.7 247.1 151.2 251.6 148.9 256.1 146.8 260.8 145.0 265.5 143.3 270.3 141.7 275.0 140.2 279.7 138.6M228.7 159.3 233.0 156.6 237.3 154.2 241.8 151.9 246.3 149.8 250.9 147.9 255.5 146.0 260.1 144.1 264.7 142.1 269.3 140.1 273.8 138.1M227.9 157.9 232.4 155.5 236.8 153.3 241.3 151.0 245.7 148.7 250.1 146.4 254.4 144.0 258.8 141.6 263.1 139.2M227.4 156.8 231.6 154.2 235.8 151.5 239.9 148.7 244.1 146.0 248.3 143.3 252.6 140.7 257.0 138.3M229.8 151.2 233.9 148.2 238.1 145.4 242.3 142.9 246.8 140.5 251.3 138.4M228.1 148.3 232.5 145.8 236.9 143.5 241.5 141.4 246.1 139.4M227.5 147.1 231.9 144.8 236.4 142.6 240.9 140.4 245.3 138.1M226.8 145.8 231.0 143.2 235.2 140.5" fill="none" stroke="#3e96ea" stroke-width="1.0" opacity="0.95"/>
<clipPath id="q7"><polygon points="230,190 262,174 300,170 300,190 255,200 232,203"/></clipPath>
<polygon points="230,190 262,174 300,170 300,190 255,200 232,203" fill="#0c3b94"/>
<path clip-path="url(#q7)" d="M295.3 204.6 299.6 202.1M289.3 204.2 293.6 201.7 298.1 199.4 302.7 197.4M283.7 204.6 288.1 202.2 292.7 200.1 297.3 198.1 302.0 196.4M278.7 205.8 283.1 203.4 287.5 201.2 292.0 199.0 296.5 196.9 301.0 194.8M278.1 204.6 282.3 201.9 286.5 199.3 290.7 196.8 295.0 194.3 299.4 191.9 303.9 189.7M272.7 205.2 276.6 202.1 280.7 199.2 284.8 196.4 289.1 193.8 293.5 191.5 298.0 189.4 302.7 187.5M267.0 205.4 270.9 202.3 274.9 199.3 279.1 196.6 283.5 194.1 288.0 191.9 292.6 189.9 297.2 188.2 301.9 186.5M264.1 204.0 268.2 201.1 272.5 198.5 276.9 196.0 281.3 193.8 285.8 191.6 290.4 189.5 294.9 187.5 299.4 185.4M259.4 205.5 263.5 202.7 267.7 200.0 272.0 197.4 276.2 194.8 280.5 192.3 284.8 189.8 289.1 187.3 293.5 184.9 297.9 182.5 302.4 180.4M258.8 204.3 262.8 201.3 266.8 198.3 270.8 195.3 274.8 192.4 278.9 189.6 283.1 186.8 287.5 184.3 291.9 182.0 296.5 180.0 301.2 178.2M253.8 205.3 257.5 202.0 261.2 198.7 265.0 195.5 269.0 192.4 273.1 189.6 277.4 186.9 281.8 184.6 286.4 182.4 291.0 180.5 295.7 178.8 300.4 177.2M248.4 206.0 251.9 202.5 255.6 199.1 259.5 196.0 263.6 193.1 267.8 190.4 272.2 187.9 276.6 185.6 281.1 183.5 285.7 181.4 290.2 179.4 294.8 177.4 299.4 175.5 303.9 173.6M243.1 206.9 246.8 203.5 250.6 200.3 254.6 197.3 258.8 194.5 263.0 191.8 267.3 189.3 271.6 186.8 275.9 184.3 280.2 181.9 284.5 179.5 288.9 177.1 293.3 174.7 297.8 172.5 302.4 170.5M242.2 205.2 246.1 202.1 250.1 199.1 254.1 196.1 258.2 193.2 262.2 190.3 266.2 187.4 270.3 184.6 274.4 181.8 278.6 179.1 282.9 176.5 287.3 174.1 291.8 172.0 296.5 170.1 301.2 168.5M241.8 203.9 245.5 200.6 249.2 197.3 252.9 194.0 256.7 190.8 260.6 187.6 264.5 184.6 268.6 181.7 272.8 179.0 277.2 176.5 281.7 174.3 286.3 172.4 290.9 170.6 295.7 169.0 300.4 167.5M236.9 205.2 240.4 201.6 243.8 198.0 247.4 194.5 251.1 191.2 255.0 188.0 259.0 185.0 263.2 182.3 267.5 179.8 271.9 177.4 276.4 175.3 281.0 173.3 285.6 171.3 290.1 169.4 294.7 167.5M233.8 203.8 237.2 200.1 240.7 196.6 244.5 193.2 248.5 190.1 252.6 187.2 256.8 184.5 261.1 182.0 265.4 179.5 269.8 177.1 274.2 174.7 278.6 172.4 282.9 170.0 287.4 167.6M228.7 204.9 232.3 201.4 236.0 198.0 239.9 194.9 243.9 191.8 248.0 188.9 252.1 186.1 256.2 183.3 260.3 180.5 264.4 177.7 268.5 174.9 272.7 172.2 277.0 169.5 281.3 167.0M228.1 203.4 231.8 200.0 235.6 196.8 239.4 193.6 243.2 190.4 247.0 187.2 250.9 184.0 254.7 180.9 258.7 177.8 262.7 174.8 266.8 172.0 271.1 169.4 275.5 167.0M227.5 201.9 231.0 198.4 234.5 194.8 238.0 191.3 241.6 187.8 245.3 184.4 249.1 181.1 253.0 178.1 257.1 175.2 261.4 172.5 265.7 170.1 270.2 167.8M229.2 195.6 232.6 192.0 236.2 188.5 239.9 185.1 243.8 182.0 247.9 179.1 252.1 176.3 256.4 173.8 260.7 171.4 265.1 169.0 269.6 166.7M227.5 193.1 231.2 189.7 235.1 186.6 239.1 183.6 243.2 180.7 247.4 177.9 251.5 175.2 255.7 172.5 259.9 169.8 264.0 167.1M226.9 191.6 230.8 188.5 234.7 185.4 238.6 182.3 242.5 179.2 246.3 176.1 250.3 173.0 254.2 170.0 258.2 167.0M226.3 190.1 229.9 186.7 233.5 183.3 237.1 179.9 240.8 176.5 244.6 173.2 248.5 170.1 252.5 167.2M228.0 183.9 231.6 180.4 235.3 177.1 239.2 173.9 243.2 170.9 247.4 168.2M228.9 179.5 232.9 176.4 237.0 173.5 241.2 170.7 245.4 168.0" fill="none" stroke="#40cdee" stroke-width="1.05" opacity="1.0"/>
<clipPath id="q8"><polygon points="133,206 182,201 186,240 178,276 133,276"/></clipPath>
<polygon points="133,206 182,201 186,240 178,276 133,276" fill="#3a80d2"/>
<path clip-path="url(#q8)" d="M103.0 195.0 109.3 196.6 114.8 193.0 121.0 194.2 126.9 192.9 132.7 190.8 139.0 192.5 144.5 188.8 150.7 190.0 156.6 188.7 162.4 186.6 168.7 188.3 174.2 184.7 180.5 185.8 186.3 184.6 192.1 182.4 198.4 184.1M103.2 196.9 109.6 198.8 115.3 196.2 121.2 195.5 127.4 196.2 133.0 192.7 139.3 194.6 145.0 192.0 150.9 191.3 157.1 192.0 162.7 188.6 169.0 190.5 174.7 187.8 180.6 187.2 186.8 187.8 192.4 184.4 198.7 186.3M103.6 199.6 109.8 200.4 115.7 199.6 121.4 197.0 127.8 198.9 133.3 195.4 139.5 196.2 145.4 195.4 151.1 192.9 157.5 194.7 163.0 191.2 169.2 192.0 175.2 191.2 180.9 188.7 187.2 190.6 192.7 187.1 198.9 187.8M104.1 202.9 110.0 201.7 116.2 202.8 121.7 199.2 128.0 200.9 133.8 198.7 139.7 197.5 145.9 198.6 151.4 195.0 157.8 196.7 163.5 194.5 169.4 193.3 175.6 194.4 181.2 190.8 187.5 192.5 193.2 190.3 199.1 189.2M104.6 206.3 110.2 203.3 116.5 205.3 122.1 202.0 128.2 202.3 134.3 202.1 139.9 199.2 146.3 201.1 151.8 197.8 158.0 198.2 164.0 197.9 169.6 195.0 176.0 197.0 181.6 193.7 187.7 194.0 193.7 193.7 199.3 190.8M105.0 209.3 110.5 205.6 116.8 207.1 122.6 205.4 128.4 203.7 134.7 205.1 140.2 201.5 146.5 202.9 152.3 201.2 158.1 199.5 164.4 201.0 169.9 197.3 176.2 198.8 182.0 197.0 187.9 195.4 194.1 196.8 199.7 193.1M105.3 211.6 111.0 208.7 117.0 208.5 123.1 208.7 128.7 205.5 135.0 207.5 140.7 204.5 146.7 204.3 152.8 204.6 158.4 201.3 164.7 203.3 170.4 200.3 176.4 200.1 182.5 200.4 188.1 197.1 194.4 199.1 200.1 196.1M105.6 213.3 111.4 212.1 117.2 209.9 123.5 211.6 129.0 208.0 135.3 209.1 141.1 207.9 146.9 205.7 153.2 207.4 158.7 203.8 165.0 205.0 170.9 203.7 176.6 201.6 182.9 203.3 188.5 199.6 194.7 200.8 200.6 199.5M105.7 214.6 111.9 215.3 117.5 211.9 123.8 213.8 129.5 211.2 135.4 210.5 141.6 211.2 147.2 207.7 153.5 209.6 159.2 207.0 165.2 206.3 171.3 207.0 176.9 203.5 183.2 205.4 188.9 202.8 194.9 202.1 201.0 202.8M106.0 216.2 112.3 218.1 117.8 214.6 124.0 215.3 130.0 214.6 135.7 212.0 142.0 213.9 147.6 210.4 153.7 211.1 159.7 210.4 165.4 207.8 171.7 209.7 177.3 206.2 183.4 207.0 189.4 206.2 195.1 203.6 201.4 205.5M106.3 218.3 112.6 220.0 118.3 217.8 124.2 216.6 130.4 217.7 136.0 214.1 142.3 215.8 148.0 213.7 153.9 212.5 160.1 213.6 165.7 210.0 172.0 211.7 177.7 209.5 183.6 208.3 189.8 209.4 195.4 205.8 201.7 207.5M106.7 221.2 112.8 221.5 118.8 221.2 124.4 218.3 130.8 220.3 136.4 217.0 142.5 217.3 148.5 217.1 154.1 214.1 160.5 216.1 166.1 212.8 172.2 213.1 178.2 212.9 183.8 209.9 190.2 211.9 195.8 208.7 201.9 208.9M107.1 224.5 112.9 222.8 119.2 224.3 124.8 220.6 131.0 222.1 136.8 220.4 142.7 218.7 148.9 220.1 154.5 216.4 160.7 217.9 166.5 216.2 172.4 214.5 178.6 215.9 184.2 212.3 190.4 213.7 196.3 212.0 202.1 210.3M107.6 227.9 113.2 224.6 119.5 226.6 125.2 223.6 131.2 223.4 137.3 223.7 142.9 220.5 149.2 222.4 154.9 219.5 160.9 219.3 167.0 219.5 172.6 216.3 179.0 218.3 184.6 215.3 190.6 215.1 196.7 215.4 202.3 212.1M108.0 230.8 113.6 227.1 119.8 228.3 125.7 227.1 131.4 224.9 137.7 226.6 143.3 223.0 149.5 224.1 155.4 222.9 161.1 220.7 167.4 222.4 173.0 218.8 179.2 219.9 185.1 218.7 190.8 216.5 197.1 218.2 202.7 214.6M108.3 232.9 114.0 230.3 120.0 229.6 126.1 230.3 131.7 226.8 138.0 228.7 143.7 226.1 149.7 225.4 155.8 226.1 161.4 222.7 167.7 224.5 173.4 222.0 179.4 221.2 185.5 222.0 191.1 218.5 197.4 220.4 203.1 217.8M108.5 234.4 114.5 233.7 120.2 231.1 126.5 233.0 132.1 229.5 138.2 230.3 144.2 229.6 149.9 227.0 156.2 228.8 161.8 225.4 167.9 226.1 173.9 225.4 179.6 222.8 185.9 224.7 191.5 221.2 197.6 221.9 203.6 221.2M108.7 235.8 114.9 236.9 120.5 233.3 126.8 235.0 132.5 232.8 138.4 231.6 144.6 232.7 150.2 229.1 156.5 230.8 162.2 228.6 168.1 227.4 174.3 228.5 179.9 224.9 186.2 226.6 191.9 224.5 197.8 223.2 204.0 224.4M108.9 237.4 115.3 239.4 120.9 236.2 127.0 236.4 133.0 236.2 138.6 233.2 145.0 235.2 150.6 232.0 156.7 232.2 162.7 232.1 168.4 229.1 174.7 231.1 180.3 227.8 186.4 228.1 192.4 227.9 198.1 224.9 204.4 226.9M109.3 239.8 115.5 241.2 121.4 239.5 127.2 237.8 133.4 239.2 139.0 235.6 145.2 237.0 151.1 235.3 156.9 233.6 163.1 235.1 168.7 231.4 174.9 232.8 180.8 231.2 186.6 229.4 192.8 230.9 198.4 227.2 204.7 228.7M109.7 242.8 115.7 242.6 121.8 242.9 127.4 239.6 133.8 241.6 139.4 238.6 145.4 238.4 151.5 238.7 157.1 235.4 163.5 237.4 169.1 234.5 175.1 234.2 181.2 234.5 186.8 231.2 193.2 233.2 198.8 230.3 204.8 230.0M110.2 246.2 115.9 244.0 122.2 245.7 127.8 242.1 134.0 243.2 139.9 242.0 145.6 239.8 151.9 241.6 157.5 237.9 163.7 239.0 169.6 237.9 175.3 235.6 181.6 237.4 187.2 233.8 193.4 234.9 199.3 233.7 205.0 231.5M110.6 249.5 116.2 246.0 122.5 247.9 128.2 245.3 134.2 244.5 140.3 245.3 145.9 241.8 152.2 243.7 157.9 241.1 163.9 240.4 170.1 241.1 175.6 237.6 181.9 239.5 187.6 236.9 193.6 236.2 199.8 237.0 205.3 233.5M111.0 252.2 116.6 248.7 122.7 249.4 128.7 248.7 134.4 246.1 140.7 248.0 146.3 244.5 152.4 245.2 158.4 244.5 164.1 241.9 170.4 243.8 176.0 240.3 182.2 241.0 188.1 240.4 193.8 237.7 200.1 239.6 205.7 236.2M111.3 254.1 117.0 252.0 122.9 250.7 129.1 251.9 134.7 248.2 141.0 249.9 146.8 247.8 152.6 246.5 158.9 247.7 164.4 244.1 170.7 245.8 176.5 243.6 182.3 242.4 188.6 243.5 194.1 239.9 200.4 241.6 206.2 239.5M111.5 255.5 117.5 255.4 123.2 252.4 129.5 254.4 135.1 251.1 141.2 251.4 147.2 251.2 152.9 248.2 159.2 250.2 164.8 247.0 170.9 247.2 176.9 247.0 182.6 244.0 188.9 246.0 194.5 242.8 200.6 243.0 206.6 242.9M111.7 256.9 117.9 258.4 123.5 254.7 129.7 256.1 135.6 254.5 141.4 252.7 147.7 254.2 153.2 250.6 159.5 252.0 165.3 250.3 171.1 248.6 177.4 250.0 182.9 246.4 189.2 247.8 195.0 246.2 200.8 244.4 207.1 245.9M111.9 258.7 118.3 260.7 123.9 257.8 129.9 257.5 136.0 257.9 141.6 254.6 148.0 256.5 153.6 253.6 159.6 253.3 165.8 253.7 171.3 250.4 177.7 252.3 183.3 249.4 189.4 249.2 195.5 249.5 201.1 246.2 207.4 248.2M112.3 261.3 118.5 262.3 124.4 261.2 130.1 259.0 136.4 260.7 142.0 257.1 148.2 258.2 154.1 257.0 159.9 254.8 166.2 256.5 171.7 252.9 177.9 254.0 183.8 252.8 189.6 250.6 195.9 252.3 201.4 248.7 207.6 249.8M112.7 264.5 118.7 263.7 124.9 264.5 130.4 260.9 136.7 262.8 142.4 260.3 148.4 259.5 154.6 260.3 160.1 256.8 166.5 258.6 172.2 256.1 178.1 255.3 184.3 256.1 189.8 252.6 196.2 254.5 201.9 251.9 207.8 251.1M113.2 267.9 118.9 265.2 125.2 267.1 130.8 263.7 137.0 264.3 142.9 263.7 148.6 261.0 154.9 262.9 160.5 259.5 166.7 260.1 172.6 259.5 178.3 256.9 184.6 258.8 190.2 255.3 196.4 256.0 202.3 255.4 208.0 252.7M113.7 271.0 119.2 267.4 125.5 269.1 131.3 267.0 137.1 265.7 143.4 266.8 148.9 263.2 155.2 264.9 161.0 262.8 166.9 261.5 173.1 262.7 178.6 259.0 184.9 260.7 190.7 258.6 196.6 257.3 202.8 258.5 208.3 254.9M114.0 273.5 119.6 270.3 125.7 270.5 131.7 270.4 137.4 267.3 143.7 269.3 149.3 266.1 155.4 266.3 161.5 266.2 167.1 263.2 173.4 265.2 179.0 261.9 185.1 262.1 191.2 262.0 196.8 259.0 203.1 261.0 208.7 257.8M114.3 275.3 120.1 273.7 125.9 271.9 132.2 273.4 137.7 269.7 144.0 271.1 149.8 269.5 155.6 267.7 161.9 269.2 167.4 265.5 173.7 266.9 179.5 265.3 185.3 263.5 191.6 265.0 197.1 261.4 203.4 262.7 209.2 261.1M114.4 276.6 120.6 277.0 126.2 273.7 132.5 275.7 138.1 272.8 144.2 272.5 150.3 272.8 155.9 269.5 162.2 271.5 167.9 268.6 173.9 268.3 180.0 268.7 185.6 265.3 191.9 267.3 197.6 264.4 203.6 264.1 209.7 264.5M114.7 278.1 121.0 279.8 126.5 276.3 132.7 277.3 138.6 276.2 144.4 273.9 150.7 275.7 156.2 272.1 162.4 273.1 168.3 272.0 174.1 269.7 180.4 271.5 185.9 267.9 192.1 268.9 198.0 267.8 203.8 265.6 210.1 267.3M114.9 280.1 121.3 281.9 127.0 279.4 132.9 278.6 139.1 279.4 144.6 275.9 151.0 277.8 156.7 275.3 162.6 274.4 168.8 275.3 174.4 271.7 180.7 273.6 186.4 271.1 192.3 270.3 198.5 271.1 204.1 267.6 210.4 269.4M115.3 282.8 121.5 283.4 127.4 282.9 133.1 280.2 139.5 282.1 145.0 278.7 151.2 279.3 157.2 278.7 162.8 276.0 169.2 277.9 174.7 274.5 180.9 275.1 186.9 274.5 192.5 271.8 198.9 273.7 204.4 270.3 210.6 270.9M115.8 286.1 121.7 284.8 127.9 286.0 133.4 282.4 139.7 284.0 145.5 282.0 151.4 280.6 157.6 281.8 163.1 278.2 169.4 279.8 175.2 277.8 181.1 276.4 187.3 277.6 192.8 274.0 199.1 275.7 204.9 273.6 210.8 272.3M116.3 289.5 121.9 286.5 128.2 288.5 133.8 285.3 139.9 285.4 146.0 285.4 151.6 282.3 157.9 284.3 163.6 281.1 169.6 281.2 175.7 281.2 181.3 278.1 187.6 280.1 193.3 276.9 199.3 277.1 205.4 277.0 211.0 273.9M116.7 292.5 122.2 288.9 128.5 290.2 134.3 288.7 140.1 286.8 146.4 288.3 151.9 284.7 158.2 286.0 164.0 284.5 169.8 282.6 176.1 284.2 181.6 280.5 187.9 281.9 193.7 280.3 199.5 278.5 205.8 280.0 211.4 276.3M117.0 294.8 122.7 291.9 128.7 291.6 134.8 292.0 140.4 288.7 146.7 290.6 152.4 287.8 158.4 287.4 164.5 287.8 170.1 284.5 176.4 286.4 182.1 283.6 188.1 283.2 194.2 283.6 199.8 280.3 206.1 282.3 211.8 279.4" fill="none" stroke="#62acec" stroke-width="0.9" opacity="0.55"/>
<clipPath id="q9"><polygon points="182,200 217,205 255,200 300,190 300,202 280,207 242,220 210,235 182,240"/></clipPath>
<polygon points="182,200 217,205 255,200 300,190 300,202 280,207 242,220 210,235 182,240" fill="#1450b0"/>
<path clip-path="url(#q9)" d="M270.3 243.8 274.2 240.6 278.3 237.7 282.5 235.0 286.8 232.4 291.2 230.0 295.5 227.6 299.9 225.2M269.7 242.4 273.9 239.6 278.1 236.9 282.2 234.2 286.3 231.4 290.4 228.5 294.4 225.5 298.3 222.5 302.4 219.6M269.4 241.4 273.2 238.2 277.0 235.0 280.7 231.7 284.5 228.4 288.3 225.2 292.3 222.1 296.3 219.1 300.6 216.5M264.1 242.2 267.6 238.6 271.1 235.1 274.8 231.6 278.6 228.3 282.5 225.2 286.7 222.4 291.0 219.9 295.4 217.5 299.9 215.3M258.3 242.4 261.8 238.8 265.5 235.4 269.3 232.2 273.4 229.2 277.6 226.5 281.9 223.9 286.3 221.5 290.7 219.2 295.0 216.8 299.4 214.4 303.6 211.9M253.0 243.2 256.7 239.9 260.7 236.8 264.7 233.9 268.9 231.1 273.1 228.4 277.3 225.7 281.5 223.0 285.6 220.2 289.6 217.3 293.6 214.4 297.6 211.4 301.7 208.5M252.5 242.0 256.5 238.9 260.5 236.0 264.5 232.9 268.4 229.9 272.2 226.7 276.0 223.5 279.8 220.2 283.6 217.0 287.5 213.8 291.6 210.9 295.8 208.2 300.1 205.7M252.1 240.7 255.7 237.3 259.3 233.8 262.8 230.3 266.4 226.8 270.0 223.3 273.8 220.0 277.7 216.9 281.8 214.1 286.1 211.5 290.5 209.1 295.0 206.9 299.6 204.9M246.9 241.6 250.1 237.8 253.5 234.1 257.0 230.5 260.6 227.0 264.4 223.8 268.5 220.8 272.6 218.0 277.0 215.5 281.4 213.1 285.8 210.7 290.2 208.4 294.6 206.0 298.9 203.6 303.1 201.0M241.2 242.0 244.5 238.3 248.0 234.7 251.7 231.4 255.7 228.3 259.8 225.4 263.9 222.6 268.2 219.9 272.4 217.3 276.6 214.6 280.8 211.9 284.8 209.1 288.9 206.1 292.9 203.2 297.0 200.3 301.2 197.5M236.1 243.1 239.7 239.7 243.5 236.4 247.5 233.3 251.5 230.4 255.5 227.4 259.5 224.5 263.5 221.5 267.4 218.4 271.2 215.2 275.0 212.0 278.9 208.8 282.8 205.6 286.8 202.7 291.0 199.9 295.3 197.3 299.8 195.1M235.8 241.9 239.6 238.7 243.4 235.5 247.1 232.2 250.8 228.9 254.4 225.5 258.0 222.0 261.6 218.5 265.3 215.1 269.0 211.8 272.9 208.6 277.0 205.7 281.3 203.1 285.7 200.7 290.2 198.5 294.7 196.4 299.3 194.4 303.9 192.5M235.2 240.5 238.6 236.9 242.0 233.2 245.3 229.4 248.7 225.7 252.1 222.1 255.8 218.7 259.6 215.4 263.6 212.4 267.7 209.6 272.1 207.0 276.5 204.6 280.9 202.3 285.3 200.0 289.7 197.7 294.1 195.3 298.4 192.8 302.6 190.2M230.0 241.4 233.1 237.5 236.2 233.6 239.6 229.8 243.1 226.3 246.8 222.9 250.7 219.8 254.8 216.8 259.0 214.1 263.2 211.4 267.5 208.8 271.8 206.2 275.9 203.6 280.1 200.8 284.1 197.9 288.2 195.0 292.3 192.1 296.4 189.3 300.7 186.6M224.4 242.1 227.6 238.2 231.0 234.5 234.6 231.1 238.4 227.8 242.4 224.7 246.5 221.8 250.5 218.9 254.6 216.0 258.6 213.1 262.6 210.1 266.4 206.9 270.3 203.8 274.1 200.6 278.1 197.4 282.1 194.4 286.2 191.6 290.5 189.0 294.9 186.7M219.5 243.4 223.1 239.9 226.8 236.5 230.6 233.2 234.5 230.1 238.3 226.9 242.2 223.7 245.9 220.5 249.6 217.1 253.2 213.7 256.8 210.3 260.5 206.8 264.3 203.5 268.2 200.4 272.2 197.4 276.4 194.7 280.8 192.2 285.3 190.0 289.9 187.9M219.4 242.2 223.0 238.8 226.6 235.4 230.2 231.9 233.7 228.4 237.1 224.7 240.4 221.1 243.8 217.4 247.3 213.8 251.0 210.3 254.7 207.0 258.7 204.0 262.9 201.2 267.2 198.6 271.6 196.1 276.0 193.8 280.5 191.6 284.9 189.3 289.3 187.0M218.7 240.6 221.9 236.8 225.0 232.9 228.1 229.0 231.3 225.2 234.7 221.4 238.2 217.8 241.9 214.4 245.8 211.3 249.8 208.3 254.0 205.6 258.3 203.0 262.6 200.4 266.9 197.8 271.1 195.2 275.3 192.5 279.4 189.7 283.5 186.8M213.4 241.6 216.3 237.5 219.4 233.5 222.6 229.7 226.0 226.0 229.6 222.5 233.4 219.2 237.4 216.2 241.4 213.2 245.5 210.4 249.7 207.5 253.7 204.7 257.7 201.7 261.6 198.7 265.5 195.5 269.4 192.4 273.3 189.3 277.3 186.2M208.0 242.4 211.1 238.5 214.4 234.7 217.9 231.2 221.6 227.8 225.5 224.6 229.4 221.4 233.3 218.3 237.2 215.2 241.0 212.0 244.7 208.8 248.4 205.4 252.1 202.0 255.8 198.6 259.5 195.3 263.4 192.1 267.4 189.1 271.6 186.4M206.8 240.4 210.4 236.9 214.1 233.5 217.8 230.1 221.5 226.8 225.1 223.4 228.7 219.9 232.2 216.3 235.6 212.7 239.0 209.1 242.5 205.5 246.2 202.0 249.9 198.7 253.9 195.6 258.0 192.8 262.3 190.1 266.7 187.7M203.3 242.9 206.8 239.3 210.2 235.7 213.6 232.0 216.8 228.3 220.0 224.4 223.2 220.6 226.5 216.7 229.8 213.0 233.3 209.4 237.0 206.0 240.8 202.8 244.9 199.9 249.1 197.1 253.4 194.5 257.7 191.9 262.0 189.4 266.3 186.9M202.4 241.1 205.4 237.1 208.4 233.0 211.3 229.0 214.4 225.0 217.6 221.1 221.0 217.4 224.6 214.0 228.4 210.7 232.3 207.6 236.4 204.7 240.6 201.8 244.7 199.1 248.8 196.2 252.9 193.4 256.9 190.4 260.8 187.3M197.2 242.1 199.9 237.9 202.8 233.8 205.9 229.8 209.2 226.1 212.8 222.5 216.5 219.1 220.3 215.9 224.3 212.8 228.2 209.8 232.2 206.7 236.1 203.6 239.9 200.4 243.6 197.1 247.3 193.7 251.0 190.4 254.8 187.1M191.9 243.1 194.9 239.1 198.1 235.3 201.5 231.6 205.2 228.1 208.9 224.8 212.6 221.5 216.4 218.2 220.1 214.8 223.7 211.4 227.3 207.9 230.8 204.4 234.2 200.8 237.8 197.2 241.4 193.7 245.1 190.4 249.0 187.2M190.9 241.2 194.4 237.6 198.0 234.0 201.5 230.5 205.0 227.0 208.5 223.4 211.8 219.7 215.1 216.0 218.3 212.2 221.6 208.4 224.9 204.6 228.4 201.0 232.1 197.6 235.9 194.4 240.0 191.4 244.1 188.6M187.6 243.7 190.9 240.0 194.1 236.2 197.2 232.4 200.3 228.4 203.3 224.5 206.3 220.5 209.4 216.5 212.6 212.6 216.0 208.9 219.6 205.4 223.4 202.1 227.3 199.0 231.4 196.1 235.6 193.3 239.8 190.6 243.9 187.8M186.5 241.7 189.3 237.6 192.0 233.4 194.8 229.3 197.8 225.2 200.9 221.2 204.2 217.4 207.7 213.9 211.4 210.5 215.2 207.3 219.2 204.2 223.2 201.2 227.2 198.2 231.1 195.1 235.0 192.0 238.8 188.8M181.2 242.8 183.9 238.5 186.7 234.4 189.7 230.3 192.9 226.5 196.3 222.9 199.9 219.4 203.7 216.0 207.5 212.8 211.3 209.5 215.1 206.3 218.8 202.9 222.4 199.5 225.9 196.0 229.4 192.5 233.0 188.9M179.0 240.0 182.2 236.1 185.5 232.3 189.0 228.7 192.6 225.2 196.3 221.8 199.8 218.3 203.4 214.8 206.8 211.2 210.1 207.5 213.4 203.7 216.7 200.0 220.1 196.3 223.6 192.6 227.2 189.2M178.7 238.5 182.1 234.8 185.5 231.2 188.8 227.5 192.1 223.7 195.2 219.8 198.3 215.9 201.4 212.0 204.5 208.0 207.7 204.2 211.1 200.5 214.7 196.9 218.4 193.6 222.3 190.5 226.4 187.6M178.3 237.0 181.2 233.0 184.1 228.9 186.9 224.8 189.8 220.7 192.7 216.6 195.8 212.6 199.1 208.9 202.6 205.3 206.3 201.9 210.2 198.7 214.1 195.6 218.2 192.6 222.2 189.7 226.2 186.7M178.7 229.8 181.5 225.7 184.5 221.6 187.7 217.8 191.1 214.1 194.7 210.6 198.5 207.3 202.3 204.1 206.2 200.9 210.0 197.7 213.8 194.4 217.5 191.1 221.1 187.7M180.2 223.5 183.7 219.9 187.3 216.4 191.0 213.0 194.7 209.6 198.3 206.2 201.8 202.6 205.2 199.0 208.5 195.3 211.9 191.6 215.3 187.9M180.2 222.4 183.6 218.7 186.9 215.0 190.1 211.2 193.3 207.4 196.4 203.5 199.6 199.6 202.8 195.7 206.2 192.0 209.7 188.5M178.9 220.2 181.8 216.2 184.7 212.1 187.7 208.0 190.8 204.1 194.1 200.3 197.6 196.7 201.2 193.3 205.1 190.1 209.1 187.0M179.3 213.0 182.5 209.1 185.9 205.4 189.6 201.9 193.3 198.6 197.2 195.4 201.1 192.3 205.0 189.1M178.4 211.1 182.1 207.7 185.8 204.3 189.5 200.9 193.2 197.6 196.7 194.1 200.2 190.6 203.7 186.9M178.3 210.0 181.7 206.4 185.1 202.7 188.3 198.9 191.5 195.0 194.7 191.1 197.9 187.3M179.7 203.5 182.7 199.5 185.8 195.6 189.1 191.8 192.6 188.1M180.8 196.8 184.4 193.3 188.2 190.0 192.1 186.8M180.6 195.6 184.3 192.3 188.1 189.0" fill="none" stroke="#44ccee" stroke-width="1.15" opacity="1.0"/>
<clipPath id="q10"><polygon points="182,240 210,235 242,220 280,207 300,202 300,217 267,237 250,257 230,276 178,276"/></clipPath>
<polygon points="182,240 210,235 242,220 280,207 300,202 300,217 267,237 250,257 230,276 178,276" fill="#134eae"/>
<path clip-path="url(#q10)" d="M280.9 278.0 284.0 274.2 287.2 270.4 290.3 266.5 293.5 262.7 296.8 258.9 300.3 255.3 303.9 251.8M275.9 279.3 278.8 275.2 281.8 271.2 284.9 267.3 288.2 263.5 291.7 259.9 295.4 256.6 299.3 253.4 303.2 250.3M273.6 276.3 276.8 272.4 280.1 268.7 283.7 265.2 287.4 261.8 291.2 258.6 295.1 255.4 298.9 252.3 302.8 249.1M269.2 278.1 272.7 274.4 276.2 270.9 279.8 267.4 283.5 264.0 287.1 260.6 290.6 257.1 294.1 253.6 297.6 250.0 301.0 246.4M269.0 276.7 272.4 273.1 275.7 269.4 278.9 265.6 282.2 261.8 285.4 258.0 288.6 254.2 291.9 250.5 295.4 246.8 299.0 243.4 302.8 240.1M264.8 278.6 267.8 274.6 270.7 270.6 273.7 266.6 276.7 262.6 279.9 258.7 283.2 255.0 286.7 251.4 290.4 248.0 294.2 244.8 298.2 241.8 302.3 238.8M259.8 279.9 262.6 275.7 265.4 271.6 268.4 267.6 271.6 263.7 275.0 260.0 278.6 256.5 282.3 253.2 286.1 250.0 290.0 246.8 293.9 243.7 297.8 240.6 301.6 237.4M257.6 277.0 260.6 273.0 263.9 269.3 267.4 265.6 271.0 262.1 274.6 258.7 278.3 255.3 282.0 252.0 285.6 248.6 289.2 245.1 292.7 241.6 296.2 238.1 299.8 234.5 303.4 231.1M253.5 279.0 256.8 275.2 260.2 271.6 263.7 267.9 267.1 264.3 270.5 260.7 273.9 257.0 277.2 253.3 280.4 249.5 283.7 245.8 287.1 242.1 290.5 238.4 294.1 235.0 297.9 231.7 301.9 228.6M253.2 277.6 256.4 273.8 259.5 269.9 262.6 266.0 265.6 262.0 268.7 258.0 271.7 254.1 274.9 250.2 278.2 246.5 281.7 242.9 285.4 239.5 289.3 236.3 293.2 233.2 297.3 230.3 301.5 227.5M249.1 279.5 251.8 275.3 254.6 271.2 257.4 267.0 260.3 262.9 263.3 258.9 266.5 255.1 269.9 251.4 273.5 247.9 277.2 244.6 281.1 241.4 285.0 238.2 288.9 235.2 292.9 232.1 296.7 229.0 300.6 225.8M246.7 276.5 249.4 272.3 252.3 268.2 255.4 264.3 258.7 260.5 262.1 256.9 265.7 253.4 269.4 250.0 273.2 246.7 276.9 243.4 280.6 240.0 284.2 236.7 287.8 233.2 291.4 229.7 295.0 226.2 298.6 222.8 302.3 219.4M241.9 278.0 244.9 274.0 248.0 270.1 251.4 266.3 254.8 262.7 258.4 259.2 261.9 255.6 265.4 252.1 268.8 248.5 272.2 244.8 275.5 241.1 278.8 237.4 282.2 233.7 285.7 230.1 289.3 226.6 293.0 223.3 297.0 220.2 301.1 217.3M241.2 276.3 244.5 272.5 247.8 268.7 251.1 265.0 254.3 261.2 257.4 257.3 260.5 253.4 263.6 249.5 266.7 245.6 269.9 241.7 273.3 238.0 276.8 234.4 280.4 231.0 284.3 227.7 288.3 224.7 292.4 221.8 296.5 219.0 300.7 216.3M237.8 278.7 240.8 274.7 243.7 270.7 246.6 266.6 249.4 262.5 252.3 258.4 255.2 254.3 258.2 250.3 261.4 246.5 264.8 242.8 268.4 239.3 272.1 235.9 276.0 232.8 280.0 229.7 283.9 226.7 287.9 223.6 291.9 220.6 295.7 217.5 299.6 214.3 303.4 211.1M236.2 276.3 238.8 272.0 241.4 267.7 244.2 263.5 247.1 259.5 250.1 255.5 253.4 251.7 256.9 248.1 260.5 244.7 264.3 241.3 268.1 238.1 271.8 234.8 275.6 231.5 279.3 228.2 282.9 224.8 286.5 221.4 290.2 217.9 293.8 214.5 297.5 211.1 301.4 207.9M231.1 277.6 233.7 273.3 236.5 269.1 239.5 265.1 242.7 261.2 246.0 257.5 249.5 253.9 253.1 250.4 256.7 246.9 260.2 243.4 263.7 239.9 267.2 236.3 270.6 232.6 273.9 229.0 277.4 225.3 280.8 221.7 284.4 218.2 288.2 214.9 292.1 211.8 296.2 208.8 300.4 206.1M226.5 279.2 229.4 275.1 232.5 271.1 235.7 267.3 239.0 263.6 242.4 259.9 245.8 256.2 249.1 252.4 252.3 248.7 255.5 244.8 258.6 241.0 261.8 237.1 265.0 233.2 268.4 229.5 271.8 225.9 275.5 222.5 279.3 219.2 283.3 216.2 287.4 213.3 291.6 210.5 295.8 207.8 300.0 205.1M226.0 277.5 229.1 273.6 232.3 269.7 235.3 265.8 238.4 261.9 241.3 257.9 244.2 253.8 247.2 249.8 250.1 245.7 253.2 241.7 256.4 237.9 259.8 234.2 263.3 230.7 267.1 227.3 271.0 224.2 274.9 221.1 278.9 218.1 283.0 215.2 287.0 212.2 290.9 209.1 294.8 206.0 298.6 202.8 302.5 199.7M222.6 279.9 225.4 275.8 228.1 271.7 230.8 267.5 233.5 263.2 236.2 259.0 239.0 254.8 241.9 250.8 245.0 246.8 248.3 243.0 251.7 239.4 255.4 236.0 259.1 232.7 263.0 229.4 266.8 226.2 270.6 223.0 274.4 219.7 278.1 216.4 281.7 213.0 285.4 209.6 289.0 206.2 292.8 202.9 296.6 199.6M220.8 277.4 223.2 273.0 225.7 268.7 228.3 264.4 231.1 260.3 234.1 256.2 237.3 252.4 240.7 248.7 244.2 245.1 247.8 241.6 251.5 238.2 255.1 234.8 258.7 231.3 262.2 227.8 265.6 224.2 269.1 220.6 272.5 216.9 276.0 213.3 279.6 209.9 283.3 206.5 287.2 203.4 291.3 200.4M215.8 278.8 218.3 274.4 221.0 270.2 223.9 266.1 227.0 262.2 230.2 258.4 233.6 254.7 237.0 251.0 240.5 247.4 243.8 243.7 247.2 240.0 250.4 236.3 253.6 232.4 256.8 228.6 260.1 224.8 263.4 221.1 266.9 217.5 270.6 214.0 274.4 210.8 278.4 207.7 282.4 204.8 286.6 202.1 290.9 199.4M214.2 276.4 217.2 272.4 220.3 268.5 223.5 264.6 226.8 260.8 229.9 257.0 233.0 253.1 236.1 249.1 239.1 245.2 242.1 241.1 245.1 237.1 248.2 233.2 251.4 229.3 254.8 225.6 258.3 222.1 262.0 218.8 265.9 215.6 269.9 212.6 274.0 209.6 278.0 206.7 282.0 203.7 286.0 200.8M211.0 278.9 214.0 274.9 216.9 270.9 219.9 266.9 222.7 262.8 225.5 258.6 228.2 254.5 231.0 250.3 233.8 246.1 236.7 242.1 239.8 238.1 243.1 234.4 246.6 230.8 250.2 227.3 254.0 224.0 257.9 220.8 261.7 217.6 265.6 214.5 269.4 211.3 273.2 208.0 276.9 204.7 280.6 201.3M210.2 277.1 212.8 272.8 215.3 268.5 217.8 264.2 220.4 259.9 223.0 255.6 225.8 251.5 228.8 247.5 232.0 243.6 235.4 239.9 239.0 236.3 242.6 232.9 246.3 229.5 250.0 226.1 253.6 222.7 257.2 219.3 260.7 215.7 264.2 212.2 267.7 208.6 271.2 205.0 274.8 201.5 278.5 198.2M205.6 278.7 207.9 274.2 210.3 269.8 212.8 265.5 215.5 261.3 218.4 257.2 221.5 253.3 224.8 249.5 228.2 245.8 231.7 242.2 235.2 238.6 238.6 235.0 242.0 231.4 245.4 227.7 248.6 223.9 251.9 220.1 255.2 216.4 258.6 212.6 262.0 209.0 265.7 205.6 269.5 202.3 273.4 199.2M203.1 275.8 205.7 271.5 208.6 267.4 211.6 263.4 214.8 259.5 218.0 255.7 221.3 251.9 224.5 248.1 227.8 244.3 230.9 240.4 234.0 236.5 237.0 232.6 240.1 228.6 243.2 224.7 246.4 220.8 249.8 217.1 253.3 213.6 257.0 210.2 260.9 207.0 264.9 204.0 269.0 201.1 273.1 198.2M199.3 277.9 202.2 273.8 205.2 269.8 208.3 265.9 211.3 261.9 214.4 258.0 217.3 253.9 220.2 249.9 223.0 245.7 225.8 241.6 228.7 237.5 231.6 233.4 234.7 229.5 238.0 225.7 241.5 222.1 245.1 218.7 248.9 215.4 252.8 212.2 256.7 209.1 260.6 206.0 264.5 202.8 268.3 199.6M199.1 276.4 201.9 272.3 204.6 268.1 207.3 263.9 209.9 259.6 212.4 255.3 215.1 251.1 217.8 246.8 220.6 242.7 223.6 238.7 226.8 234.8 230.2 231.1 233.7 227.6 237.4 224.2 241.1 220.8 244.9 217.5 248.6 214.2 252.2 210.8 255.8 207.3 259.3 203.8 262.8 200.2M195.3 278.5 197.7 274.1 200.0 269.7 202.4 265.3 204.8 260.9 207.4 256.6 210.1 252.4 213.0 248.3 216.1 244.4 219.4 240.6 222.9 237.0 226.4 233.4 229.9 229.9 233.5 226.3 236.9 222.8 240.3 219.1 243.7 215.4 247.0 211.7 250.3 207.9 253.7 204.2 257.2 200.6M192.8 275.6 195.1 271.2 197.5 266.8 200.1 262.5 203.0 258.4 206.0 254.4 209.2 250.5 212.5 246.7 215.9 243.0 219.2 239.3 222.5 235.6 225.7 231.8 228.9 227.9 232.0 224.0 235.1 220.1 238.2 216.2 241.4 212.3 244.8 208.6 248.3 205.1 252.1 201.7 255.9 198.5M188.2 277.3 190.8 273.0 193.5 268.8 196.5 264.7 199.5 260.8 202.6 256.9 205.8 253.0 208.9 249.1 211.9 245.1 214.9 241.1 217.8 237.0 220.7 232.9 223.6 228.9 226.5 224.8 229.7 220.9 232.9 217.1 236.4 213.5 240.0 210.0 243.8 206.7 247.7 203.6 251.7 200.5M184.6 279.6 187.4 275.4 190.3 271.3 193.3 267.3 196.2 263.2 199.0 259.1 201.8 255.0 204.5 250.8 207.1 246.5 209.8 242.3 212.5 238.1 215.4 234.0 218.4 230.0 221.6 226.1 225.0 222.4 228.5 218.9 232.2 215.5 236.0 212.2 239.8 208.9 243.5 205.6 247.2 202.3 250.9 198.9M184.4 278.0 187.0 273.7 189.6 269.5 192.1 265.1 194.5 260.8 196.9 256.4 199.4 252.0 202.0 247.7 204.7 243.6 207.7 239.5 210.8 235.6 214.1 231.8 217.5 228.2 221.1 224.6 224.7 221.1 228.3 217.7 231.8 214.1 235.3 210.6 238.7 206.9 242.1 203.3 245.4 199.5M182.8 275.6 184.9 271.1 187.2 266.6 189.5 262.2 192.0 257.8 194.6 253.5 197.5 249.4 200.5 245.4 203.7 241.6 207.1 237.8 210.4 234.2 213.9 230.5 217.2 226.8 220.5 223.1 223.7 219.3 226.9 215.4 230.1 211.5 233.2 207.7 236.5 203.8 239.9 200.1M177.9 277.1 180.1 272.6 182.5 268.2 185.0 263.9 187.8 259.7 190.8 255.7 193.9 251.7 197.1 247.9 200.3 244.0 203.4 240.2 206.6 236.3 209.6 232.3 212.6 228.3 215.5 224.3 218.5 220.3 221.5 216.3 224.6 212.3 227.9 208.5 231.4 204.9 235.0 201.4 238.8 198.1M176.0 274.6 178.7 270.4 181.6 266.2 184.5 262.2 187.5 258.2 190.5 254.2 193.5 250.2 196.3 246.1 199.1 242.0 201.8 237.8 204.6 233.6 207.3 229.4 210.2 225.3 213.2 221.3 216.4 217.4 219.8 213.7 223.4 210.2 227.1 206.8 230.8 203.5 234.7 200.2M175.7 272.9 178.5 268.8 181.2 264.6 183.9 260.4 186.5 256.2 189.0 251.9 191.5 247.5 194.0 243.2 196.7 238.9 199.4 234.7 202.3 230.7 205.5 226.8 208.8 223.0 212.3 219.4 215.8 215.9 219.5 212.4 223.1 209.0 226.7 205.5 230.3 202.0 233.7 198.4M174.7 271.0 177.0 266.5 179.3 262.1 181.6 257.6 184.0 253.2 186.5 248.9 189.1 244.6 192.0 240.5 195.0 236.5 198.3 232.7 201.6 229.0 205.1 225.3 208.5 221.7 212.0 218.1 215.4 214.4 218.7 210.7 221.9 206.9 225.1 203.0 228.3 199.2M174.4 263.6 176.8 259.1 179.4 254.8 182.2 250.7 185.1 246.6 188.3 242.7 191.5 238.9 194.8 235.1 198.0 231.3 201.2 227.5 204.4 223.6 207.4 219.7 210.4 215.7 213.4 211.7 216.5 207.7 219.6 203.8 222.9 200.0M175.7 257.1 178.8 253.1 181.8 249.1 184.9 245.2 187.9 241.2 190.9 237.2 193.8 233.1 196.6 229.0 199.4 224.9 202.2 220.7 205.1 216.6 208.1 212.6 211.3 208.8 214.7 205.0 218.2 201.5 221.9 198.1M175.5 255.6 178.2 251.4 180.9 247.2 183.6 243.0 186.1 238.7 188.7 234.4 191.4 230.1 194.2 226.0 197.1 221.9 200.2 218.0 203.5 214.2 207.0 210.6 210.6 207.1 214.3 203.7 218.0 200.3M176.1 248.7 178.5 244.3 181.0 240.0 183.7 235.7 186.6 231.6 189.6 227.6 192.9 223.8 196.2 220.1 199.7 216.5 203.2 212.9 206.7 209.3 210.2 205.7 213.6 202.1 216.9 198.3M176.6 241.7 179.6 237.7 182.7 233.7 186.0 229.9 189.3 226.2 192.6 222.5 195.9 218.7 199.1 214.9 202.3 211.0 205.3 207.1 208.4 203.1 211.5 199.2M176.2 240.1 179.3 236.2 182.4 232.3 185.5 228.4 188.4 224.3 191.3 220.3 194.2 216.2 197.1 212.1 200.0 208.0 203.0 204.0 206.2 200.1M175.4 238.3 178.1 234.1 180.8 229.9 183.4 225.6 186.1 221.4 188.9 217.2 191.9 213.2 195.0 209.2 198.3 205.5 201.8 201.9 205.4 198.4" fill="none" stroke="#42c8ee" stroke-width="1.15" opacity="1.0"/>
<clipPath id="q11"><polygon points="230,276 250,257 267,237 300,217 300,240 262,276"/></clipPath>
<polygon points="230,276 250,257 267,237 300,217 300,240 262,276" fill="#0f449f"/>
<path clip-path="url(#q11)" d="M299.4 278.8 302.8 275.1M298.8 277.2 302.2 273.6M296.6 276.8 299.7 272.9 303.0 269.2M291.9 278.3 294.8 274.2 297.9 270.3 301.2 266.5M287.1 279.7 290.0 275.7 293.2 271.8 296.6 268.1 300.1 264.5 303.8 261.1M285.8 277.5 289.0 273.7 292.4 270.1 295.9 266.5 299.5 263.0 303.1 259.6M282.0 279.7 285.2 275.9 288.4 272.1 291.7 268.4 295.0 264.6 298.3 260.9 301.7 257.3M281.1 277.9 284.0 273.8 287.0 269.9 290.1 265.9 293.2 262.0 296.5 258.3 300.0 254.7 303.6 251.2M276.6 279.5 279.3 275.3 282.2 271.2 285.2 267.2 288.3 263.4 291.7 259.7 295.3 256.1 299.0 252.8 302.8 249.6M274.7 276.9 277.6 272.8 280.7 268.9 284.0 265.2 287.4 261.5 291.0 258.0 294.6 254.6 298.3 251.3 302.0 248.0M270.7 278.9 273.7 274.9 276.8 271.1 280.1 267.3 283.4 263.6 286.8 259.9 290.2 256.3 293.6 252.7 297.1 249.2 300.6 245.6M268.8 278.8 271.8 274.8 274.8 270.8 277.9 266.9 281.0 263.0 284.1 259.1 287.3 255.3 290.6 251.5 294.0 247.8 297.6 244.3 301.3 241.0M267.7 276.8 270.5 272.6 273.3 268.5 276.2 264.4 279.2 260.4 282.3 256.5 285.6 252.7 289.1 249.1 292.8 245.7 296.6 242.4 300.5 239.3M263.3 278.5 265.8 274.2 268.5 270.0 271.4 265.9 274.5 261.9 277.7 258.1 281.2 254.4 284.7 250.9 288.4 247.5 292.2 244.2 296.0 241.0 299.8 237.8 303.6 234.6M261.4 275.9 264.2 271.8 267.2 267.8 270.4 263.9 273.7 260.1 277.1 256.5 280.6 252.9 284.1 249.3 287.6 245.8 291.1 242.3 294.7 238.9 298.3 235.4 302.0 232.1M257.6 278.1 260.5 274.0 263.5 270.0 266.6 266.1 269.8 262.2 273.0 258.4 276.2 254.6 279.4 250.8 282.6 247.1 286.0 243.3 289.4 239.7 293.0 236.2 296.7 232.9 300.6 229.7M257.0 276.3 259.8 272.2 262.6 268.1 265.5 264.0 268.4 260.0 271.3 256.0 274.4 252.0 277.6 248.2 280.9 244.4 284.4 240.9 288.0 237.4 291.8 234.2 295.8 231.1 299.8 228.1 303.9 225.3M253.1 278.4 255.6 274.1 258.1 269.8 260.8 265.6 263.6 261.4 266.5 257.4 269.6 253.4 272.9 249.6 276.3 246.0 279.9 242.5 283.6 239.2 287.4 235.9 291.2 232.8 295.1 229.6 299.0 226.6 302.9 223.5M251.1 275.7 253.6 271.4 256.2 267.2 259.1 263.1 262.1 259.1 265.3 255.3 268.7 251.6 272.1 248.0 275.7 244.5 279.2 241.0 282.9 237.6 286.5 234.2 290.1 230.8 293.8 227.4 297.5 224.1 301.3 220.9M246.8 277.6 249.4 273.3 252.2 269.2 255.2 265.2 258.3 261.3 261.5 257.4 264.7 253.7 268.0 249.9 271.3 246.2 274.6 242.5 278.0 238.9 281.4 235.2 284.9 231.6 288.4 228.2 292.1 224.8 296.0 221.6 299.9 218.6M244.7 277.4 247.5 273.2 250.4 269.1 253.3 265.1 256.3 261.1 259.3 257.1 262.3 253.1 265.4 249.2 268.5 245.2 271.6 241.4 274.9 237.6 278.4 234.0 282.0 230.5 285.7 227.1 289.6 224.0 293.6 221.0 297.7 218.1 301.9 215.3M241.4 279.8 244.0 275.5 246.7 271.3 249.3 267.1 252.0 262.9 254.7 258.7 257.5 254.6 260.5 250.5 263.5 246.5 266.7 242.7 270.1 239.0 273.7 235.4 277.4 232.0 281.2 228.8 285.0 225.6 289.0 222.6 293.0 219.5 296.9 216.5 300.9 213.6M240.1 277.6 242.4 273.2 244.9 268.8 247.4 264.5 250.0 260.2 252.9 256.1 255.9 252.1 259.0 248.2 262.4 244.5 265.8 240.8 269.4 237.3 273.0 233.9 276.7 230.6 280.4 227.2 284.2 223.9 287.9 220.6 291.7 217.3 295.5 214.1M235.8 279.4 238.0 274.9 240.4 270.5 243.0 266.3 245.8 262.1 248.7 258.0 251.8 254.1 255.1 250.3 258.4 246.6 261.8 242.9 265.2 239.3 268.6 235.6 272.0 232.0 275.5 228.4 279.0 224.9 282.6 221.4 286.2 218.0 290.0 214.7M234.0 276.9 236.5 272.6 239.2 268.4 242.1 264.3 245.1 260.3 248.1 256.3 251.2 252.4 254.3 248.5 257.4 244.7 260.6 240.8 263.7 237.0 267.0 233.2 270.3 229.4 273.7 225.8 277.3 222.3 281.1 219.0 284.9 215.8M230.5 279.2 233.1 275.0 235.8 270.8 238.6 266.6 241.4 262.5 244.1 258.4 247.0 254.3 249.8 250.2 252.7 246.1 255.7 242.1 258.7 238.2 262.0 234.3 265.3 230.6 268.9 227.1 272.6 223.7 276.4 220.5 280.3 217.4 284.3 214.4M229.8 277.4 232.2 273.0 234.7 268.7 237.2 264.4 239.7 260.1 242.3 255.8 245.0 251.7 247.9 247.5 250.9 243.6 254.1 239.7 257.4 236.0 260.9 232.4 264.5 228.9 268.2 225.6 272.0 222.3 275.7 219.0 279.5 215.8M228.1 275.0 230.4 270.5 232.7 266.1 235.2 261.8 237.8 257.5 240.6 253.4 243.6 249.3 246.7 245.5 250.0 241.7 253.4 238.0 256.8 234.4 260.3 230.9 263.8 227.3 267.3 223.8 270.9 220.3 274.4 216.8 278.0 213.4M226.1 272.4 228.5 268.0 231.0 263.7 233.8 259.5 236.7 255.5 239.8 251.5 242.9 247.6 246.1 243.8 249.3 240.0 252.5 236.2 255.8 232.5 259.0 228.7 262.3 225.0 265.7 221.3 269.1 217.7 272.7 214.2M226.4 267.7 229.1 263.6 232.0 259.4 234.9 255.4 237.8 251.3 240.8 247.3 243.7 243.3 246.7 239.3 249.7 235.3 252.8 231.3 256.0 227.5 259.3 223.8 262.8 220.1 266.4 216.7 270.2 213.4M228.3 261.6 230.9 257.4 233.6 253.2 236.2 249.0 239.0 244.8 241.8 240.7 244.8 236.6 247.9 232.7 251.2 228.9 254.7 225.3 258.3 221.8 262.0 218.4 265.8 215.2M226.5 259.1 229.0 254.8 231.6 250.5 234.4 246.4 237.3 242.3 240.4 238.4 243.6 234.6 247.0 230.9 250.5 227.3 254.1 223.8 257.7 220.3 261.3 216.9 264.9 213.4M227.3 252.4 230.2 248.3 233.3 244.4 236.5 240.5 239.7 236.7 243.0 233.0 246.4 229.2 249.7 225.6 253.1 221.9 256.4 218.2 259.8 214.5M226.6 250.6 229.6 246.6 232.7 242.7 235.7 238.7 238.8 234.8 241.8 230.9 244.9 226.9 248.1 223.1 251.3 219.2 254.6 215.5M228.5 244.5 231.3 240.4 234.1 236.3 237.0 232.2 240.0 228.2 243.1 224.3 246.4 220.6 249.9 216.9 253.4 213.4M226.5 241.9 229.3 237.8 232.3 233.7 235.4 229.8 238.7 226.0 242.1 222.4 245.6 218.8 249.2 215.4M228.1 235.7 231.3 231.8 234.7 228.1 238.0 224.4 241.4 220.8 244.9 217.2 248.3 213.6M227.5 234.0 230.7 230.2 233.8 226.3 237.0 222.5 240.2 218.6 243.4 214.8M228.1 229.4 231.0 225.4 234.0 221.4 237.1 217.5 240.4 213.7M226.2 226.8 229.2 222.8 232.4 219.0 235.8 215.3M228.3 221.0 231.7 217.3 235.2 213.7M227.6 219.3 230.9 215.5M226.2 217.0 229.3 213.1" fill="none" stroke="#38c0ea" stroke-width="1.0" opacity="0.95"/>
<clipPath id="q12"><polygon points="262,276 300,240 300,276"/></clipPath>
<polygon points="262,276 300,240 300,276" fill="#0d47a8"/>
<path clip-path="url(#q12)" d="M300.0 277.0 303.8 273.8M293.9 276.8 297.5 273.2 301.4 270.0M286.0 279.6 289.5 275.9 293.4 272.7 297.6 270.0 302.1 267.7M285.3 277.9 289.2 274.9 293.4 272.1 297.6 269.5 301.8 267.1M285.3 277.1 288.9 273.7 292.5 270.5 296.2 267.2 300.0 264.1M280.4 278.2 283.4 274.3 286.5 270.4 290.0 266.7 293.7 263.3 297.8 260.3 302.2 257.8M274.6 278.8 277.5 274.6 280.7 270.7 284.3 267.1 288.3 264.0 292.6 261.3 297.1 259.0 301.8 257.1M269.4 280.0 272.6 276.0 276.1 272.3 280.0 269.1 284.0 266.1 288.3 263.4 292.5 260.9 296.8 258.5 301.1 256.1M269.1 278.5 272.7 275.0 276.3 271.5 280.0 268.3 283.7 265.0 287.4 261.8 291.2 258.6 295.0 255.4 299.1 252.4 303.3 249.7M267.2 279.5 270.2 275.6 273.1 271.7 276.1 267.9 279.3 264.0 282.6 260.3 286.2 256.8 290.1 253.6 294.3 250.8 298.7 248.4 303.4 246.5M265.0 276.7 267.4 272.4 270.2 268.2 273.3 264.2 276.8 260.5 280.6 257.2 284.7 254.3 289.1 251.8 293.6 249.7 298.3 247.9 303.0 246.3M259.4 277.6 262.0 273.3 265.0 269.3 268.4 265.6 272.2 262.2 276.2 259.2 280.4 256.4 284.7 253.8 289.0 251.4 293.2 249.0 297.5 246.6 301.8 244.3M258.0 275.4 261.3 271.6 264.9 268.1 268.6 264.7 272.3 261.5 276.1 258.3 279.9 255.1 283.6 252.0 287.4 248.8 291.3 245.7 295.4 242.8 299.7 240.2M258.3 274.3 261.4 270.5 264.5 266.7 267.6 262.9 270.8 259.1 274.0 255.3 277.5 251.6 281.1 248.1 285.0 244.9 289.3 242.1 293.7 239.7 298.4 237.8 303.2 236.3M259.2 267.6 261.9 263.4 264.8 259.3 268.0 255.3 271.6 251.7 275.5 248.5 279.6 245.6 284.1 243.2 288.7 241.1 293.3 239.2 298.0 237.6M259.5 260.3 263.1 256.6 266.9 253.4 271.0 250.4 275.3 247.7 279.6 245.2 283.9 242.7 288.2 240.4 292.5 237.9M260.8 257.8 264.6 254.6 268.5 251.5 272.3 248.4 276.1 245.3 279.9 242.2 283.7 239.1 287.7 236.1M260.3 256.3 263.5 252.6 266.7 248.9 270.1 245.2 273.6 241.6 277.4 238.3M260.7 248.9 264.1 245.2 267.8 241.8 271.8 238.7 276.1 236.1M259.2 246.5 263.2 243.5 267.4 240.7 271.7 238.1M259.3 245.8 263.2 242.8 267.1 239.7 271.0 236.7M258.2 243.8 261.5 240.1 265.0 236.5" fill="none" stroke="#4ad6f2" stroke-width="1.15" opacity="1.0"/>
<filter id="rb" x="-10%" y="-10%" width="120%" height="120%"><feGaussianBlur stdDeviation="1.2"/></filter>
<path filter="url(#rb)" d="M182 200 C200 204 225 206 255 200 S290 192 300 190 M182 240 C200 237 225 230 242 220 S285 206 300 202 M230 276 C240 266 255 248 267 237 S290 222 300 217 M262 276 L300 240" stroke="#0a3078" stroke-width="2.6" fill="none" opacity="0.75"/>
<g fill="#1f66c8" opacity="0.9"><rect x="162" y="110" width="4" height="150"/><rect x="133" y="119" width="70" height="4"/><rect x="203" y="120" width="60" height="3.5" opacity="0.7"/><rect x="133" y="201" width="80" height="3"/></g>
<path d="M133 250 L222 238" stroke="#1b52a8" stroke-width="1.3" opacity="0.7"/>
<rect x="133" y="110" width="166" height="1.2" fill="#e8e4dc" opacity="0.6"/>
<radialGradient id="glare" cx="0.5" cy="0.5" r="0.5"><stop offset="0" stop-color="#fff" stop-opacity="0.95"/><stop offset="1" stop-color="#fff" stop-opacity="0"/></radialGradient>
<ellipse cx="215" cy="111" rx="9" ry="5" fill="url(#glare)"/>
<path d="M205 125 L215 111 L225 125" stroke="#dff0ff" stroke-width="0.8" fill="none" opacity="0.5"/>
<rect x="299" y="110" width="2.8" height="166" fill="#2f2b27"/>
<!-- back panel -->
<rect x="302" y="110" width="165" height="166" fill="url(#panelG)"/>
<rect x="466" y="110" width="1.2" height="166" fill="#c9c7c0" opacity="0.8"/>
<rect x="402" y="121" width="48" height="49" fill="url(#plate)"/>
<rect x="416" y="128" width="22" height="5" rx="1" fill="#d6d5ce"/>
<rect x="416" y="128" width="8" height="5" rx="1" fill="#8e8d88"/>
<!-- movement -->
<path d="M375.2 174 L382.3 167.4 L389.5 174" fill="none" stroke="#111" stroke-width="2.1" stroke-linejoin="round"/>
<rect x="365.3" y="173.4" width="34.4" height="34.5" rx="2.5" fill="#1a1a1a"/>
<rect x="367" y="199.8" width="24.7" height="7" fill="#c41b25"/>
<rect x="391.7" y="199.8" width="4.5" height="7" fill="#d9a51a"/>
<rect x="396.2" y="199.8" width="2.5" height="7" fill="#9a9a98"/>
<!-- orange foam -->
<rect x="407" y="253" width="4" height="11" fill="#999" opacity="0.5"/>
<rect x="395" y="252" width="12" height="11" fill="#f39a10"/>

<!-- numbers -->
<g font-family="Liberation Sans" font-weight="bold" font-size="16.3" fill="#fff" text-anchor="middle">
 <text x="216.25" y="133">12</text>
 <text x="248.5" y="140.5">1</text>
 <text x="274.6" y="165.7">2</text>
 <text x="283.6" y="199.7">3</text>
 <text x="274" y="233.7">4</text>
 <text x="250.9" y="257.4">5</text>
 <text x="215.9" y="266.2">6</text>
 <text x="181.8" y="255.8">7</text>
 <text x="157.3" y="233">8</text>
 <text x="148.2" y="200.6">9</text>
 <text x="162" y="165.3">10</text>
 <text x="184.25" y="142.2">11</text>
</g>
<!-- hands -->
<g stroke-linecap="butt">
 <line x1="216.5" y1="194" x2="188" y2="176.6" stroke="#e2e2e0" stroke-width="3.6"/>
 <line x1="216.5" y1="194" x2="262" y2="171.8" stroke="#e2e2e0" stroke-width="3.6"/>
 <line x1="217" y1="177" x2="214.3" y2="239.6" stroke="#cfcfcf" stroke-width="1.3"/>
 <circle cx="216.5" cy="194" r="1.8" fill="#d8c8b8"/>
</g>

<!-- connectors -->
<g fill="none" stroke="#111" stroke-width="1.6">
 <path d="M22 77.7 H136 Q148 77.7 156 86 L179.5 112.5"/>
 <path d="M22 207.4 H133 Q150 207.4 161 189"/>
 <path d="M22 313.6 H152 Q162 313.6 170 304.6 L191.8 278.5"/>
 <path d="M578 77.7 H464 Q452 77.7 444 86 L420.2 112.5"/>
 <path d="M578 207.4 H439 Q424 207.4 412 188.5"/>
 <path d="M578 313.6 H445.5 Q434 313.6 426 304.3 L404.2 275"/>
</g>
<g fill="none" stroke="#111" stroke-width="1.4">
 <circle cx="182" cy="115.4" r="3"/>
 <circle cx="163.7" cy="186" r="3"/>
 <circle cx="194.3" cy="275.7" r="3"/>
 <circle cx="417.7" cy="115.5" r="3"/>
 <circle cx="409.5" cy="185.6" r="3"/>
 <circle cx="401.8" cy="272.4" r="3"/>
</g>

<!-- icons -->
<g fill="none" stroke="#1a1a1a" stroke-width="1.4" stroke-linejoin="round" stroke-linecap="round">
 <!-- diamond -->
 <path d="M27.4 51.8 H41.6 L45.6 56.8 L34.1 70.2 L22.3 56.8 Z"/>
 <path d="M27.4 51.8 L29.6 57.2 L34.1 70.2 L38.6 57.2 L41.6 51.8 M29.6 57.2 L34.1 52 L38.6 57.2" stroke-width="1.1"/>
 <path d="M22.6 57.2 H45.4" stroke="#666" stroke-width="1.2"/>
 <!-- ultra HD -->
 <rect x="22.9" y="180.9" width="20.4" height="20.2" stroke-width="1.5" stroke-linejoin="miter"/>
 <!-- frame -->
 <rect x="555.1" y="53.7" width="22.3" height="17.5" rx="0.8" stroke-width="1.5"/>
 <path d="M561.3 53.5 L566 48.4 L570.8 53.5"/>
 <ellipse cx="568.6" cy="59.2" rx="1.9" ry="2.2" stroke-width="1.3"/>
 <path d="M555.3 67 L562 60.8 L567.3 66.2 M562.8 71 L572.8 62 L577.3 66.2"/>
 <!-- gear -->
 <path stroke-width="1.6" d="M562.99 182.16 L563.65 178.95 L568.35 178.95 L569.01 182.16 L569.42 182.33 L572.15 180.52 L575.48 183.85 L573.67 186.58 L573.84 186.99 L577.05 187.65 L577.05 192.35 L573.84 193.01 L573.67 193.42 L575.48 196.15 L572.15 199.48 L569.42 197.67 L569.01 197.84 L568.35 201.05 L563.65 201.05 L562.99 197.84 L562.58 197.67 L559.85 199.48 L556.52 196.15 L558.33 193.42 L558.16 193.01 L554.95 192.35 L554.95 187.65 L558.16 186.99 L558.33 186.58 L556.52 183.85 L559.85 180.52 L562.58 182.33Z"/>
 <circle cx="566" cy="190" r="3.7" stroke-width="1.6"/>
 <!-- foam icon -->
 <path stroke-width="1.4" d="M563.8 285.6 H568.6 V294 H571.2 L566.2 299.3 L561.4 294 H563.8 Z"/>
 <path stroke-width="1.4" d="M561.6 295.6 L555.4 299.3 L566.3 305.4 L577.8 299.3 L571.2 296 M555.4 299.3 V301.3 L566.3 307.6 L577.8 301.3 V299.3"/>
</g>
<text x="33.4" y="188.8" font-family="Liberation Sans" font-weight="bold" font-size="6.2" fill="#1a1a1a" text-anchor="middle">ultra</text>
<text x="33.6" y="197.6" font-family="Liberation Sans" font-weight="bold" font-size="9.4" fill="#1a1a1a" text-anchor="middle">HD</text>
<!-- bordi icon -->
<clipPath id="bclip"><rect x="22.6" y="284.6" width="24" height="22.4"/></clipPath>
<g stroke="#111" stroke-width="2.0" clip-path="url(#bclip)">
 <line x1="22.5" y1="284.5" x2="45.5" y2="307.5"/>
 <line x1="19.5" y1="287.5" x2="39.5" y2="307.5"/>
 <line x1="13.3" y1="287.5" x2="33.3" y2="307.5"/>
 <line x1="7.1" y1="287.5" x2="27.1" y2="307.5"/>
</g>

<!-- titles -->
<g font-family="Liberation Serif" font-size="10" letter-spacing="0.15" fill="#181818" stroke="#181818" stroke-width="0.35">
 <text x="52.6" y="58.7">VETRO</text>
 <text x="52.6" y="71.2">TEMPERATO</text>
 <text x="52" y="188.4">STAMPA DI</text>
 <text x="52" y="201.6">ALTA QUALITÀ</text>
 <text x="52" y="294.4">BORDI</text>
 <text x="52" y="307">LUCIDATI</text>
</g>
<g font-family="Liberation Serif" font-size="10" letter-spacing="0.15" fill="#181818" stroke="#181818" stroke-width="0.35" text-anchor="end">
 <text x="547.5" y="59">MANIGLIE</text>
 <text x="547.5" y="71.6">METALLICHE</text>
 <text x="547.5" y="188.4">MECCANISMO</text>
 <text x="547.5" y="201">SILENZIOSO</text>
 <text x="547.5" y="294.5">DISTANZIATORE</text>
 <text x="547.5" y="306.8">IN SCHIUMA</text>
</g>
<g font-family="Liberation Serif" font-size="9.25" letter-spacing="0.15" fill="#1c1c1c">
 <text x="22" y="88.2">Resistenza a rotture</text>
 <text x="22" y="97.5">e graffi</text>
 <text x="22" y="218.8">Colori intensi</text>
 <text x="22" y="228.4">e immagini vivide</text>
 <text x="22" y="325.9">Superficie liscia e sicura</text>
</g>
<g font-family="Liberation Serif" font-size="9.25" letter-spacing="0.15" fill="#1c1c1c" text-anchor="end">
 <text x="575.6" y="88.5">Consentono un facile</text>
 <text x="577.4" y="97.7">montaggio dell'orologio</text>
 <text x="577.4" y="106.8">a parete</text>
 <text x="577.4" y="218.8">Le lamelle dell'orologio</text>
 <text x="577.4" y="228.4">non emetton alcun suono</text>
 <text x="578.2" y="324.7">Permette di mantenere l'orologio</text>
 <text x="578.2" y="333.4">ad uguale distanza dal muro</text>
</g>
</svg>
</body></html>
